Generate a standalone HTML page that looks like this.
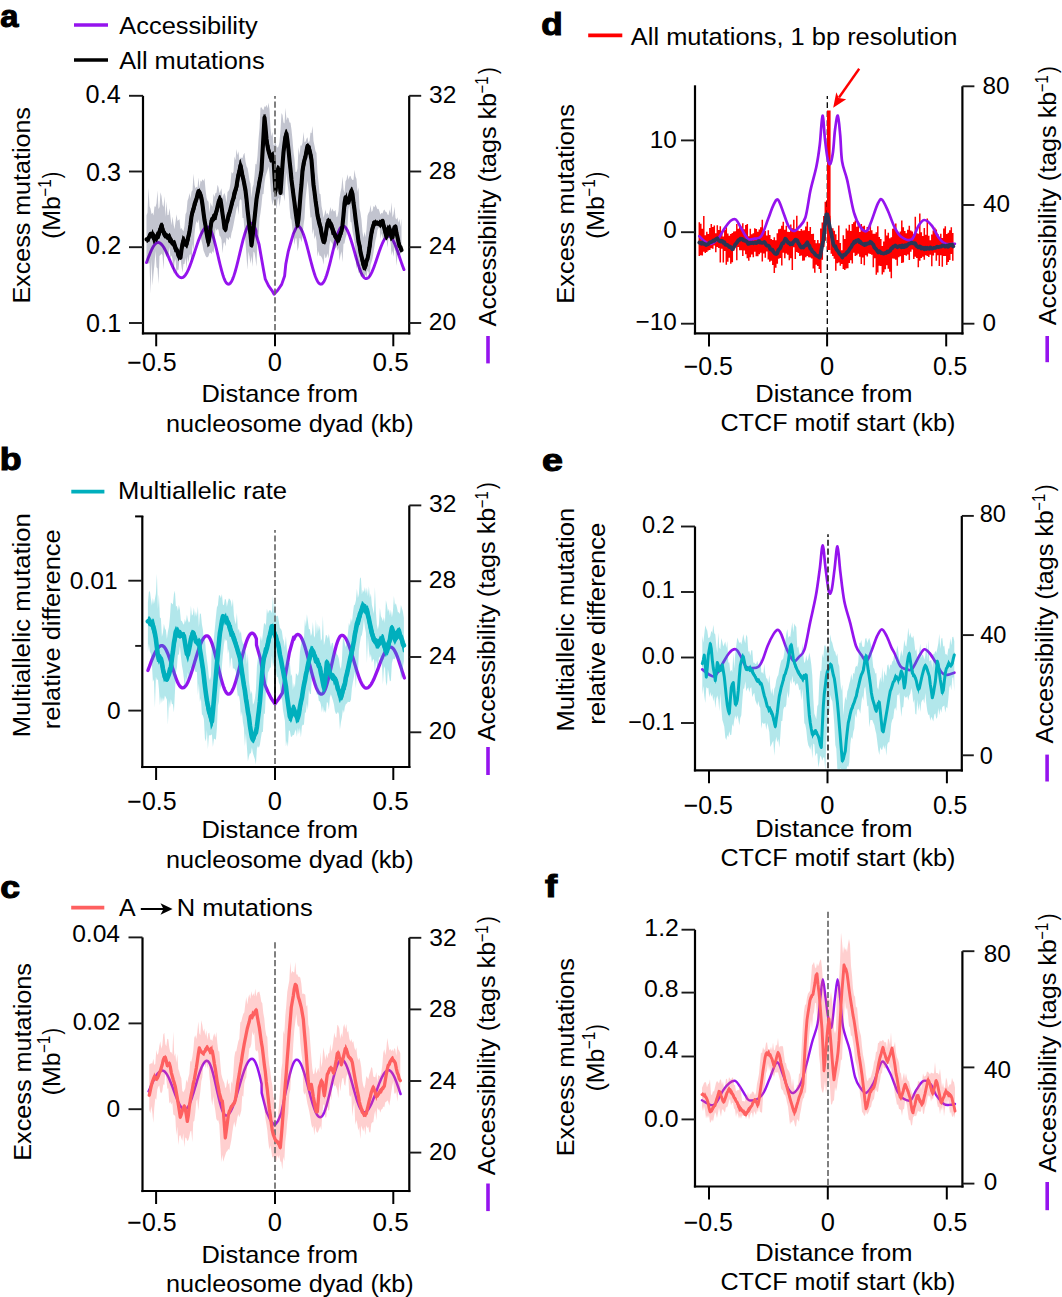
<!DOCTYPE html>
<html><head><meta charset="utf-8"><style>
html,body{margin:0;padding:0;background:#fff;overflow:hidden;width:1062px;height:1297px;}
svg{display:block;font-family:"Liberation Sans", sans-serif;}
</style></head><body>
<svg width="1062" height="1297" viewBox="0 0 1062 1297">
<rect width="1062" height="1297" fill="#fff"/>
<line x1="143" y1="95.8" x2="143" y2="334.4" stroke="#000" stroke-width="2.2"/>
<line x1="409.2" y1="95.8" x2="409.2" y2="334.4" stroke="#000" stroke-width="2.2"/>
<line x1="141.9" y1="333.3" x2="410.3" y2="333.3" stroke="#000" stroke-width="2.2"/>
<line x1="129" y1="95.8" x2="143" y2="95.8" stroke="#1a1a1a" stroke-width="1.9"/>
<line x1="129" y1="171.5" x2="143" y2="171.5" stroke="#1a1a1a" stroke-width="1.9"/>
<line x1="129" y1="247.2" x2="143" y2="247.2" stroke="#1a1a1a" stroke-width="1.9"/>
<line x1="129" y1="323" x2="143" y2="323" stroke="#1a1a1a" stroke-width="1.9"/>
<line x1="409.2" y1="95.8" x2="421.2" y2="95.8" stroke="#1a1a1a" stroke-width="1.9"/>
<line x1="409.2" y1="171.5" x2="421.2" y2="171.5" stroke="#1a1a1a" stroke-width="1.9"/>
<line x1="409.2" y1="247.2" x2="421.2" y2="247.2" stroke="#1a1a1a" stroke-width="1.9"/>
<line x1="409.2" y1="323" x2="421.2" y2="323" stroke="#1a1a1a" stroke-width="1.9"/>
<line x1="156.2" y1="333.3" x2="156.2" y2="346.3" stroke="#000" stroke-width="2"/>
<line x1="275" y1="333.3" x2="275" y2="346.3" stroke="#000" stroke-width="2"/>
<line x1="393.3" y1="333.3" x2="393.3" y2="346.3" stroke="#000" stroke-width="2"/>
<clipPath id="cp1"><rect x="144" y="40" width="264.2" height="292.2"/></clipPath><g clip-path="url(#cp1)">
<path d="M146.5 262.59 L147 261.25 L147.5 259.91 L148 258.58 L148.5 257.26 L149 255.97 L149.5 254.7 L150 253.46 L150.5 252.26 L151 251.11 L151.5 250.01 L152 248.97 L152.5 247.99 L153 247.08 L153.5 246.24 L154 245.48 L154.5 244.79 L155 244.19 L155.5 243.68 L156 243.26 L156.5 242.93 L157 242.69 L157.5 242.55 L158 242.5 L158.5 242.54 L159 242.66 L159.5 242.85 L160 243.12 L160.5 243.47 L161 243.88 L161.5 244.38 L162 244.94 L162.5 245.56 L163 246.26 L163.5 247.01 L164 247.82 L164.5 248.69 L165 249.6 L165.5 250.57 L166 251.57 L166.5 252.61 L167 253.69 L167.5 254.8 L168 255.92 L168.5 257.07 L169 258.23 L169.5 259.4 L170 260.57 L170.5 261.74 L171 262.9 L171.5 264.05 L172 265.18 L172.5 266.29 L173 267.37 L173.5 268.42 L174 269.44 L174.5 270.41 L175 271.33 L175.5 272.21 L176 273.03 L176.5 273.8 L177 274.5 L177.5 275.14 L178 275.72 L178.5 276.22 L179 276.66 L179.5 277.02 L180 277.3 L180.5 277.51 L181 277.64 L181.5 277.7 L182 277.67 L182.5 277.55 L183 277.33 L183.5 277.03 L184 276.63 L184.5 276.14 L185 275.57 L185.5 274.91 L186 274.17 L186.5 273.34 L187 272.44 L187.5 271.47 L188 270.42 L188.5 269.31 L189 268.14 L189.5 266.9 L190 265.62 L190.5 264.28 L191 262.9 L191.5 261.48 L192 260.03 L192.5 258.55 L193 257.05 L193.5 255.53 L194 253.99 L194.5 252.45 L195 250.91 L195.5 249.38 L196 247.86 L196.5 246.35 L197 244.86 L197.5 243.4 L198 241.98 L198.5 240.59 L199 239.25 L199.5 237.95 L200 236.71 L200.5 235.52 L201 234.39 L201.5 233.34 L202 232.35 L202.5 231.43 L203 230.59 L203.5 229.83 L204 229.15 L204.5 228.56 L205 228.06 L205.5 227.64 L206 227.32 L206.5 227.09 L207 226.95 L207.5 226.9 L208 226.98 L208.5 227.22 L209 227.63 L209.5 228.18 L210 228.9 L210.5 229.76 L211 230.77 L211.5 231.92 L212 233.21 L212.5 234.62 L213 236.15 L213.5 237.78 L214 239.52 L214.5 241.35 L215 243.26 L215.5 245.24 L216 247.27 L216.5 249.35 L217 251.47 L217.5 253.61 L218 255.77 L218.5 257.92 L219 260.05 L219.5 262.16 L220 264.24 L220.5 266.26 L221 268.23 L221.5 270.12 L222 271.93 L222.5 273.65 L223 275.27 L223.5 276.77 L224 278.16 L224.5 279.42 L225 280.54 L225.5 281.52 L226 282.36 L226.5 283.04 L227 283.57 L227.5 283.94 L228 284.15 L228.5 284.2 L229 284.09 L229.5 283.84 L230 283.45 L230.5 282.91 L231 282.23 L231.5 281.41 L232 280.46 L232.5 279.38 L233 278.17 L233.5 276.85 L234 275.42 L234.5 273.88 L235 272.24 L235.5 270.51 L236 268.7 L236.5 266.82 L237 264.88 L237.5 262.88 L238 260.84 L238.5 258.76 L239 256.66 L239.5 254.55 L240 252.43 L240.5 250.32 L241 248.22 L241.5 246.15 L242 244.11 L242.5 242.13 L243 240.19 L243.5 238.33 L244 236.54 L244.5 234.83 L245 233.21 L245.5 231.69 L246 230.28 L246.5 228.98 L247 227.79 L247.5 226.74 L248 225.81 L248.5 225.02 L249 224.37 L249.5 223.86 L250 223.49 L250.5 223.27 L251 223.2 L251.5 223.28 L252 223.51 L252.5 223.9 L253 224.45 L253.5 225.14 L254 225.99 L254.5 226.97 L255 228.1 L255.5 229.36 L256 230.75 L256.1 234.6 L259.1 244.5 L261 255.6 L263.7 270.7 L265.3 279.2 L268.6 285.8 L271.8 290.3 L274.1 294.2 L277.7 290.3 L281.7 284.4 L284.6 276 L285.8 264.1 L288.2 251.7 L290.8 242.5 L293.5 233.3 L296.7 226.8 L297 226.15 L297.5 226.01 L298 226.02 L298.5 226.17 L299 226.45 L299.5 226.86 L300 227.4 L300.5 228.07 L301 228.86 L301.5 229.77 L302 230.8 L302.5 231.93 L303 233.18 L303.5 234.52 L304 235.96 L304.5 237.49 L305 239.1 L305.5 240.78 L306 242.52 L306.5 244.33 L307 246.18 L307.5 248.08 L308 250 L308.5 251.95 L309 253.92 L309.5 255.89 L310 257.85 L310.5 259.81 L311 261.74 L311.5 263.64 L312 265.5 L312.5 267.32 L313 269.08 L313.5 270.77 L314 272.4 L314.5 273.94 L315 275.4 L315.5 276.76 L316 278.03 L316.5 279.19 L317 280.24 L317.5 281.17 L318 281.98 L318.5 282.68 L319 283.24 L319.5 283.68 L320 283.98 L320.5 284.16 L321 284.2 L321.5 284.09 L322 283.84 L322.5 283.45 L323 282.91 L323.5 282.23 L324 281.42 L324.5 280.47 L325 279.4 L325.5 278.2 L326 276.88 L326.5 275.46 L327 273.93 L327.5 272.3 L328 270.59 L328.5 268.81 L329 266.95 L329.5 265.03 L330 263.06 L330.5 261.06 L331 259.02 L331.5 256.96 L332 254.89 L332.5 252.83 L333 250.77 L333.5 248.74 L334 246.74 L334.5 244.78 L335 242.87 L335.5 241.03 L336 239.26 L336.5 237.56 L337 235.96 L337.5 234.45 L338 233.05 L338.5 231.75 L339 230.58 L339.5 229.53 L340 228.61 L340.5 227.82 L341 227.17 L341.5 226.66 L342 226.29 L342.5 226.07 L343 226 L343.5 226.06 L344 226.24 L344.5 226.54 L345 226.96 L345.5 227.49 L346 228.14 L346.5 228.9 L347 229.76 L347.5 230.73 L348 231.8 L348.5 232.96 L349 234.21 L349.5 235.55 L350 236.96 L350.5 238.44 L351 239.98 L351.5 241.58 L352 243.23 L352.5 244.92 L353 246.65 L353.5 248.4 L354 250.17 L354.5 251.94 L355 253.72 L355.5 255.5 L356 257.26 L356.5 258.99 L357 260.7 L357.5 262.36 L358 263.99 L358.5 265.55 L359 267.06 L359.5 268.5 L360 269.86 L360.5 271.15 L361 272.34 L361.5 273.45 L362 274.46 L362.5 275.37 L363 276.17 L363.5 276.86 L364 277.44 L364.5 277.91 L365 278.25 L365.5 278.48 L366 278.59 L366.5 278.58 L367 278.46 L367.5 278.24 L368 277.91 L368.5 277.48 L369 276.95 L369.5 276.32 L370 275.6 L370.5 274.79 L371 273.88 L371.5 272.9 L372 271.84 L372.5 270.7 L373 269.5 L373.5 268.23 L374 266.92 L374.5 265.55 L375 264.14 L375.5 262.7 L376 261.24 L376.5 259.75 L377 258.25 L377.5 256.75 L378 255.25 L378.5 253.76 L379 252.29 L379.5 250.84 L380 249.43 L380.5 248.05 L381 246.72 L381.5 245.45 L382 244.24 L382.5 243.09 L383 242.01 L383.5 241.01 L384 240.09 L384.5 239.26 L385 238.51 L385.5 237.86 L386 237.31 L386.5 236.86 L387 236.52 L387.5 236.27 L388 236.13 L388.5 236.1 L389 236.17 L389.5 236.35 L390 236.63 L390.5 237.01 L391 237.49 L391.5 238.06 L392 238.73 L392.5 239.49 L393 240.34 L393.5 241.27 L394 242.28 L394.5 243.36 L395 244.51 L395.5 245.73 L396 247 L396.5 248.32 L397 249.69 L397.5 251.09 L398 252.53 L398.5 253.99 L399 255.47 L399.5 256.95 L400 258.44 L400.5 259.93 L401 261.41 L401.5 262.86 L402 264.29 L402.5 265.69 L403 267.05 L403.5 268.36 L404 269.62" fill="none" stroke="#9513ee" stroke-width="2.9" stroke-linejoin="round" stroke-linecap="round"/>
<path d="M146.5 215.32 L147.5 212.85 L148.5 187.83 L149.5 206.22 L150.5 208.61 L151.5 214.09 L152.5 212.66 L153.5 215.43 L154.5 206.21 L155.5 207.12 L156.5 203.23 L157.5 190.39 L158.5 209.02 L159.5 206.9 L160.5 192.23 L161.5 196.22 L162.5 204.77 L163.5 206.99 L164.5 196.19 L165.5 216.76 L166.5 201.57 L167.5 215.21 L168.5 215.04 L169.5 208.18 L170.5 216.98 L171.5 225.27 L172.5 216.57 L173.5 223.97 L174.5 229.26 L175.5 222.09 L176.5 214.22 L177.5 221.07 L178.5 219.88 L179.5 219.31 L180.5 228.92 L181.5 227.95 L182.5 229.91 L183.5 231.37 L184.5 225.83 L185.5 214.17 L186.5 211.99 L187.5 200.73 L188.5 198.02 L189.5 193.09 L190.5 198.81 L191.5 191.84 L192.5 190.35 L193.5 173.68 L194.5 185.07 L195.5 188.28 L196.5 186.76 L197.5 187.82 L198.5 177.56 L199.5 188.38 L200.5 180.49 L201.5 181.69 L202.5 179.19 L203.5 181 L204.5 178.28 L205.5 189.47 L206.5 197.53 L207.5 200.78 L208.5 201.86 L209.5 212.63 L210.5 202.62 L211.5 205.18 L212.5 206.67 L213.5 193.74 L214.5 196.95 L215.5 193.09 L216.5 192.67 L217.5 184.85 L218.5 187.25 L219.5 193.23 L220.5 190.82 L221.5 188.17 L222.5 198.3 L223.5 194.72 L224.5 193.1 L225.5 196.35 L226.5 203.1 L227.5 192.1 L228.5 190.93 L229.5 189.06 L230.5 183.09 L231.5 171.92 L232.5 173.52 L233.5 171.87 L234.5 156.41 L235.5 160.35 L236.5 148.98 L237.5 155.21 L238.5 151.13 L239.5 160.67 L240.5 157.43 L241.5 157.72 L242.5 158.09 L243.5 154.5 L244.5 152.7 L245.5 161.56 L246.5 166.3 L247.5 168.1 L248.5 173.44 L249.5 180.62 L250.5 183.82 L251.5 197.6 L252.5 187.48 L253.5 184.59 L254.5 175.45 L255.5 163.71 L256.5 164.55 L257.5 155.68 L258.5 139.52 L259.5 128.22 L260.5 107.74 L261.5 107.3 L262.5 109.3 L263.5 109.92 L264.5 106.2 L265.5 106.93 L266.5 104.78 L267.5 108.32 L268.5 102.84 L269.5 109.54 L270.5 128.16 L271.5 136.53 L272.5 131.8 L273.5 145.16 L274.5 144.87 L275.5 142.64 L276.5 146.3 L277.5 147.64 L278.5 146.24 L279.5 141.88 L280.5 129.95 L281.5 112.99 L282.5 114.91 L283.5 122.49 L284.5 123.49 L285.5 107.84 L286.5 120.5 L287.5 117.22 L288.5 118.31 L289.5 122.49 L290.5 122.64 L291.5 129.85 L292.5 139.84 L293.5 151.69 L294.5 159.36 L295.5 172.03 L296.5 171.92 L297.5 168.51 L298.5 147.31 L299.5 155.16 L300.5 145.56 L301.5 145.8 L302.5 142.74 L303.5 131.91 L304.5 142.56 L305.5 141.44 L306.5 138.63 L307.5 137.25 L308.5 142.5 L309.5 141.27 L310.5 132.45 L311.5 133.14 L312.5 126.04 L313.5 140.94 L314.5 145.67 L315.5 150.95 L316.5 152.99 L317.5 173.06 L318.5 182.24 L319.5 193.56 L320.5 194.35 L321.5 206.02 L322.5 210.95 L323.5 217.68 L324.5 214.29 L325.5 209.41 L326.5 214.49 L327.5 212.85 L328.5 215.53 L329.5 211.31 L330.5 206.95 L331.5 211.65 L332.5 208.49 L333.5 211.29 L334.5 211.35 L335.5 209.78 L336.5 217.34 L337.5 216.22 L338.5 211.03 L339.5 198.33 L340.5 192.2 L341.5 187.54 L342.5 176.51 L343.5 189.44 L344.5 192.95 L345.5 181.3 L346.5 179.5 L347.5 174.22 L348.5 179.68 L349.5 176.62 L350.5 175.79 L351.5 178.65 L352.5 179.89 L353.5 179.86 L354.5 169.76 L355.5 176.6 L356.5 178.95 L357.5 192.05 L358.5 187.33 L359.5 207.94 L360.5 212.64 L361.5 219.89 L362.5 232.09 L363.5 237.69 L364.5 231.86 L365.5 237.16 L366.5 229.5 L367.5 215.81 L368.5 212.92 L369.5 211.47 L370.5 204.99 L371.5 212.03 L372.5 210.72 L373.5 206.05 L374.5 207.37 L375.5 204.62 L376.5 207.11 L377.5 209.18 L378.5 208.63 L379.5 211.55 L380.5 214.85 L381.5 212.65 L382.5 213.47 L383.5 210.57 L384.5 209.38 L385.5 211.7 L386.5 212.09 L387.5 214.48 L388.5 215.27 L389.5 209.46 L390.5 213.72 L391.5 202.27 L392.5 217.42 L393.5 214.05 L394.5 206.81 L395.5 218.11 L396.5 219.48 L397.5 217.36 L398.5 222.83 L399.5 218.69 L400.5 227 L401.5 218.31 L401.5 251.15 L400.5 253.82 L399.5 254.65 L398.5 255.87 L397.5 254.56 L396.5 265.85 L395.5 251.63 L394.5 246.7 L393.5 256.8 L392.5 250.7 L391.5 255.55 L390.5 240.44 L389.5 239.2 L388.5 237.9 L387.5 247.72 L386.5 237.8 L385.5 237.3 L384.5 240.47 L383.5 240.78 L382.5 237.3 L381.5 233.41 L380.5 238.88 L379.5 225.62 L378.5 228.18 L377.5 230.11 L376.5 236.36 L375.5 240.37 L374.5 246.42 L373.5 252.85 L372.5 258.38 L371.5 262.05 L370.5 265.32 L369.5 279.66 L368.5 271.88 L367.5 270.39 L366.5 277.95 L365.5 274.18 L364.5 277.29 L363.5 274.39 L362.5 274.46 L361.5 277.38 L360.5 275.71 L359.5 272.29 L358.5 272.69 L357.5 263.05 L356.5 269.14 L355.5 251.2 L354.5 242.07 L353.5 236.58 L352.5 231.15 L351.5 222.57 L350.5 221.64 L349.5 205.54 L348.5 209.34 L347.5 225.9 L346.5 234.87 L345.5 238.36 L344.5 243.52 L343.5 243.84 L342.5 262.15 L341.5 251.16 L340.5 254.95 L339.5 260.8 L338.5 247.86 L337.5 250.86 L336.5 246.13 L335.5 249.12 L334.5 245.15 L333.5 249.91 L332.5 243.64 L331.5 242.57 L330.5 240.17 L329.5 245.23 L328.5 258.55 L327.5 253.37 L326.5 257.21 L325.5 258.13 L324.5 253.59 L323.5 264.68 L322.5 259.26 L321.5 257.01 L320.5 255.73 L319.5 255.68 L318.5 250.89 L317.5 256.85 L316.5 241.11 L315.5 234.89 L314.5 239.31 L313.5 228.46 L312.5 234.39 L311.5 216.97 L310.5 217.63 L309.5 204.45 L308.5 188.81 L307.5 180.66 L306.5 189.89 L305.5 199.33 L304.5 218.24 L303.5 225.17 L302.5 236.5 L301.5 242.37 L300.5 238.72 L299.5 237.79 L298.5 247.27 L297.5 251.05 L296.5 238.5 L295.5 238.19 L294.5 245.12 L293.5 235.35 L292.5 229.89 L291.5 220.27 L290.5 218 L289.5 208.09 L288.5 191.53 L287.5 183.67 L286.5 172.38 L285.5 184.36 L284.5 201.38 L283.5 194.61 L282.5 195.95 L281.5 193.42 L280.5 199.94 L279.5 206.68 L278.5 197.45 L277.5 200.46 L276.5 209.62 L275.5 200.13 L274.5 199.6 L273.5 200.43 L272.5 205.23 L271.5 199.36 L270.5 186.28 L269.5 173.81 L268.5 166.39 L267.5 170.55 L266.5 173.53 L265.5 176.48 L264.5 183.15 L263.5 194.09 L262.5 194.35 L261.5 204.75 L260.5 213.1 L259.5 218.69 L258.5 239.35 L257.5 237.6 L256.5 266.68 L255.5 258.99 L254.5 252.84 L253.5 251.42 L252.5 266.97 L251.5 256.03 L250.5 263.79 L249.5 256.84 L248.5 251.35 L247.5 269.83 L246.5 256.39 L245.5 242.62 L244.5 229.94 L243.5 218.01 L242.5 218.04 L241.5 200.6 L240.5 198.96 L239.5 201.07 L238.5 215.06 L237.5 205.76 L236.5 208.77 L235.5 214.59 L234.5 219.38 L233.5 225.07 L232.5 229.78 L231.5 233.11 L230.5 239.02 L229.5 236.77 L228.5 240.36 L227.5 238.48 L226.5 237.52 L225.5 246.45 L224.5 242.09 L223.5 243.4 L222.5 253.37 L221.5 239.63 L220.5 236.86 L219.5 235.87 L218.5 229.75 L217.5 228.97 L216.5 230.77 L215.5 227.69 L214.5 246.52 L213.5 252.97 L212.5 250.88 L211.5 254.21 L210.5 252.38 L209.5 252.93 L208.5 256.17 L207.5 257.18 L206.5 257.14 L205.5 255.65 L204.5 252.89 L203.5 250.42 L202.5 245.02 L201.5 240.87 L200.5 235.21 L199.5 228.26 L198.5 219.23 L197.5 223.32 L196.5 220.91 L195.5 225.28 L194.5 234.18 L193.5 250.58 L192.5 244.01 L191.5 262.11 L190.5 254.08 L189.5 255.03 L188.5 262.71 L187.5 256.21 L186.5 269.03 L185.5 257.65 L184.5 264.03 L183.5 263.9 L182.5 272.59 L181.5 266.54 L180.5 259.04 L179.5 259.04 L178.5 270.05 L177.5 269.53 L176.5 274.66 L175.5 259.04 L174.5 262.31 L173.5 274.47 L172.5 259.1 L171.5 255.31 L170.5 258.15 L169.5 247.05 L168.5 254.99 L167.5 253.96 L166.5 257.54 L165.5 254.55 L164.5 248.82 L163.5 269.54 L162.5 255.22 L161.5 253.51 L160.5 255.02 L159.5 255.88 L158.5 284.12 L157.5 268.56 L156.5 267.17 L155.5 250.78 L154.5 263.67 L153.5 273.52 L152.5 285.6 L151.5 259 L150.5 293.91 L149.5 263.05 L148.5 263.61 L147.5 263.87 L146.5 259.86 Z" fill="#0a1440" fill-opacity="0.25" stroke="none"/>
<path d="M146.5 239.42 L147.5 239.36 L148.5 238.17 L149.5 236.12 L150.5 233.88 L151.5 233.7 L152.5 235.01 L153.5 237.92 L154.5 238.75 L155.5 238.89 L156.5 236.44 L157.5 236.67 L158.5 234.33 L159.5 231.97 L160.5 228.99 L161.5 225.24 L162.5 229.17 L163.5 232.12 L164.5 234.38 L165.5 235.83 L166.5 235.11 L167.5 237.73 L168.5 237.89 L169.5 238.68 L170.5 240.75 L171.5 240.95 L172.5 243.67 L173.5 244.25 L174.5 245.82 L175.5 248.63 L176.5 249.98 L177.5 251.84 L178.5 255.75 L179.5 257.13 L180.5 257.64 L181.5 249.77 L182.5 243.8 L183.5 240.51 L184.5 242.18 L185.5 244.8 L186.5 244.63 L187.5 240 L188.5 236.07 L189.5 231.52 L190.5 224.58 L191.5 216.33 L192.5 211.8 L193.5 209.24 L194.5 204.39 L195.5 201.25 L196.5 198.84 L197.5 194.32 L198.5 191.01 L199.5 192.25 L200.5 194.83 L201.5 198.4 L202.5 204.67 L203.5 212.79 L204.5 220.2 L205.5 225.71 L206.5 232.55 L207.5 238.25 L208.5 242.25 L209.5 236.7 L210.5 228.15 L211.5 220.8 L212.5 218.69 L213.5 217.78 L214.5 216.24 L215.5 214.06 L216.5 211.1 L217.5 206.83 L218.5 202.32 L219.5 199.59 L220.5 199.78 L221.5 206.26 L222.5 213.75 L223.5 220.25 L224.5 228.13 L225.5 229.4 L226.5 222.79 L227.5 220.57 L228.5 215.32 L229.5 212.77 L230.5 208.98 L231.5 204.99 L232.5 200.69 L233.5 198.2 L234.5 192.72 L235.5 189.86 L236.5 186.37 L237.5 179.72 L238.5 174.79 L239.5 170.56 L240.5 165.31 L241.5 170.62 L242.5 176.01 L243.5 179.77 L244.5 185.08 L245.5 190.49 L246.5 198.93 L247.5 209.54 L248.5 218.27 L249.5 227.07 L250.5 234.58 L251.5 245.2 L252.5 237.55 L253.5 227.73 L254.5 219.01 L255.5 209.17 L256.5 199.45 L257.5 193.39 L258.5 187.83 L259.5 181.63 L260.5 176.41 L261.5 170.25 L262.5 152.62 L263.5 135.41 L264.5 117.62 L265.5 127.57 L266.5 138.99 L267.5 146.17 L268.5 150.88 L269.5 154.35 L270.5 157.83 L271.5 157.82 L272.5 156.5 L273.5 158.56 L274.5 176.3 L275.5 190.99 L276.5 182.46 L277.5 170.58 L278.5 169.22 L279.5 181.47 L280.5 192.91 L281.5 179.42 L282.5 165.15 L283.5 152.18 L284.5 143.65 L285.5 136.63 L286.5 133.9 L287.5 141.13 L288.5 149.63 L289.5 160.26 L290.5 169.24 L291.5 179.98 L292.5 187.85 L293.5 195.85 L294.5 202.7 L295.5 210.97 L296.5 218.35 L297.5 225.51 L298.5 219.17 L299.5 207.91 L300.5 194.74 L301.5 184.32 L302.5 170.71 L303.5 164.31 L304.5 159.79 L305.5 156.75 L306.5 150.91 L307.5 145.82 L308.5 147.08 L309.5 150.13 L310.5 154.47 L311.5 160.16 L312.5 172.61 L313.5 185.01 L314.5 191.99 L315.5 200.36 L316.5 207.23 L317.5 215.19 L318.5 219.72 L319.5 224.4 L320.5 227.28 L321.5 233.41 L322.5 237.91 L323.5 241.86 L324.5 241.11 L325.5 235.31 L326.5 229.12 L327.5 222.97 L328.5 222.99 L329.5 224.24 L330.5 225.21 L331.5 226.92 L332.5 229.19 L333.5 231.31 L334.5 233.74 L335.5 235.36 L336.5 238 L337.5 238.22 L338.5 239.37 L339.5 236.9 L340.5 233.42 L341.5 231.22 L342.5 225.24 L343.5 215.04 L344.5 203.28 L345.5 197.33 L346.5 200.58 L347.5 201.63 L348.5 202.61 L349.5 198.49 L350.5 193.67 L351.5 190.79 L352.5 194.1 L353.5 202.65 L354.5 209.69 L355.5 218.41 L356.5 226.08 L357.5 233.43 L358.5 241.65 L359.5 245.44 L360.5 252.22 L361.5 256.24 L362.5 260.27 L363.5 264.64 L364.5 268.32 L365.5 265.76 L366.5 260.81 L367.5 258.78 L368.5 253.78 L369.5 247.39 L370.5 239.17 L371.5 232.79 L372.5 228.19 L373.5 225.54 L374.5 222.33 L375.5 223.95 L376.5 222.89 L377.5 223.01 L378.5 224.24 L379.5 223.72 L380.5 222.25 L381.5 222.61 L382.5 220.8 L383.5 225.19 L384.5 228.9 L385.5 232.98 L386.5 236.56 L387.5 231.89 L388.5 227.85 L389.5 228.59 L390.5 233.58 L391.5 235.97 L392.5 237.38 L393.5 231.27 L394.5 227.24 L395.5 226.73 L396.5 233 L397.5 237.2 L398.5 241.96 L399.5 246.14 L400.5 247.23 L401.5 250.07" fill="none" stroke="#000" stroke-width="4.1" stroke-linejoin="round" stroke-linecap="round"/>
<path d="M146.5 238.06 L147.5 236.93 L148.5 234.08 L149.5 233.81 L150.5 233.2 L151.5 232.14 L152.5 228.68 L153.5 231.65 L154.5 233.08 L155.5 235.09 L156.5 231.74 L157.5 231.49 L158.5 228.34 L159.5 226.74 L160.5 222.82 L161.5 222.79 L162.5 222.44 L163.5 224.79 L164.5 229.65 L165.5 230.99 L166.5 232.49 L167.5 234.46 L168.5 234 L169.5 232.79 L170.5 234.24 L171.5 237.07 L172.5 238.45 L173.5 240.74 L174.5 239.73 L175.5 240.87 L176.5 243.98 L177.5 247.3 L178.5 248.68 L179.5 251.15 L180.5 246.36 L181.5 240.32 L182.5 234.95 L183.5 236.22 L184.5 236.45 L185.5 239.95 L186.5 238.01 L187.5 233.84 L188.5 228.89 L189.5 220.45 L190.5 214.11 L191.5 208 L192.5 206.67 L193.5 202.69 L194.5 199.79 L195.5 197.29 L196.5 193.77 L197.5 189.63 L198.5 189.7 L199.5 187.99 L200.5 190.39 L201.5 192.29 L202.5 195.37 L203.5 202.02 L204.5 210.08 L205.5 217.58 L206.5 223.76 L207.5 229.48 L208.5 233.31 L209.5 226.66 L210.5 217.69 L211.5 217.42 L212.5 213.97 L213.5 214.11 L214.5 211.51 L215.5 210.1 L216.5 206.19 L217.5 200.28 L218.5 196.22 L219.5 194.73 L220.5 195.26 L221.5 198.24 L222.5 203.89 L223.5 211.57 L224.5 217.88 L225.5 221.34 L226.5 217.78 L227.5 212.86 L228.5 210.8 L229.5 208.17 L230.5 202.69 L231.5 197.91 L232.5 194.35 L233.5 189.7 L234.5 188.76 L235.5 184.35 L236.5 174.69 L237.5 172.04 L238.5 166.5 L239.5 160.37 L240.5 158.87 L241.5 162.85 L242.5 166.56 L243.5 171.88 L244.5 177.57 L245.5 183.32 L246.5 187.95 L247.5 196.84 L248.5 205.74 L249.5 216.16 L250.5 225.64 L251.5 233.11 L252.5 222.68 L253.5 214.66 L254.5 206.23 L255.5 196.42 L256.5 189.82 L257.5 182.85 L258.5 178.07 L259.5 173.89 L260.5 166.8 L261.5 148.93 L262.5 131.23 L263.5 114.35 L264.5 114.44 L265.5 114.05 L266.5 124.56 L267.5 135.94 L268.5 142.37 L269.5 145.89 L270.5 150.5 L271.5 152.89 L272.5 151.85 L273.5 150.92 L274.5 156.15 L275.5 171.65 L276.5 167.21 L277.5 164.7 L278.5 165.41 L279.5 166.15 L280.5 177.64 L281.5 160.78 L282.5 149.72 L283.5 138.3 L284.5 132.84 L285.5 129.53 L286.5 128.75 L287.5 131.62 L288.5 139.49 L289.5 147.54 L290.5 157.36 L291.5 167.08 L292.5 177.07 L293.5 185.77 L294.5 189.73 L295.5 200.01 L296.5 208.54 L297.5 215.13 L298.5 204.64 L299.5 193.38 L300.5 179.1 L301.5 167.98 L302.5 162.48 L303.5 156.56 L304.5 153.4 L305.5 147.4 L306.5 144.55 L307.5 143.35 L308.5 143.43 L309.5 145.86 L310.5 145.61 L311.5 151.82 L312.5 155.35 L313.5 167.22 L314.5 176.5 L315.5 189.22 L316.5 196.8 L317.5 202.97 L318.5 210.04 L319.5 216.14 L320.5 218.77 L321.5 223.76 L322.5 228.06 L323.5 233.94 L324.5 232.06 L325.5 226.41 L326.5 219.28 L327.5 218.42 L328.5 217.45 L329.5 219.12 L330.5 218.77 L331.5 221.3 L332.5 222.54 L333.5 224.71 L334.5 228.33 L335.5 233.05 L336.5 234.08 L337.5 234.83 L338.5 235.42 L339.5 232.03 L340.5 229.46 L341.5 221.78 L342.5 212.39 L343.5 201.7 L344.5 195.66 L345.5 195.77 L346.5 191.97 L347.5 196.97 L348.5 195.92 L349.5 192.3 L350.5 188.42 L351.5 186.61 L352.5 187.57 L353.5 192.16 L354.5 200.83 L355.5 208.13 L356.5 217 L357.5 222.83 L358.5 230.18 L359.5 237.27 L360.5 242.33 L361.5 246.87 L362.5 253.97 L363.5 260.27 L364.5 261.75 L365.5 258.82 L366.5 256.15 L367.5 249.13 L368.5 242.25 L369.5 238.8 L370.5 230.21 L371.5 225.16 L372.5 221.05 L373.5 221.8 L374.5 221.8 L375.5 218.93 L376.5 220.86 L377.5 220.32 L378.5 221.17 L379.5 219.39 L380.5 220 L381.5 220.33 L382.5 220.64 L383.5 218.49 L384.5 221.74 L385.5 225.19 L386.5 230.77 L387.5 224.39 L388.5 225.94 L389.5 224.15 L390.5 224.91 L391.5 229.78 L392.5 228.93 L393.5 225.5 L394.5 224.76 L395.5 224.34 L396.5 225.36 L397.5 229.92 L398.5 236.2 L399.5 239.7 L400.5 244.34 L401.5 245.97 L401.5 252.01 L400.5 252.84 L399.5 248.82 L398.5 246.75 L397.5 243.2 L396.5 239.82 L395.5 234.92 L394.5 234.33 L393.5 237.61 L392.5 237.8 L391.5 240.91 L390.5 241.27 L389.5 236.32 L388.5 234.97 L387.5 239.1 L386.5 240.47 L385.5 239.58 L384.5 236.24 L383.5 231.86 L382.5 227.25 L381.5 226.52 L380.5 228.42 L379.5 227.19 L378.5 225.15 L377.5 224.95 L376.5 224.71 L375.5 224.32 L374.5 227.07 L373.5 232.59 L372.5 235.81 L371.5 245.93 L370.5 250.61 L369.5 256.36 L368.5 260.22 L367.5 265.59 L366.5 267.7 L365.5 271.71 L364.5 268.8 L363.5 269.12 L362.5 266.75 L361.5 265.23 L360.5 260.24 L359.5 254.43 L358.5 248.92 L357.5 244.45 L356.5 236.27 L355.5 227.94 L354.5 221.87 L353.5 212.05 L352.5 206.38 L351.5 196.18 L350.5 200.63 L349.5 204.06 L348.5 203.95 L347.5 204.53 L346.5 205.74 L345.5 208.82 L344.5 218.57 L343.5 228.17 L342.5 234.69 L341.5 235.76 L340.5 240.36 L339.5 242.87 L338.5 242.66 L337.5 246.13 L336.5 243.07 L335.5 240.65 L334.5 239.1 L333.5 237.74 L332.5 234.89 L331.5 234.82 L330.5 229.16 L329.5 227.71 L328.5 226.3 L327.5 234.2 L326.5 239 L325.5 244.32 L324.5 244.5 L323.5 243.76 L322.5 242.96 L321.5 239.46 L320.5 235.34 L319.5 230.16 L318.5 226.77 L317.5 222.26 L316.5 218.36 L315.5 210.78 L314.5 204.18 L313.5 195.55 L312.5 187.86 L311.5 175.29 L310.5 162.95 L309.5 155.93 L308.5 154.16 L307.5 152.78 L306.5 157.49 L305.5 164.19 L304.5 169.23 L303.5 174.43 L302.5 187.78 L301.5 197.27 L300.5 209.38 L299.5 222.49 L298.5 227.19 L297.5 226.89 L296.5 229.46 L295.5 219.98 L294.5 212.96 L293.5 205.84 L292.5 196.31 L291.5 188.95 L290.5 184.18 L289.5 173.49 L288.5 164.19 L287.5 151.69 L286.5 145.04 L285.5 147.77 L284.5 154.72 L283.5 167.01 L282.5 182.5 L281.5 194.42 L280.5 194.41 L279.5 194.04 L278.5 181.96 L277.5 187.41 L276.5 196.89 L275.5 194.35 L274.5 193.16 L273.5 177.18 L272.5 162.07 L271.5 162.38 L270.5 162.65 L269.5 161.57 L268.5 155.7 L267.5 153.18 L266.5 149.45 L265.5 143.84 L264.5 139.09 L263.5 154.73 L262.5 172.61 L261.5 179.43 L260.5 185.95 L259.5 192.01 L258.5 195.4 L257.5 202.62 L256.5 212.92 L255.5 221.63 L254.5 230 L253.5 241.11 L252.5 248.05 L251.5 247.46 L250.5 246.56 L249.5 238.25 L248.5 230.71 L247.5 220.75 L246.5 211.82 L245.5 203.66 L244.5 194.63 L243.5 188.38 L242.5 182.9 L241.5 178.71 L240.5 173.59 L239.5 178.58 L238.5 185.9 L237.5 190.47 L236.5 193.97 L235.5 198.46 L234.5 200.4 L233.5 204.75 L232.5 206.64 L231.5 210.72 L230.5 216.36 L229.5 218.38 L228.5 222.44 L227.5 225.42 L226.5 231.42 L225.5 232.38 L224.5 231.85 L223.5 228.88 L222.5 223.62 L221.5 215.63 L220.5 209.49 L219.5 206.1 L218.5 211.12 L217.5 215.25 L216.5 220.11 L215.5 220.09 L214.5 221.27 L213.5 222.12 L212.5 224.69 L211.5 231.1 L210.5 238.62 L209.5 245.93 L208.5 246.54 L207.5 247.38 L206.5 241.4 L205.5 234.75 L204.5 228.38 L203.5 221.8 L202.5 214.01 L201.5 209.83 L200.5 202.01 L199.5 198.22 L198.5 197.64 L197.5 202.12 L196.5 205.39 L195.5 207.89 L194.5 212.27 L193.5 214.55 L192.5 220.1 L191.5 226.06 L190.5 234.39 L189.5 240.57 L188.5 243.15 L187.5 248.22 L186.5 248.42 L185.5 246.58 L184.5 245.91 L183.5 245.7 L182.5 253.64 L181.5 258 L180.5 260.09 L179.5 259.04 L178.5 261.38 L177.5 257.6 L176.5 254.9 L175.5 251.56 L174.5 252.6 L173.5 247.9 L172.5 245.44 L171.5 244.6 L170.5 243.53 L169.5 243.21 L168.5 242.58 L167.5 239.82 L166.5 238.79 L165.5 238.31 L164.5 238.53 L163.5 236.95 L162.5 234.98 L161.5 231.21 L160.5 235.44 L159.5 238.78 L158.5 239.11 L157.5 241.06 L156.5 242.31 L155.5 241.37 L154.5 243.34 L153.5 243.91 L152.5 240.23 L151.5 237.43 L150.5 238.28 L149.5 241.71 L148.5 241.84 L147.5 243.05 L146.5 242.41 Z" fill="#000" stroke="none"/>
<line x1="275" y1="96" x2="275" y2="333" stroke="#6a6a6a" stroke-width="1.7" stroke-dasharray="6.2 2.7" stroke-dashoffset="3.4"/>
</g>
<line x1="74" y1="25" x2="108" y2="25" stroke="#9513ee" stroke-width="3.7"/>
<line x1="74" y1="60" x2="108" y2="60" stroke="#000" stroke-width="3.7"/>
<line x1="488" y1="336" x2="488" y2="363.4" stroke="#9513ee" stroke-width="3.6"/>
<line x1="142.3" y1="516" x2="142.3" y2="768.1" stroke="#000" stroke-width="2.2"/>
<line x1="409.3" y1="505.4" x2="409.3" y2="768.1" stroke="#000" stroke-width="2.2"/>
<line x1="141.2" y1="767" x2="410.4" y2="767" stroke="#000" stroke-width="2.2"/>
<line x1="128.3" y1="580.7" x2="142.3" y2="580.7" stroke="#1a1a1a" stroke-width="1.9"/>
<line x1="128.3" y1="710.6" x2="142.3" y2="710.6" stroke="#1a1a1a" stroke-width="1.9"/>
<line x1="409.3" y1="505.4" x2="421.3" y2="505.4" stroke="#1a1a1a" stroke-width="1.9"/>
<line x1="409.3" y1="581.2" x2="421.3" y2="581.2" stroke="#1a1a1a" stroke-width="1.9"/>
<line x1="409.3" y1="657" x2="421.3" y2="657" stroke="#1a1a1a" stroke-width="1.9"/>
<line x1="409.3" y1="732.3" x2="421.3" y2="732.3" stroke="#1a1a1a" stroke-width="1.9"/>
<line x1="156.1" y1="767" x2="156.1" y2="780" stroke="#000" stroke-width="2"/>
<line x1="275" y1="767" x2="275" y2="780" stroke="#000" stroke-width="2"/>
<line x1="393.3" y1="767" x2="393.3" y2="780" stroke="#000" stroke-width="2"/>
<line x1="135.2" y1="645.9" x2="142.3" y2="645.9" stroke="#1a1a1a" stroke-width="1.9"/>
<line x1="135.1" y1="516.4" x2="143.3" y2="516.4" stroke="#000" stroke-width="2"/>
<clipPath id="cp2"><rect x="144" y="480" width="264.3" height="285.9"/></clipPath><g clip-path="url(#cp2)">
<path d="M147.9 670.5 L148.4 669.15 L148.9 667.8 L149.4 666.45 L149.9 665.1 L150.4 663.77 L150.9 662.45 L151.4 661.15 L151.9 659.87 L152.4 658.62 L152.9 657.41 L153.4 656.24 L153.9 655.1 L154.4 654.02 L154.9 652.99 L155.4 652.01 L155.9 651.09 L156.4 650.23 L156.9 649.44 L157.4 648.71 L157.9 648.06 L158.4 647.48 L158.9 646.97 L159.4 646.54 L159.9 646.19 L160.4 645.92 L160.9 645.73 L161.4 645.63 L161.9 645.6 L162.4 645.69 L162.9 645.89 L163.4 646.21 L163.9 646.65 L164.4 647.21 L164.9 647.88 L165.4 648.65 L165.9 649.53 L166.4 650.5 L166.9 651.57 L167.4 652.72 L167.9 653.96 L168.4 655.27 L168.9 656.64 L169.4 658.07 L169.9 659.55 L170.4 661.07 L170.9 662.62 L171.4 664.2 L171.9 665.79 L172.4 667.39 L172.9 668.98 L173.4 670.56 L173.9 672.12 L174.4 673.65 L174.9 675.14 L175.4 676.58 L175.9 677.96 L176.4 679.28 L176.9 680.53 L177.4 681.71 L177.9 682.79 L178.4 683.79 L178.9 684.68 L179.4 685.48 L179.9 686.17 L180.4 686.74 L180.9 687.21 L181.4 687.55 L181.9 687.78 L182.4 687.89 L182.9 687.88 L183.4 687.76 L183.9 687.53 L184.4 687.2 L184.9 686.76 L185.4 686.21 L185.9 685.56 L186.4 684.82 L186.9 683.98 L187.4 683.04 L187.9 682.02 L188.4 680.91 L188.9 679.73 L189.4 678.47 L189.9 677.13 L190.4 675.74 L190.9 674.29 L191.4 672.78 L191.9 671.23 L192.4 669.64 L192.9 668.02 L193.4 666.37 L193.9 664.71 L194.4 663.03 L194.9 661.34 L195.4 659.66 L195.9 657.99 L196.4 656.34 L196.9 654.7 L197.4 653.1 L197.9 651.53 L198.4 650.01 L198.9 648.53 L199.4 647.12 L199.9 645.76 L200.4 644.47 L200.9 643.25 L201.4 642.11 L201.9 641.06 L202.4 640.09 L202.9 639.21 L203.4 638.42 L203.9 637.73 L204.4 637.15 L204.9 636.67 L205.4 636.29 L205.9 636.02 L206.4 635.85 L206.9 635.8 L207.4 635.88 L207.9 636.11 L208.4 636.49 L208.9 637.02 L209.4 637.69 L209.9 638.51 L210.4 639.47 L210.9 640.56 L211.4 641.78 L211.9 643.12 L212.4 644.58 L212.9 646.14 L213.4 647.8 L213.9 649.55 L214.4 651.39 L214.9 653.29 L215.4 655.26 L215.9 657.27 L216.4 659.33 L216.9 661.42 L217.4 663.52 L217.9 665.63 L218.4 667.74 L218.9 669.84 L219.4 671.91 L219.9 673.94 L220.4 675.93 L220.9 677.86 L221.4 679.72 L221.9 681.51 L222.4 683.21 L222.9 684.81 L223.4 686.31 L223.9 687.7 L224.4 688.97 L224.9 690.11 L225.4 691.12 L225.9 692 L226.4 692.73 L226.9 693.32 L227.4 693.76 L227.9 694.05 L228.4 694.19 L228.9 694.18 L229.4 694.03 L229.9 693.74 L230.4 693.33 L230.9 692.78 L231.4 692.1 L231.9 691.3 L232.4 690.37 L232.9 689.33 L233.4 688.17 L233.9 686.91 L234.4 685.54 L234.9 684.07 L235.4 682.52 L235.9 680.88 L236.4 679.16 L236.9 677.37 L237.4 675.53 L237.9 673.63 L238.4 671.69 L238.9 669.71 L239.4 667.7 L239.9 665.68 L240.4 663.65 L240.9 661.62 L241.4 659.6 L241.9 657.59 L242.4 655.61 L242.9 653.67 L243.4 651.77 L243.9 649.93 L244.4 648.14 L244.9 646.42 L245.4 644.78 L245.9 643.23 L246.4 641.76 L246.9 640.39 L247.4 639.13 L247.9 637.97 L248.4 636.93 L248.9 636 L249.4 635.2 L249.9 634.52 L250.4 633.97 L250.9 633.56 L251.4 633.27 L251.9 633.12 L252.4 633.11 L252.9 633.27 L253.4 633.59 L253.9 634.08 L254.4 634.73 L254.9 635.54 L255.4 636.52 L255.9 637.64 L256.4 638.91 L256.5 645 L260.6 659.4 L264.7 684.4 L268 692 L271 698 L274.9 703.9 L278.5 699 L282.5 692.8 L285.3 676.1 L289.4 652.5 L293.6 637.2 L293.9 639.26 L294.4 638.11 L294.9 637.11 L295.4 636.27 L295.9 635.57 L296.4 635.04 L296.9 634.66 L297.4 634.45 L297.9 634.4 L298.4 634.5 L298.9 634.72 L299.4 635.08 L299.9 635.56 L300.4 636.17 L300.9 636.91 L301.4 637.77 L301.9 638.74 L302.4 639.83 L302.9 641.03 L303.4 642.33 L303.9 643.73 L304.4 645.22 L304.9 646.79 L305.4 648.44 L305.9 650.16 L306.4 651.94 L306.9 653.78 L307.4 655.67 L307.9 657.59 L308.4 659.54 L308.9 661.52 L309.4 663.5 L309.9 665.49 L310.4 667.48 L310.9 669.45 L311.4 671.4 L311.9 673.31 L312.4 675.19 L312.9 677.02 L313.4 678.79 L313.9 680.5 L314.4 682.13 L314.9 683.69 L315.4 685.16 L315.9 686.54 L316.4 687.82 L316.9 688.99 L317.4 690.06 L317.9 691.01 L318.4 691.85 L318.9 692.56 L319.4 693.15 L319.9 693.61 L320.4 693.94 L320.9 694.13 L321.4 694.2 L321.9 694.11 L322.4 693.85 L322.9 693.43 L323.4 692.83 L323.9 692.06 L324.4 691.14 L324.9 690.06 L325.4 688.84 L325.9 687.47 L326.4 685.97 L326.9 684.34 L327.4 682.6 L327.9 680.76 L328.4 678.82 L328.9 676.8 L329.4 674.7 L329.9 672.55 L330.4 670.36 L330.9 668.13 L331.4 665.88 L331.9 663.62 L332.4 661.37 L332.9 659.14 L333.4 656.95 L333.9 654.8 L334.4 652.7 L334.9 650.68 L335.4 648.74 L335.9 646.9 L336.4 645.16 L336.9 643.53 L337.4 642.03 L337.9 640.66 L338.4 639.44 L338.9 638.36 L339.4 637.44 L339.9 636.67 L340.4 636.07 L340.9 635.65 L341.4 635.39 L341.9 635.3 L342.4 635.35 L342.9 635.52 L343.4 635.79 L343.9 636.17 L344.4 636.66 L344.9 637.25 L345.4 637.94 L345.9 638.72 L346.4 639.61 L346.9 640.58 L347.4 641.65 L347.9 642.79 L348.4 644.02 L348.9 645.32 L349.4 646.68 L349.9 648.11 L350.4 649.59 L350.9 651.13 L351.4 652.71 L351.9 654.32 L352.4 655.97 L352.9 657.64 L353.4 659.32 L353.9 661.02 L354.4 662.72 L354.9 664.41 L355.4 666.1 L355.9 667.76 L356.4 669.4 L356.9 671.01 L357.4 672.58 L357.9 674.11 L358.4 675.58 L358.9 677 L359.4 678.35 L359.9 679.63 L360.4 680.84 L360.9 681.97 L361.4 683.02 L361.9 683.98 L362.4 684.84 L362.9 685.61 L363.4 686.28 L363.9 686.85 L364.4 687.31 L364.9 687.67 L365.4 687.92 L365.9 688.06 L366.4 688.1 L366.9 688.04 L367.4 687.89 L367.9 687.66 L368.4 687.35 L368.9 686.95 L369.4 686.48 L369.9 685.92 L370.4 685.29 L370.9 684.58 L371.4 683.8 L371.9 682.96 L372.4 682.05 L372.9 681.08 L373.4 680.05 L373.9 678.98 L374.4 677.85 L374.9 676.68 L375.4 675.48 L375.9 674.24 L376.4 672.97 L376.9 671.68 L377.4 670.37 L377.9 669.06 L378.4 667.73 L378.9 666.41 L379.4 665.09 L379.9 663.78 L380.4 662.49 L380.9 661.21 L381.4 659.97 L381.9 658.76 L382.4 657.58 L382.9 656.45 L383.4 655.36 L383.9 654.32 L384.4 653.34 L384.9 652.42 L385.4 651.56 L385.9 650.77 L386.4 650.05 L386.9 649.4 L387.4 648.83 L387.9 648.34 L388.4 647.92 L388.9 647.59 L389.4 647.35 L389.9 647.18 L390.4 647.11 L390.9 647.12 L391.4 647.25 L391.9 647.49 L392.4 647.84 L392.9 648.31 L393.4 648.89 L393.9 649.57 L394.4 650.35 L394.9 651.23 L395.4 652.21 L395.9 653.27 L396.4 654.42 L396.9 655.64 L397.4 656.93 L397.9 658.28 L398.4 659.69 L398.9 661.15 L399.4 662.64 L399.9 664.17 L400.4 665.72 L400.9 667.29 L401.4 668.86 L401.9 670.44 L402.4 672 L402.9 673.54 L403.4 675.06 L403.9 676.54 L404.4 677.98" fill="none" stroke="#9513ee" stroke-width="3.3" stroke-linejoin="round" stroke-linecap="round"/>
<path d="M147.9 602.59 L148.9 591.87 L149.9 591.26 L150.9 598.84 L151.9 605.51 L152.9 598.05 L153.9 604.04 L154.9 599.12 L155.9 593.45 L156.9 573.63 L157.9 608.87 L158.9 594.15 L159.9 617.4 L160.9 618.28 L161.9 636.81 L162.9 632.72 L163.9 623.66 L164.9 628.44 L165.9 629.97 L166.9 638.94 L167.9 631.38 L168.9 627.11 L169.9 617.53 L170.9 602.41 L171.9 603.49 L172.9 604.54 L173.9 594.24 L174.9 590.81 L175.9 606.64 L176.9 605.67 L177.9 611.07 L178.9 604.64 L179.9 609.73 L180.9 620.41 L181.9 621.07 L182.9 623.19 L183.9 624.71 L184.9 618.95 L185.9 622.62 L186.9 614.57 L187.9 619.99 L188.9 622.79 L189.9 621.13 L190.9 605.77 L191.9 615.75 L192.9 614.31 L193.9 607.52 L194.9 616.82 L195.9 611.19 L196.9 616.8 L197.9 606.36 L198.9 626.89 L199.9 613.26 L200.9 613.9 L201.9 624.13 L202.9 629.87 L203.9 640.94 L204.9 638.55 L205.9 651.3 L206.9 659.54 L207.9 666.89 L208.9 677.32 L209.9 680.17 L210.9 676.02 L211.9 642.34 L212.9 650.19 L213.9 637.94 L214.9 627.66 L215.9 616.75 L216.9 607.31 L217.9 605.28 L218.9 595.5 L219.9 595.29 L220.9 598.3 L221.9 594.09 L222.9 604.57 L223.9 605.23 L224.9 598.93 L225.9 599.58 L226.9 606.71 L227.9 601.72 L228.9 598.34 L229.9 599.31 L230.9 601.13 L231.9 606.98 L232.9 599.02 L233.9 615.28 L234.9 620.94 L235.9 624.28 L236.9 612.72 L237.9 630.66 L238.9 628.52 L239.9 633.68 L240.9 630.89 L241.9 639.8 L242.9 643.25 L243.9 644.21 L244.9 650.51 L245.9 652.18 L246.9 664.28 L247.9 653.02 L248.9 680.65 L249.9 689.02 L250.9 694.28 L251.9 690.68 L252.9 704.77 L253.9 702.76 L254.9 698.61 L255.9 690.37 L256.9 666.48 L257.9 658.41 L258.9 656.26 L259.9 641.12 L260.9 635.84 L261.9 641.32 L262.9 633.32 L263.9 624.08 L264.9 623.03 L265.9 625.46 L266.9 608.57 L267.9 613.77 L268.9 610.9 L269.9 609.88 L270.9 610.78 L271.9 613.15 L272.9 595.63 L273.9 613.34 L274.9 600.55 L275.9 615.94 L276.9 616.17 L277.9 615.6 L278.9 621.98 L279.9 628.27 L280.9 628.81 L281.9 631.23 L282.9 638.42 L283.9 641.33 L284.9 647.23 L285.9 635.93 L286.9 649.61 L287.9 655.91 L288.9 663.23 L289.9 662.59 L290.9 676.18 L291.9 674.1 L292.9 689.74 L293.9 682.91 L294.9 687.51 L295.9 673.26 L296.9 674.18 L297.9 675.94 L298.9 671.17 L299.9 651.96 L300.9 645.24 L301.9 639.31 L302.9 636.79 L303.9 640.01 L304.9 619.37 L305.9 626.54 L306.9 614.31 L307.9 621.18 L308.9 629.08 L309.9 629.14 L310.9 635.9 L311.9 633.14 L312.9 622.03 L313.9 635.61 L314.9 637.81 L315.9 619.6 L316.9 634.31 L317.9 623.86 L318.9 631.22 L319.9 625.53 L320.9 641.12 L321.9 638.85 L322.9 615.67 L323.9 645.37 L324.9 641.11 L325.9 634.78 L326.9 635.43 L327.9 638.8 L328.9 633.77 L329.9 641.24 L330.9 647.1 L331.9 643 L332.9 642.65 L333.9 651.7 L334.9 659.13 L335.9 650.73 L336.9 654.19 L337.9 655.4 L338.9 659.11 L339.9 666.13 L340.9 669 L341.9 660.29 L342.9 638.61 L343.9 639.3 L344.9 644.33 L345.9 647.18 L346.9 640.63 L347.9 633.72 L348.9 622.71 L349.9 626.01 L350.9 617.94 L351.9 622.06 L352.9 613.25 L353.9 605.49 L354.9 604.41 L355.9 600.45 L356.9 588.74 L357.9 598 L358.9 593.96 L359.9 578.69 L360.9 577.36 L361.9 594.33 L362.9 589.8 L363.9 592.37 L364.9 587.08 L365.9 593.57 L366.9 587.59 L367.9 596.37 L368.9 586.32 L369.9 597.83 L370.9 593.6 L371.9 605.01 L372.9 609.19 L373.9 613.71 L374.9 586.88 L375.9 611.53 L376.9 625.01 L377.9 629.55 L378.9 624.25 L379.9 607.76 L380.9 616.19 L381.9 618.29 L382.9 621.3 L383.9 617 L384.9 622.99 L385.9 600.19 L386.9 604.83 L387.9 611.87 L388.9 608.71 L389.9 615.54 L390.9 609.81 L391.9 617.29 L392.9 611.56 L393.9 596.12 L394.9 605.03 L395.9 603.28 L396.9 607.2 L397.9 612.32 L398.9 612.24 L399.9 614.11 L400.9 604.97 L401.9 608.21 L402.9 611.54 L403.9 617.95 L403.9 661.33 L402.9 667.03 L401.9 676.18 L400.9 679.69 L399.9 661.94 L398.9 660.67 L397.9 659.75 L396.9 658.96 L395.9 655 L394.9 659.24 L393.9 658.38 L392.9 659.28 L391.9 663.37 L390.9 680.5 L389.9 681.62 L388.9 674.96 L387.9 668.97 L386.9 685.92 L385.9 682.06 L384.9 666.34 L383.9 668.99 L382.9 684.39 L381.9 662.78 L380.9 664.96 L379.9 656.58 L378.9 657.89 L377.9 669.58 L376.9 663.71 L375.9 660.15 L374.9 672.37 L373.9 659.21 L372.9 659.52 L371.9 662.65 L370.9 654.1 L369.9 657.91 L368.9 649.98 L367.9 637.31 L366.9 663.33 L365.9 632.85 L364.9 627.47 L363.9 619.86 L362.9 629.16 L361.9 634.96 L360.9 636.86 L359.9 642.97 L358.9 650.17 L357.9 676.07 L356.9 665.16 L355.9 688.54 L354.9 671.44 L353.9 677.35 L352.9 682.36 L351.9 688.28 L350.9 699.72 L349.9 702 L348.9 701.97 L347.9 701.76 L346.9 703.42 L345.9 703.99 L344.9 706.66 L343.9 712.94 L342.9 709.48 L341.9 717.45 L340.9 722.43 L339.9 729.8 L338.9 714.15 L337.9 711.72 L336.9 713.69 L335.9 713.84 L334.9 711.1 L333.9 704.25 L332.9 700.61 L331.9 697.14 L330.9 694.28 L329.9 697.32 L328.9 709.49 L327.9 703.24 L326.9 701.79 L325.9 713.23 L324.9 709.82 L323.9 712.72 L322.9 705.86 L321.9 712.39 L320.9 704.69 L319.9 701.16 L318.9 701.29 L317.9 694.36 L316.9 695.17 L315.9 685.4 L314.9 686.56 L313.9 675.44 L312.9 678.95 L311.9 676.38 L310.9 694.01 L309.9 693.94 L308.9 689.76 L307.9 709.88 L306.9 703.37 L305.9 712.11 L304.9 713.35 L303.9 725.06 L302.9 724.48 L301.9 726.28 L300.9 737.58 L299.9 727.53 L298.9 734.22 L297.9 727.56 L296.9 736.72 L295.9 729.52 L294.9 731.63 L293.9 735.17 L292.9 734.83 L291.9 736.67 L290.9 736.76 L289.9 730.91 L288.9 730.18 L287.9 746.92 L286.9 741.04 L285.9 746.61 L284.9 720.73 L283.9 715.35 L282.9 709.41 L281.9 697.87 L280.9 700.28 L279.9 685.1 L278.9 682.69 L277.9 676.72 L276.9 677.6 L275.9 670.34 L274.9 662.68 L273.9 662.85 L272.9 667.13 L271.9 655.51 L270.9 667.33 L269.9 668 L268.9 670.98 L267.9 672.63 L266.9 686.54 L265.9 691 L264.9 713.89 L263.9 713.47 L262.9 731.98 L261.9 731.89 L260.9 737.96 L259.9 744.8 L258.9 747.87 L257.9 745.91 L256.9 748.53 L255.9 764.53 L254.9 759.22 L253.9 756.31 L252.9 753.11 L251.9 747.38 L250.9 753.49 L249.9 753.19 L248.9 756.39 L247.9 761.4 L246.9 747.36 L245.9 733.46 L244.9 746.23 L243.9 727.72 L242.9 722.17 L241.9 711.51 L240.9 716.84 L239.9 701.61 L238.9 695.33 L237.9 696.66 L236.9 688.99 L235.9 671.93 L234.9 669.13 L233.9 668.18 L232.9 668.82 L231.9 657.35 L230.9 659.24 L229.9 668.5 L228.9 649.09 L227.9 653.64 L226.9 639.73 L225.9 641.16 L224.9 638.47 L223.9 644.94 L222.9 654.18 L221.9 666.31 L220.9 689.45 L219.9 685.85 L218.9 701.38 L217.9 705.8 L216.9 728.05 L215.9 739.98 L214.9 738.7 L213.9 739.11 L212.9 747 L211.9 734.16 L210.9 735.18 L209.9 735.21 L208.9 735.48 L207.9 749.15 L206.9 730.08 L205.9 741.49 L204.9 738.14 L203.9 719.15 L202.9 715.41 L201.9 714.26 L200.9 698.24 L199.9 702.02 L198.9 683.49 L197.9 695.15 L196.9 671.9 L195.9 672.08 L194.9 671.11 L193.9 663.59 L192.9 665.02 L191.9 675.7 L190.9 667.54 L189.9 673.15 L188.9 681.99 L187.9 671.92 L186.9 681.39 L185.9 676.87 L184.9 690.96 L183.9 678.81 L182.9 670.86 L181.9 665.48 L180.9 656.57 L179.9 646.12 L178.9 654.84 L177.9 654.43 L176.9 667.6 L175.9 672.87 L174.9 693.07 L173.9 712.58 L172.9 704.31 L171.9 703.9 L170.9 699.1 L169.9 708.14 L168.9 700.23 L167.9 724.77 L166.9 699.78 L165.9 697.44 L164.9 695.49 L163.9 701.24 L162.9 697.51 L161.9 702.98 L160.9 696.61 L159.9 705.25 L158.9 688.8 L157.9 679.17 L156.9 680.31 L155.9 676.83 L154.9 707.75 L153.9 679.15 L152.9 681.64 L151.9 663.97 L150.9 653.81 L149.9 651.74 L148.9 643.49 L147.9 652.34 Z" fill="#00afbd" fill-opacity="0.3" stroke="none"/>
<path d="M147.9 621.36 L148.9 620.69 L149.9 622.3 L150.9 623.23 L151.9 623.25 L152.9 625.43 L153.9 628.79 L154.9 633.49 L155.9 639.18 L156.9 647.33 L157.9 655.42 L158.9 659.21 L159.9 658.81 L160.9 658.65 L161.9 662.81 L162.9 668.98 L163.9 673.16 L164.9 677.28 L165.9 676.53 L166.9 679.39 L167.9 676.97 L168.9 674.41 L169.9 670.8 L170.9 667.39 L171.9 658.54 L172.9 651.65 L173.9 643.21 L174.9 637.76 L175.9 631.63 L176.9 630.67 L177.9 631.9 L178.9 632.42 L179.9 634.6 L180.9 633.73 L181.9 635.12 L182.9 634.83 L183.9 635.95 L184.9 642.24 L185.9 648.63 L186.9 653.86 L187.9 654.78 L188.9 650.06 L189.9 645.39 L190.9 639.11 L191.9 636.3 L192.9 632.48 L193.9 635.18 L194.9 637.41 L195.9 641.52 L196.9 642.19 L197.9 641.78 L198.9 641.06 L199.9 649.7 L200.9 655.42 L201.9 662.19 L202.9 668.56 L203.9 676.8 L204.9 685.71 L205.9 693.53 L206.9 700.4 L207.9 705.61 L208.9 710.03 L209.9 714.11 L210.9 717.75 L211.9 721.56 L212.9 711.28 L213.9 699.75 L214.9 687.77 L215.9 675.57 L216.9 664.4 L217.9 653.85 L218.9 643 L219.9 633.24 L220.9 627.47 L221.9 621.05 L222.9 616.36 L223.9 616.78 L224.9 618.03 L225.9 618.01 L226.9 620.63 L227.9 622.15 L228.9 624.42 L229.9 628.67 L230.9 630.72 L231.9 633.51 L232.9 634.93 L233.9 638.96 L234.9 641.82 L235.9 644.63 L236.9 647.7 L237.9 651.26 L238.9 654.59 L239.9 658.2 L240.9 664.48 L241.9 671.86 L242.9 678.37 L243.9 685.14 L244.9 690.62 L245.9 698.56 L246.9 704.32 L247.9 711.77 L248.9 716.86 L249.9 725.34 L250.9 731.76 L251.9 737.47 L252.9 739.29 L253.9 736.1 L254.9 734.06 L255.9 732.6 L256.9 726.8 L257.9 718.57 L258.9 710.66 L259.9 701.47 L260.9 689.26 L261.9 676.35 L262.9 664.87 L263.9 658.02 L264.9 654.51 L265.9 651.74 L266.9 648.22 L267.9 643.56 L268.9 638.27 L269.9 634.76 L270.9 630.49 L271.9 626.23 L272.9 628.98 L273.9 631.7 L274.9 634.66 L275.9 636.47 L276.9 640.83 L277.9 643.28 L278.9 647.99 L279.9 654.68 L280.9 659.18 L281.9 664.84 L282.9 669.93 L283.9 675.23 L284.9 680.53 L285.9 686.35 L286.9 694.91 L287.9 702.27 L288.9 709.42 L289.9 716.81 L290.9 716.2 L291.9 713.89 L292.9 710.2 L293.9 709.21 L294.9 712.15 L295.9 713.42 L296.9 717.19 L297.9 717.74 L298.9 713.86 L299.9 707.15 L300.9 701.88 L301.9 697.82 L302.9 691.01 L303.9 685.11 L304.9 680.82 L305.9 674.64 L306.9 670.52 L307.9 665.05 L308.9 660.8 L309.9 657.25 L310.9 651.88 L311.9 649.82 L312.9 650.93 L313.9 654.92 L314.9 656.29 L315.9 659.65 L316.9 660.6 L317.9 662.95 L318.9 666.49 L319.9 667.51 L320.9 673.18 L321.9 677.34 L322.9 682.83 L323.9 687.62 L324.9 682.9 L325.9 673.22 L326.9 662.23 L327.9 665.26 L328.9 669.68 L329.9 672.92 L330.9 675.77 L331.9 675.79 L332.9 677.55 L333.9 677.85 L334.9 679.55 L335.9 680.76 L336.9 684.93 L337.9 688.44 L338.9 691.49 L339.9 695.35 L340.9 697.14 L341.9 694.21 L342.9 690 L343.9 686.34 L344.9 683.92 L345.9 677.44 L346.9 674.36 L347.9 669.41 L348.9 664.51 L349.9 659.68 L350.9 655.66 L351.9 651.33 L352.9 646.38 L353.9 641.17 L354.9 634.32 L355.9 629.49 L356.9 623.7 L357.9 621.62 L358.9 618.51 L359.9 614.04 L360.9 611.94 L361.9 608.94 L362.9 605.29 L363.9 606.98 L364.9 608.69 L365.9 609.48 L366.9 609.76 L367.9 615.08 L368.9 618.87 L369.9 624.11 L370.9 628.6 L371.9 633.43 L372.9 636.23 L373.9 640.01 L374.9 641.09 L375.9 641.83 L376.9 644.33 L377.9 645.15 L378.9 644.04 L379.9 641.53 L380.9 639.61 L381.9 638.76 L382.9 641.29 L383.9 644.84 L384.9 647.57 L385.9 650.77 L386.9 651.35 L387.9 648.1 L388.9 642.7 L389.9 639.88 L390.9 633.19 L391.9 627.92 L392.9 631.37 L393.9 635.82 L394.9 638.77 L395.9 637.96 L396.9 635.98 L397.9 632.45 L398.9 630.72 L399.9 634.95 L400.9 636.42 L401.9 639.66 L402.9 643.01 L403.9 645.46" fill="none" stroke="#00afbd" stroke-width="4.6" stroke-linejoin="round" stroke-linecap="round"/>
<path d="M147.9 617.39 L148.9 616.12 L149.9 616.63 L150.9 618.53 L151.9 619.88 L152.9 618.2 L153.9 619.26 L154.9 624.21 L155.9 629.25 L156.9 635.8 L157.9 645.04 L158.9 653.8 L159.9 654.27 L160.9 654.31 L161.9 656.72 L162.9 660.03 L163.9 663.25 L164.9 670.97 L165.9 672.62 L166.9 673.81 L167.9 668.09 L168.9 667.04 L169.9 662.72 L170.9 655.19 L171.9 647.09 L172.9 639.77 L173.9 631.66 L174.9 628.25 L175.9 625.77 L176.9 627.67 L177.9 626.43 L178.9 628.69 L179.9 630.22 L180.9 629.63 L181.9 632.84 L182.9 632.23 L183.9 631.83 L184.9 632.62 L185.9 637.51 L186.9 645.56 L187.9 646.22 L188.9 640.23 L189.9 634.95 L190.9 631.95 L191.9 629.56 L192.9 630.13 L193.9 631.1 L194.9 631.05 L195.9 633.4 L196.9 638.75 L197.9 639.59 L198.9 637.43 L199.9 638.52 L200.9 643.4 L201.9 651.31 L202.9 659.11 L203.9 666.56 L204.9 673.85 L205.9 680.45 L206.9 690.42 L207.9 698.38 L208.9 702.67 L209.9 707.66 L210.9 711.13 L211.9 706.06 L212.9 693.98 L213.9 684.74 L214.9 673.08 L215.9 662.61 L216.9 649.23 L217.9 636.35 L218.9 630.78 L219.9 623.35 L220.9 618.6 L221.9 614.24 L222.9 613.76 L223.9 615.09 L224.9 614.48 L225.9 612.43 L226.9 616.66 L227.9 615.32 L228.9 620.15 L229.9 621.13 L230.9 625.23 L231.9 625.05 L232.9 631.31 L233.9 631.2 L234.9 636.35 L235.9 636.62 L236.9 640.55 L237.9 643.89 L238.9 648.18 L239.9 650.45 L240.9 654.44 L241.9 658 L242.9 666.32 L243.9 672.98 L244.9 680.37 L245.9 686.66 L246.9 693.66 L247.9 697.81 L248.9 705.91 L249.9 712.93 L250.9 720.53 L251.9 728.54 L252.9 734.26 L253.9 730.06 L254.9 728.63 L255.9 725.41 L256.9 713.87 L257.9 707.14 L258.9 697.81 L259.9 686.12 L260.9 674.09 L261.9 660.68 L262.9 653.17 L263.9 647.99 L264.9 646.9 L265.9 643.89 L266.9 640.03 L267.9 636.48 L268.9 631.6 L269.9 625.13 L270.9 624.43 L271.9 623.95 L272.9 623.4 L273.9 625.11 L274.9 628.24 L275.9 631.1 L276.9 633.64 L277.9 637.25 L278.9 640.73 L279.9 645.18 L280.9 651.6 L281.9 657.55 L282.9 660.36 L283.9 667.16 L284.9 672.79 L285.9 675.66 L286.9 685.02 L287.9 690.02 L288.9 701 L289.9 708.83 L290.9 709.5 L291.9 705.87 L292.9 704.6 L293.9 704.55 L294.9 705.19 L295.9 708.5 L296.9 711.5 L297.9 709.29 L298.9 705.1 L299.9 699.58 L300.9 693.14 L301.9 686.83 L302.9 680.6 L303.9 676.11 L304.9 672.32 L305.9 666.22 L306.9 661.44 L307.9 656.06 L308.9 653.88 L309.9 648.42 L310.9 645.51 L311.9 646.24 L312.9 645.94 L313.9 649.74 L314.9 650.79 L315.9 652.7 L316.9 656.37 L317.9 658.6 L318.9 657.58 L319.9 662.56 L320.9 663.08 L321.9 669.06 L322.9 675.7 L323.9 680.25 L324.9 670.11 L325.9 659.76 L326.9 659.01 L327.9 660.59 L328.9 664.45 L329.9 664.84 L330.9 669.52 L331.9 672.61 L332.9 673.03 L333.9 673.21 L334.9 674.64 L335.9 676.21 L336.9 677.22 L337.9 679.9 L338.9 684.81 L339.9 688.33 L340.9 690.77 L341.9 685.54 L342.9 683 L343.9 679.88 L344.9 672.05 L345.9 669.55 L346.9 666.45 L347.9 661.25 L348.9 655.81 L349.9 651.41 L350.9 647.82 L351.9 643.19 L352.9 635.16 L353.9 630.41 L354.9 626.88 L355.9 619.14 L356.9 617.06 L357.9 615.28 L358.9 610.96 L359.9 608.2 L360.9 605.78 L361.9 601 L362.9 601.46 L363.9 603.1 L364.9 604.31 L365.9 604.1 L366.9 606.01 L367.9 605.24 L368.9 609.86 L369.9 614.57 L370.9 619.82 L371.9 624.94 L372.9 628.66 L373.9 631.91 L374.9 635.52 L375.9 638.04 L376.9 638.14 L377.9 639.3 L378.9 638.42 L379.9 635.55 L380.9 636.45 L381.9 634.11 L382.9 634.1 L383.9 635.51 L384.9 640.05 L385.9 643.35 L386.9 642.03 L387.9 640.53 L388.9 634.73 L389.9 630.24 L390.9 625.62 L391.9 624.82 L392.9 625.19 L393.9 628.8 L394.9 630.61 L395.9 631.12 L396.9 629.35 L397.9 627.68 L398.9 627.81 L399.9 626.99 L400.9 630.87 L401.9 634.67 L402.9 638.63 L403.9 640.99 L403.9 652.45 L402.9 651.99 L401.9 647.31 L400.9 645.39 L399.9 640.46 L398.9 638.5 L397.9 639.37 L396.9 640.63 L395.9 642.76 L394.9 644.95 L393.9 642.77 L392.9 640.87 L391.9 637.33 L390.9 644.32 L389.9 646.84 L388.9 650.18 L387.9 655.75 L386.9 654.42 L385.9 657.16 L384.9 654.85 L383.9 652.49 L382.9 648.55 L381.9 644.47 L380.9 644.08 L379.9 646.34 L378.9 648.53 L377.9 648.82 L376.9 648.55 L375.9 648.6 L374.9 644.18 L373.9 644.07 L372.9 642.3 L371.9 640.27 L370.9 637.6 L369.9 633.83 L368.9 629.41 L367.9 623.94 L366.9 618.7 L365.9 614.67 L364.9 613.84 L363.9 613.13 L362.9 611.47 L361.9 616.39 L360.9 618.65 L359.9 624.55 L358.9 625.85 L357.9 627.95 L356.9 633.4 L355.9 638.29 L354.9 644.17 L353.9 652.48 L352.9 656.57 L351.9 661.34 L350.9 663.02 L349.9 669.51 L348.9 672.79 L347.9 677.19 L346.9 682.91 L345.9 689.52 L344.9 690.82 L343.9 694.85 L342.9 699.01 L341.9 700.68 L340.9 700.11 L339.9 703.16 L338.9 700.71 L337.9 694.77 L336.9 690.73 L335.9 690.39 L334.9 683.69 L333.9 685.4 L332.9 681.35 L331.9 680.76 L330.9 679.64 L329.9 677.77 L328.9 674.51 L327.9 671.19 L326.9 675.82 L325.9 685.96 L324.9 691.8 L323.9 691.62 L322.9 694.06 L321.9 686.21 L320.9 680.62 L319.9 674.6 L318.9 670.32 L317.9 667.87 L316.9 666.32 L315.9 664.37 L314.9 663.47 L313.9 662.5 L312.9 656.8 L311.9 655.14 L310.9 660.82 L309.9 664.4 L308.9 667.77 L307.9 671.93 L306.9 678.09 L305.9 681.45 L304.9 688.53 L303.9 695 L302.9 701.39 L301.9 705.91 L300.9 711.74 L299.9 717.38 L298.9 722.39 L297.9 722.04 L296.9 723.64 L295.9 722.43 L294.9 717.76 L293.9 716.1 L292.9 716.87 L291.9 720.94 L290.9 723.01 L289.9 721.07 L288.9 720.84 L287.9 712.43 L286.9 705.49 L285.9 698.64 L284.9 690.68 L283.9 682.51 L282.9 677.14 L281.9 672.77 L280.9 668.96 L279.9 661.92 L278.9 657.34 L277.9 653.48 L276.9 647.71 L275.9 644.66 L274.9 640.67 L273.9 638.64 L272.9 635.33 L271.9 634.96 L270.9 639.41 L269.9 644.32 L268.9 647.01 L267.9 650.78 L266.9 654.38 L265.9 657.42 L264.9 661.02 L263.9 668.49 L262.9 679.55 L261.9 693.73 L260.9 703.98 L259.9 710.84 L258.9 720.22 L257.9 730.3 L256.9 734.1 L255.9 737.79 L254.9 740.6 L253.9 743.2 L252.9 743.33 L251.9 741.82 L250.9 740.63 L249.9 735.46 L248.9 729.32 L247.9 720.57 L246.9 714.8 L245.9 706.83 L244.9 702.34 L243.9 695.53 L242.9 688.15 L241.9 681.07 L240.9 673.99 L239.9 666.96 L238.9 661.26 L237.9 657.2 L236.9 654.35 L235.9 650.3 L234.9 647.78 L233.9 643.99 L232.9 641.34 L231.9 639.22 L230.9 636.52 L229.9 637.36 L228.9 633.26 L227.9 628.36 L226.9 625.89 L225.9 623.92 L224.9 625.21 L223.9 621.86 L222.9 626.62 L221.9 631.88 L220.9 637.19 L219.9 646.43 L218.9 656.74 L217.9 668.72 L216.9 680.85 L215.9 692.94 L214.9 702.37 L213.9 714.89 L212.9 725.48 L211.9 727.77 L210.9 730.03 L209.9 722.08 L208.9 718.34 L207.9 714.58 L206.9 712.41 L205.9 706.1 L204.9 697.91 L203.9 689.31 L202.9 683.22 L201.9 673.15 L200.9 667.91 L199.9 660.21 L198.9 651.72 L197.9 646.15 L196.9 646.17 L195.9 644.87 L194.9 643.68 L193.9 639.2 L192.9 638.23 L191.9 642.2 L190.9 647.83 L189.9 652.22 L188.9 658.52 L187.9 662.83 L186.9 659.86 L185.9 656.12 L184.9 651.53 L183.9 644.25 L182.9 638.2 L181.9 637.85 L180.9 638.24 L179.9 639.04 L178.9 638.03 L177.9 637.82 L176.9 637.47 L175.9 643.25 L174.9 648.5 L173.9 655.83 L172.9 663.34 L171.9 670.67 L170.9 672.01 L169.9 674.83 L168.9 679.15 L167.9 681.66 L166.9 681.81 L165.9 681.71 L164.9 680.84 L163.9 682.14 L162.9 677.83 L161.9 673.46 L160.9 668.03 L159.9 662.21 L158.9 664.87 L157.9 662 L156.9 661.71 L155.9 650.73 L154.9 643.12 L153.9 636.98 L152.9 633.85 L151.9 630.78 L150.9 627.22 L149.9 626.3 L148.9 626.28 L147.9 624.38 Z" fill="#00afbd" stroke="none"/>
<line x1="275" y1="530" x2="275" y2="767" stroke="#6a6a6a" stroke-width="1.7" stroke-dasharray="6.2 2.7" stroke-dashoffset="3.5"/>
<line x1="275" y1="624" x2="275" y2="704" stroke="#000" stroke-width="1.8"/>
</g>
<line x1="71.3" y1="491.7" x2="104.4" y2="491.7" stroke="#00afbd" stroke-width="3.7"/>
<line x1="488" y1="747" x2="488" y2="775" stroke="#9513ee" stroke-width="3.6"/>
<line x1="142.5" y1="937.4" x2="142.5" y2="1192.1" stroke="#000" stroke-width="2.2"/>
<line x1="409.3" y1="937.8" x2="409.3" y2="1192.1" stroke="#000" stroke-width="2.2"/>
<line x1="141.4" y1="1191" x2="410.4" y2="1191" stroke="#000" stroke-width="2.2"/>
<line x1="128.5" y1="937.4" x2="142.5" y2="937.4" stroke="#1a1a1a" stroke-width="1.9"/>
<line x1="128.5" y1="1023.4" x2="142.5" y2="1023.4" stroke="#1a1a1a" stroke-width="1.9"/>
<line x1="128.5" y1="1109.2" x2="142.5" y2="1109.2" stroke="#1a1a1a" stroke-width="1.9"/>
<line x1="409.3" y1="937.8" x2="421.3" y2="937.8" stroke="#1a1a1a" stroke-width="1.9"/>
<line x1="409.3" y1="1009.4" x2="421.3" y2="1009.4" stroke="#1a1a1a" stroke-width="1.9"/>
<line x1="409.3" y1="1081" x2="421.3" y2="1081" stroke="#1a1a1a" stroke-width="1.9"/>
<line x1="409.3" y1="1152.6" x2="421.3" y2="1152.6" stroke="#1a1a1a" stroke-width="1.9"/>
<line x1="156.1" y1="1191" x2="156.1" y2="1204" stroke="#000" stroke-width="2"/>
<line x1="275" y1="1191" x2="275" y2="1204" stroke="#000" stroke-width="2"/>
<line x1="393.3" y1="1191" x2="393.3" y2="1204" stroke="#000" stroke-width="2"/>
<clipPath id="cp3"><rect x="143.5" y="900" width="264.8" height="289.9"/></clipPath><g clip-path="url(#cp3)">
<path d="M148.6 1091.46 L149.1 1090.3 L149.6 1089.14 L150.1 1087.98 L150.6 1086.83 L151.1 1085.69 L151.6 1084.57 L152.1 1083.47 L152.6 1082.39 L153.1 1081.34 L153.6 1080.32 L154.1 1079.33 L154.6 1078.38 L155.1 1077.48 L155.6 1076.62 L156.1 1075.81 L156.6 1075.04 L157.1 1074.34 L157.6 1073.68 L158.1 1073.09 L158.6 1072.55 L159.1 1072.08 L159.6 1071.67 L160.1 1071.32 L160.6 1071.04 L161.1 1070.83 L161.6 1070.69 L162.1 1070.61 L162.6 1070.61 L163.1 1070.69 L163.6 1070.88 L164.1 1071.15 L164.6 1071.52 L165.1 1071.99 L165.6 1072.54 L166.1 1073.18 L166.6 1073.9 L167.1 1074.7 L167.6 1075.58 L168.1 1076.53 L168.6 1077.54 L169.1 1078.62 L169.6 1079.75 L170.1 1080.94 L170.6 1082.17 L171.1 1083.44 L171.6 1084.74 L172.1 1086.06 L172.6 1087.41 L173.1 1088.77 L173.6 1090.14 L174.1 1091.5 L174.6 1092.86 L175.1 1094.2 L175.6 1095.53 L176.1 1096.82 L176.6 1098.08 L177.1 1099.3 L177.6 1100.48 L178.1 1101.6 L178.6 1102.67 L179.1 1103.67 L179.6 1104.6 L180.1 1105.47 L180.6 1106.25 L181.1 1106.96 L181.6 1107.58 L182.1 1108.11 L182.6 1108.56 L183.1 1108.91 L183.6 1109.17 L184.1 1109.33 L184.6 1109.4 L185.1 1109.36 L185.6 1109.2 L186.1 1108.92 L186.6 1108.53 L187.1 1108.01 L187.6 1107.38 L188.1 1106.64 L188.6 1105.79 L189.1 1104.84 L189.6 1103.79 L190.1 1102.64 L190.6 1101.41 L191.1 1100.1 L191.6 1098.71 L192.1 1097.25 L192.6 1095.73 L193.1 1094.16 L193.6 1092.54 L194.1 1090.89 L194.6 1089.21 L195.1 1087.5 L195.6 1085.79 L196.1 1084.07 L196.6 1082.35 L197.1 1080.65 L197.6 1078.98 L198.1 1077.33 L198.6 1075.72 L199.1 1074.16 L199.6 1072.65 L200.1 1071.21 L200.6 1069.83 L201.1 1068.54 L201.6 1067.32 L202.1 1066.19 L202.6 1065.16 L203.1 1064.23 L203.6 1063.4 L204.1 1062.68 L204.6 1062.08 L205.1 1061.58 L205.6 1061.21 L206.1 1060.96 L206.6 1060.82 L207.1 1060.81 L207.6 1060.98 L208.1 1061.33 L208.6 1061.85 L209.1 1062.56 L209.6 1063.43 L210.1 1064.47 L210.6 1065.67 L211.1 1067.02 L211.6 1068.51 L212.1 1070.13 L212.6 1071.88 L213.1 1073.73 L213.6 1075.68 L214.1 1077.71 L214.6 1079.82 L215.1 1081.98 L215.6 1084.18 L216.1 1086.41 L216.6 1088.65 L217.1 1090.89 L217.6 1093.11 L218.1 1095.29 L218.6 1097.43 L219.1 1099.51 L219.6 1101.51 L220.1 1103.42 L220.6 1105.23 L221.1 1106.93 L221.6 1108.5 L222.1 1109.94 L222.6 1111.23 L223.1 1112.36 L223.6 1113.34 L224.1 1114.15 L224.6 1114.78 L225.1 1115.23 L225.6 1115.51 L226.1 1115.6 L226.6 1115.55 L227.1 1115.39 L227.6 1115.13 L228.1 1114.77 L228.6 1114.3 L229.1 1113.74 L229.6 1113.08 L230.1 1112.32 L230.6 1111.47 L231.1 1110.54 L231.6 1109.51 L232.1 1108.4 L232.6 1107.22 L233.1 1105.96 L233.6 1104.64 L234.1 1103.25 L234.6 1101.8 L235.1 1100.29 L235.6 1098.74 L236.1 1097.15 L236.6 1095.52 L237.1 1093.85 L237.6 1092.17 L238.1 1090.47 L238.6 1088.75 L239.1 1087.03 L239.6 1085.31 L240.1 1083.59 L240.6 1081.89 L241.1 1080.21 L241.6 1078.56 L242.1 1076.93 L242.6 1075.35 L243.1 1073.8 L243.6 1072.31 L244.1 1070.87 L244.6 1069.49 L245.1 1068.18 L245.6 1066.94 L246.1 1065.77 L246.6 1064.68 L247.1 1063.67 L247.6 1062.75 L248.1 1061.92 L248.6 1061.18 L249.1 1060.54 L249.6 1059.99 L250.1 1059.55 L250.6 1059.21 L251.1 1058.97 L251.6 1058.83 L252.1 1058.8 L252.6 1058.91 L253.1 1059.18 L253.6 1059.6 L254.1 1060.18 L254.6 1060.91 L255.1 1061.79 L255.6 1062.81 L256.1 1063.97 L256.6 1065.26 L257.1 1066.68 L257.6 1068.22 L258.1 1069.87 L258.6 1071.63 L259.1 1073.48 L259.6 1075.42 L260.1 1077.45 L260.6 1079.54 L261.1 1081.69 L261.6 1083.89 L261.7 1092.9 L266.6 1112 L270.5 1120.5 L274.8 1125.3 L278 1121 L281.3 1113 L284 1100 L286.2 1089.6 L286.6 1088.51 L287.1 1086.19 L287.6 1083.9 L288.1 1081.65 L288.6 1079.46 L289.1 1077.34 L289.6 1075.29 L290.1 1073.34 L290.6 1071.48 L291.1 1069.73 L291.6 1068.09 L292.1 1066.59 L292.6 1065.21 L293.1 1063.98 L293.6 1062.89 L294.1 1061.96 L294.6 1061.18 L295.1 1060.56 L295.6 1060.11 L296.1 1059.82 L296.6 1059.7 L297.1 1059.74 L297.6 1059.91 L298.1 1060.2 L298.6 1060.62 L299.1 1061.17 L299.6 1061.83 L300.1 1062.62 L300.6 1063.52 L301.1 1064.53 L301.6 1065.65 L302.1 1066.87 L302.6 1068.19 L303.1 1069.6 L303.6 1071.09 L304.1 1072.66 L304.6 1074.3 L305.1 1076 L305.6 1077.76 L306.1 1079.57 L306.6 1081.41 L307.1 1083.29 L307.6 1085.19 L308.1 1087.11 L308.6 1089.03 L309.1 1090.95 L309.6 1092.85 L310.1 1094.74 L310.6 1096.6 L311.1 1098.42 L311.6 1100.2 L312.1 1101.93 L312.6 1103.59 L313.1 1105.19 L313.6 1106.72 L314.1 1108.16 L314.6 1109.51 L315.1 1110.77 L315.6 1111.93 L316.1 1112.99 L316.6 1113.93 L317.1 1114.77 L317.6 1115.48 L318.1 1116.07 L318.6 1116.54 L319.1 1116.89 L319.6 1117.11 L320.1 1117.2 L320.6 1117.15 L321.1 1116.95 L321.6 1116.59 L322.1 1116.08 L322.6 1115.41 L323.1 1114.61 L323.6 1113.65 L324.1 1112.57 L324.6 1111.35 L325.1 1110 L325.6 1108.54 L326.1 1106.97 L326.6 1105.29 L327.1 1103.53 L327.6 1101.68 L328.1 1099.76 L328.6 1097.78 L329.1 1095.75 L329.6 1093.68 L330.1 1091.58 L330.6 1089.46 L331.1 1087.34 L331.6 1085.22 L332.1 1083.12 L332.6 1081.05 L333.1 1079.02 L333.6 1077.04 L334.1 1075.12 L334.6 1073.27 L335.1 1071.51 L335.6 1069.83 L336.1 1068.26 L336.6 1066.8 L337.1 1065.45 L337.6 1064.23 L338.1 1063.15 L338.6 1062.19 L339.1 1061.39 L339.6 1060.72 L340.1 1060.21 L340.6 1059.85 L341.1 1059.65 L341.6 1059.6 L342.1 1059.69 L342.6 1059.9 L343.1 1060.24 L343.6 1060.71 L344.1 1061.29 L344.6 1061.99 L345.1 1062.8 L345.6 1063.73 L346.1 1064.76 L346.6 1065.9 L347.1 1067.13 L347.6 1068.45 L348.1 1069.85 L348.6 1071.33 L349.1 1072.88 L349.6 1074.49 L350.1 1076.16 L350.6 1077.88 L351.1 1079.63 L351.6 1081.41 L352.1 1083.22 L352.6 1085.04 L353.1 1086.86 L353.6 1088.68 L354.1 1090.49 L354.6 1092.27 L355.1 1094.02 L355.6 1095.74 L356.1 1097.41 L356.6 1099.02 L357.1 1100.57 L357.6 1102.05 L358.1 1103.45 L358.6 1104.77 L359.1 1106 L359.6 1107.14 L360.1 1108.17 L360.6 1109.1 L361.1 1109.91 L361.6 1110.61 L362.1 1111.19 L362.6 1111.66 L363.1 1112 L363.6 1112.21 L364.1 1112.3 L364.6 1112.27 L365.1 1112.16 L365.6 1111.96 L366.1 1111.67 L366.6 1111.29 L367.1 1110.84 L367.6 1110.3 L368.1 1109.68 L368.6 1108.99 L369.1 1108.22 L369.6 1107.38 L370.1 1106.47 L370.6 1105.5 L371.1 1104.47 L371.6 1103.38 L372.1 1102.24 L372.6 1101.06 L373.1 1099.84 L373.6 1098.58 L374.1 1097.29 L374.6 1095.97 L375.1 1094.64 L375.6 1093.29 L376.1 1091.93 L376.6 1090.57 L377.1 1089.21 L377.6 1087.86 L378.1 1086.53 L378.6 1085.21 L379.1 1083.92 L379.6 1082.66 L380.1 1081.44 L380.6 1080.26 L381.1 1079.12 L381.6 1078.03 L382.1 1077 L382.6 1076.03 L383.1 1075.12 L383.6 1074.28 L384.1 1073.51 L384.6 1072.82 L385.1 1072.2 L385.6 1071.66 L386.1 1071.21 L386.6 1070.83 L387.1 1070.54 L387.6 1070.34 L388.1 1070.23 L388.6 1070.2 L389.1 1070.28 L389.6 1070.46 L390.1 1070.74 L390.6 1071.13 L391.1 1071.62 L391.6 1072.21 L392.1 1072.89 L392.6 1073.67 L393.1 1074.53 L393.6 1075.47 L394.1 1076.5 L394.6 1077.6 L395.1 1078.76 L395.6 1079.98 L396.1 1081.26 L396.6 1082.59 L397.1 1083.95 L397.6 1085.35 L398.1 1086.77 L398.6 1088.21 L399.1 1089.66 L399.6 1091.12 L400.1 1092.57 L400.6 1094" fill="none" stroke="#9513ee" stroke-width="2.5" stroke-linejoin="round" stroke-linecap="round"/>
<path d="M149.3 1064.49 L150.3 1063.77 L151.3 1063.32 L152.3 1063.54 L153.3 1058.8 L154.3 1064.94 L155.3 1063.75 L156.3 1050.02 L157.3 1055.1 L158.3 1053.28 L159.3 1046.24 L160.3 1041.31 L161.3 1048.73 L162.3 1045.32 L163.3 1034.55 L164.3 1032.77 L165.3 1043.93 L166.3 1046.16 L167.3 1038.74 L168.3 1039.28 L169.3 1047.64 L170.3 1052.14 L171.3 1052.06 L172.3 1054.51 L173.3 1031.81 L174.3 1056.46 L175.3 1053.24 L176.3 1062.69 L177.3 1053.99 L178.3 1068.78 L179.3 1071.79 L180.3 1075.74 L181.3 1078.2 L182.3 1090.79 L183.3 1092.32 L184.3 1090.5 L185.3 1088.25 L186.3 1079.4 L187.3 1082.8 L188.3 1077.48 L189.3 1074.07 L190.3 1061.01 L191.3 1061.82 L192.3 1057.11 L193.3 1050.33 L194.3 1037.87 L195.3 1035.34 L196.3 1039.04 L197.3 1032.26 L198.3 1021.6 L199.3 1033.26 L200.3 1035.35 L201.3 1020.32 L202.3 1024.89 L203.3 1031.67 L204.3 1028.53 L205.3 1035.7 L206.3 1030.26 L207.3 1039.76 L208.3 1033.43 L209.3 1032.61 L210.3 1039.81 L211.3 1039.61 L212.3 1040.89 L213.3 1036.2 L214.3 1033.3 L215.3 1037.87 L216.3 1032.12 L217.3 1042.55 L218.3 1051.06 L219.3 1051.43 L220.3 1063.29 L221.3 1073.89 L222.3 1078.12 L223.3 1080.7 L224.3 1082.98 L225.3 1088.17 L226.3 1086.5 L227.3 1078.49 L228.3 1084.44 L229.3 1082.74 L230.3 1093.93 L231.3 1081.29 L232.3 1083.8 L233.3 1073.1 L234.3 1057.41 L235.3 1051.49 L236.3 1051.17 L237.3 1046.01 L238.3 1041.33 L239.3 1038.65 L240.3 1022.5 L241.3 1021.49 L242.3 1017.34 L243.3 1013.75 L244.3 1012.57 L245.3 1004.01 L246.3 997.05 L247.3 1004.61 L248.3 997.87 L249.3 994.26 L250.3 999.03 L251.3 991.3 L252.3 996.27 L253.3 993.24 L254.3 996.14 L255.3 988.49 L256.3 996.86 L257.3 992.7 L258.3 991.95 L259.3 991.4 L260.3 995.72 L261.3 1001.83 L262.3 1003.14 L263.3 1012.99 L264.3 1018.49 L265.3 1029.49 L266.3 1035.27 L267.3 1036.97 L268.3 1055.74 L269.3 1065.26 L270.3 1071.01 L271.3 1079.63 L272.3 1084.78 L273.3 1096.73 L274.3 1099.01 L275.3 1114.12 L276.3 1124.27 L277.3 1124.02 L278.3 1112.55 L279.3 1101.34 L280.3 1086.54 L281.3 1069.72 L282.3 1063 L283.3 1030.49 L284.3 1034.15 L285.3 1015.7 L286.3 1005.12 L287.3 991.8 L288.3 986 L289.3 980.39 L290.3 961.91 L291.3 973.8 L292.3 970.96 L293.3 972.18 L294.3 972.33 L295.3 962.01 L296.3 974.59 L297.3 974.28 L298.3 976.83 L299.3 976.65 L300.3 977.72 L301.3 983.43 L302.3 993.9 L303.3 993.42 L304.3 993.94 L305.3 994.85 L306.3 1006.49 L307.3 1004.91 L308.3 1024.24 L309.3 1029.34 L310.3 1043.29 L311.3 1056.62 L312.3 1068.31 L313.3 1074.35 L314.3 1073.39 L315.3 1066.86 L316.3 1073.72 L317.3 1070.65 L318.3 1067.86 L319.3 1072.58 L320.3 1052.17 L321.3 1067.33 L322.3 1061.65 L323.3 1047.35 L324.3 1052.85 L325.3 1060.19 L326.3 1053.87 L327.3 1058.53 L328.3 1053.57 L329.3 1053.05 L330.3 1044.08 L331.3 1051.76 L332.3 1047.95 L333.3 1041 L334.3 1032.51 L335.3 1037.15 L336.3 1037.8 L337.3 1024.76 L338.3 1025.63 L339.3 1028.85 L340.3 1038.89 L341.3 1032.88 L342.3 1037.26 L343.3 1026.94 L344.3 1024.02 L345.3 1029.31 L346.3 1024.12 L347.3 1032.54 L348.3 1030.95 L349.3 1038.55 L350.3 1041.7 L351.3 1039.07 L352.3 1042.83 L353.3 1041.1 L354.3 1047.1 L355.3 1050.61 L356.3 1047.53 L357.3 1056.87 L358.3 1060.14 L359.3 1057.79 L360.3 1061.58 L361.3 1067.7 L362.3 1080.79 L363.3 1085.73 L364.3 1088.44 L365.3 1084.37 L366.3 1075.96 L367.3 1077.62 L368.3 1079.16 L369.3 1074.33 L370.3 1071.24 L371.3 1067 L372.3 1068.19 L373.3 1076.48 L374.3 1076.95 L375.3 1077.15 L376.3 1071.95 L377.3 1082.01 L378.3 1074.83 L379.3 1076.36 L380.3 1075.45 L381.3 1072.58 L382.3 1064.92 L383.3 1052.75 L384.3 1049.22 L385.3 1055.28 L386.3 1049.31 L387.3 1038.09 L388.3 1044.39 L389.3 1050.51 L390.3 1048.68 L391.3 1051.16 L392.3 1049.15 L393.3 1051.43 L394.3 1047.92 L395.3 1049.53 L396.3 1055.85 L397.3 1045.06 L398.3 1049.61 L399.3 1050.69 L400.3 1053.32 L400.3 1093.53 L399.3 1091.28 L398.3 1090.33 L397.3 1101.87 L396.3 1091.22 L395.3 1093.76 L394.3 1093.17 L393.3 1081.25 L392.3 1085.83 L391.3 1092.01 L390.3 1099.6 L389.3 1105.65 L388.3 1101.79 L387.3 1100.24 L386.3 1101.86 L385.3 1102.13 L384.3 1107.31 L383.3 1106.41 L382.3 1108.93 L381.3 1109.62 L380.3 1112.77 L379.3 1109.31 L378.3 1109.64 L377.3 1107.55 L376.3 1120.23 L375.3 1110.49 L374.3 1114.65 L373.3 1122.24 L372.3 1122.22 L371.3 1123.7 L370.3 1132.38 L369.3 1132.22 L368.3 1126.68 L367.3 1127.97 L366.3 1125.28 L365.3 1135.13 L364.3 1126.77 L363.3 1131.55 L362.3 1128.58 L361.3 1125.57 L360.3 1139.08 L359.3 1127.05 L358.3 1130.6 L357.3 1123.96 L356.3 1120.12 L355.3 1124.94 L354.3 1102.31 L353.3 1107.1 L352.3 1116.43 L351.3 1094.61 L350.3 1096.96 L349.3 1095.02 L348.3 1076.03 L347.3 1073.72 L346.3 1077.27 L345.3 1085.99 L344.3 1084.51 L343.3 1077.7 L342.3 1078.5 L341.3 1083.97 L340.3 1091.47 L339.3 1081.32 L338.3 1098.6 L337.3 1090.29 L336.3 1087.34 L335.3 1085.06 L334.3 1086.58 L333.3 1083.52 L332.3 1082.4 L331.3 1100.33 L330.3 1094.33 L329.3 1110.11 L328.3 1110.66 L327.3 1105.41 L326.3 1117.31 L325.3 1117.45 L324.3 1104.83 L323.3 1104.56 L322.3 1114.26 L321.3 1130.02 L320.3 1125.89 L319.3 1128.74 L318.3 1131.31 L317.3 1133.02 L316.3 1131.18 L315.3 1126.14 L314.3 1135.61 L313.3 1125.86 L312.3 1128.12 L311.3 1123.99 L310.3 1117.52 L309.3 1111.77 L308.3 1107.14 L307.3 1103.3 L306.3 1097.35 L305.3 1092.6 L304.3 1094.72 L303.3 1090.7 L302.3 1059.82 L301.3 1052.67 L300.3 1042.92 L299.3 1026.17 L298.3 1026.68 L297.3 1024.25 L296.3 1013.9 L295.3 1022.12 L294.3 1029.95 L293.3 1044.23 L292.3 1062.29 L291.3 1068.58 L290.3 1089.63 L289.3 1094.07 L288.3 1113.37 L287.3 1121.29 L286.3 1133.48 L285.3 1141.73 L284.3 1161.21 L283.3 1156.71 L282.3 1169.66 L281.3 1161.82 L280.3 1161.52 L279.3 1154.89 L278.3 1158.56 L277.3 1155 L276.3 1161.8 L275.3 1156.59 L274.3 1159.87 L273.3 1156.29 L272.3 1157.63 L271.3 1150.54 L270.3 1145.44 L269.3 1149.67 L268.3 1141.57 L267.3 1130.54 L266.3 1123.84 L265.3 1118.07 L264.3 1105.68 L263.3 1098.51 L262.3 1089.94 L261.3 1087.11 L260.3 1070.63 L259.3 1068.75 L258.3 1053.22 L257.3 1049.96 L256.3 1051.5 L255.3 1049.36 L254.3 1032.45 L253.3 1035.39 L252.3 1031.31 L251.3 1044.11 L250.3 1047.58 L249.3 1048.59 L248.3 1058.6 L247.3 1063.58 L246.3 1077.49 L245.3 1079.61 L244.3 1083.45 L243.3 1096.76 L242.3 1095.45 L241.3 1110.59 L240.3 1114.24 L239.3 1117.14 L238.3 1113.97 L237.3 1117.63 L236.3 1123.2 L235.3 1127.72 L234.3 1121.49 L233.3 1126 L232.3 1132.56 L231.3 1140.28 L230.3 1145.25 L229.3 1149.92 L228.3 1148.99 L227.3 1150.92 L226.3 1151.94 L225.3 1155.07 L224.3 1157.97 L223.3 1161.84 L222.3 1154.71 L221.3 1162.3 L220.3 1143.05 L219.3 1124.71 L218.3 1120.18 L217.3 1120.78 L216.3 1118.72 L215.3 1110.61 L214.3 1104.73 L213.3 1096.31 L212.3 1105.55 L211.3 1098.87 L210.3 1084.94 L209.3 1074.4 L208.3 1062.87 L207.3 1069.07 L206.3 1061.96 L205.3 1068.37 L204.3 1061.34 L203.3 1063.39 L202.3 1077.28 L201.3 1081.22 L200.3 1091.71 L199.3 1099.2 L198.3 1110.69 L197.3 1098.93 L196.3 1101.35 L195.3 1112.8 L194.3 1120.8 L193.3 1121.7 L192.3 1142.04 L191.3 1130.72 L190.3 1131.5 L189.3 1136.62 L188.3 1140 L187.3 1141.01 L186.3 1138.1 L185.3 1137.43 L184.3 1147.36 L183.3 1133.3 L182.3 1140.8 L181.3 1138.34 L180.3 1135.09 L179.3 1135.95 L178.3 1145.03 L177.3 1126.39 L176.3 1135.17 L175.3 1116.61 L174.3 1115.04 L173.3 1114.46 L172.3 1102.59 L171.3 1104.4 L170.3 1101.55 L169.3 1103.45 L168.3 1088.37 L167.3 1088.86 L166.3 1078.65 L165.3 1072.15 L164.3 1085.09 L163.3 1084.23 L162.3 1091.28 L161.3 1093.2 L160.3 1092.25 L159.3 1085.44 L158.3 1086.79 L157.3 1089.45 L156.3 1099.73 L155.3 1098.37 L154.3 1107.66 L153.3 1122.64 L152.3 1112.31 L151.3 1106.22 L150.3 1113.24 L149.3 1109.84 Z" fill="#fe6060" fill-opacity="0.3" stroke="none"/>
<line x1="275" y1="942.3" x2="275" y2="1191" stroke="#6a6a6a" stroke-width="1.7" stroke-dasharray="6.2 2.7" stroke-dashoffset="0"/>
<path d="M149.3 1095.2 L150.3 1090.38 L151.3 1085.74 L152.3 1082.13 L153.3 1079.33 L154.3 1076.76 L155.3 1077.28 L156.3 1078.96 L157.3 1078.4 L158.3 1076.15 L159.3 1073.02 L160.3 1071.19 L161.3 1067.78 L162.3 1064.5 L163.3 1059.94 L164.3 1057.72 L165.3 1057.51 L166.3 1060.91 L167.3 1065.69 L168.3 1064.16 L169.3 1063.37 L170.3 1066.85 L171.3 1072.62 L172.3 1076.3 L173.3 1080.03 L174.3 1083.1 L175.3 1086.71 L176.3 1092.25 L177.3 1098.15 L178.3 1104.14 L179.3 1110.51 L180.3 1117.24 L181.3 1114.45 L182.3 1110.86 L183.3 1108.13 L184.3 1106.02 L185.3 1109.11 L186.3 1114.73 L187.3 1121.38 L188.3 1115.72 L189.3 1106.95 L190.3 1099.9 L191.3 1094.3 L192.3 1089.69 L193.3 1083.37 L194.3 1079.58 L195.3 1073.74 L196.3 1068.12 L197.3 1061.49 L198.3 1054.33 L199.3 1047.98 L200.3 1050.29 L201.3 1051.96 L202.3 1052.77 L203.3 1053.33 L204.3 1052.02 L205.3 1050.69 L206.3 1048.34 L207.3 1048.47 L208.3 1048.95 L209.3 1050.06 L210.3 1050.31 L211.3 1050.44 L212.3 1050.97 L213.3 1056.44 L214.3 1063.33 L215.3 1068.83 L216.3 1075.6 L217.3 1082.42 L218.3 1087.2 L219.3 1092.89 L220.3 1096.54 L221.3 1100.24 L222.3 1100.82 L223.3 1110.1 L224.3 1123.81 L225.3 1137.79 L226.3 1130.54 L227.3 1123.11 L228.3 1115.38 L229.3 1111.35 L230.3 1109.42 L231.3 1106.51 L232.3 1105.97 L233.3 1104.06 L234.3 1103.18 L235.3 1100.04 L236.3 1094.13 L237.3 1086 L238.3 1079.54 L239.3 1073.91 L240.3 1067.28 L241.3 1061.94 L242.3 1055.25 L243.3 1049.3 L244.3 1043.52 L245.3 1038.49 L246.3 1033.5 L247.3 1028.47 L248.3 1024.9 L249.3 1021.47 L250.3 1016.74 L251.3 1015.69 L252.3 1015.78 L253.3 1015.13 L254.3 1013.91 L255.3 1011.13 L256.3 1009.95 L257.3 1016.38 L258.3 1022.06 L259.3 1027.35 L260.3 1034.57 L261.3 1041.89 L262.3 1047.47 L263.3 1055.93 L264.3 1064.49 L265.3 1071.82 L266.3 1081.93 L267.3 1089.72 L268.3 1099.12 L269.3 1108.44 L270.3 1114.97 L271.3 1123.19 L272.3 1130.44 L273.3 1134.67 L274.3 1137.18 L275.3 1139.74 L276.3 1140.86 L277.3 1141.63 L278.3 1142.85 L279.3 1145.06 L280.3 1147.62 L281.3 1136.54 L282.3 1124.03 L283.3 1110.06 L284.3 1097.11 L285.3 1084.4 L286.3 1072.59 L287.3 1057.83 L288.3 1045.44 L289.3 1031.28 L290.3 1019.68 L291.3 1007.24 L292.3 1001.48 L293.3 995.84 L294.3 988.56 L295.3 984.44 L296.3 985.35 L297.3 991.02 L298.3 997.07 L299.3 999.98 L300.3 1003.71 L301.3 1007.59 L302.3 1013.36 L303.3 1019.12 L304.3 1031.29 L305.3 1042.51 L306.3 1055.03 L307.3 1068.78 L308.3 1081.04 L309.3 1089.28 L310.3 1086.79 L311.3 1084.37 L312.3 1090.02 L313.3 1096.49 L314.3 1101.94 L315.3 1107.34 L316.3 1111.85 L317.3 1111.81 L318.3 1100.41 L319.3 1087.25 L320.3 1084.25 L321.3 1080.87 L322.3 1082.05 L323.3 1089.39 L324.3 1095.71 L325.3 1089.51 L326.3 1082.09 L327.3 1074.35 L328.3 1072.64 L329.3 1070.15 L330.3 1068.47 L331.3 1068.09 L332.3 1069.33 L333.3 1072.58 L334.3 1071.12 L335.3 1065.37 L336.3 1060.06 L337.3 1053.51 L338.3 1052.63 L339.3 1056.98 L340.3 1059.93 L341.3 1064.77 L342.3 1061.11 L343.3 1057.25 L344.3 1053.08 L345.3 1048.69 L346.3 1049.12 L347.3 1052.3 L348.3 1056.47 L349.3 1057.53 L350.3 1058.58 L351.3 1059.5 L352.3 1062.54 L353.3 1068.71 L354.3 1074.66 L355.3 1080.26 L356.3 1085.65 L357.3 1090.68 L358.3 1095.28 L359.3 1101.62 L360.3 1105.21 L361.3 1108.47 L362.3 1112.38 L363.3 1113.02 L364.3 1114.59 L365.3 1114.6 L366.3 1113.61 L367.3 1109 L368.3 1104.8 L369.3 1100.37 L370.3 1096.91 L371.3 1092.39 L372.3 1089.69 L373.3 1086.97 L374.3 1089.74 L375.3 1092.86 L376.3 1096.58 L377.3 1095.45 L378.3 1094.26 L379.3 1092.79 L380.3 1090.79 L381.3 1089.57 L382.3 1089.03 L383.3 1087.26 L384.3 1086.26 L385.3 1080.28 L386.3 1074.27 L387.3 1069.08 L388.3 1065.07 L389.3 1064.1 L390.3 1061.29 L391.3 1060.15 L392.3 1059.1 L393.3 1060.08 L394.3 1061.31 L395.3 1063.13 L396.3 1068.32 L397.3 1072.76 L398.3 1074.9 L399.3 1078.79 L400.3 1080.54" fill="none" stroke="#fe6060" stroke-width="3.3" stroke-linejoin="round" stroke-linecap="round"/>
<path d="M149.3 1091.76 L150.3 1086.88 L151.3 1081.45 L152.3 1079.54 L153.3 1076.12 L154.3 1072.17 L155.3 1075.37 L156.3 1078.14 L157.3 1077.55 L158.3 1074.41 L159.3 1072.44 L160.3 1067.54 L161.3 1065.46 L162.3 1059.87 L163.3 1056.51 L164.3 1056.1 L165.3 1054.74 L166.3 1056.77 L167.3 1062.94 L168.3 1062.94 L169.3 1060.59 L170.3 1066.53 L171.3 1070.1 L172.3 1074 L173.3 1079.13 L174.3 1079.71 L175.3 1083.58 L176.3 1089.82 L177.3 1096.2 L178.3 1103.65 L179.3 1108.19 L180.3 1115.52 L181.3 1113.6 L182.3 1109.6 L183.3 1106.36 L184.3 1104.35 L185.3 1105.82 L186.3 1109.97 L187.3 1117.83 L188.3 1112.81 L189.3 1103.72 L190.3 1096.19 L191.3 1090.26 L192.3 1084.45 L193.3 1083.05 L194.3 1077.01 L195.3 1072.43 L196.3 1065.46 L197.3 1060.54 L198.3 1052.92 L199.3 1046.84 L200.3 1047.72 L201.3 1050.15 L202.3 1050.72 L203.3 1051.9 L204.3 1048.8 L205.3 1047.37 L206.3 1045.23 L207.3 1044.66 L208.3 1045.78 L209.3 1048.42 L210.3 1046.65 L211.3 1046.84 L212.3 1044.93 L213.3 1054.34 L214.3 1061.26 L215.3 1065.99 L216.3 1069.4 L217.3 1076.8 L218.3 1084.65 L219.3 1090.4 L220.3 1095.16 L221.3 1096.97 L222.3 1099.9 L223.3 1106.22 L224.3 1121.11 L225.3 1135.19 L226.3 1128.12 L227.3 1122.01 L228.3 1114.11 L229.3 1108.45 L230.3 1106.16 L231.3 1104.49 L232.3 1103.02 L233.3 1102.1 L234.3 1100.69 L235.3 1099.47 L236.3 1092.38 L237.3 1083.48 L238.3 1077.25 L239.3 1071.03 L240.3 1064.06 L241.3 1058.4 L242.3 1050.93 L243.3 1046.41 L244.3 1041.98 L245.3 1033.56 L246.3 1030.43 L247.3 1027.76 L248.3 1023.64 L249.3 1018.36 L250.3 1014.45 L251.3 1014.08 L252.3 1010.32 L253.3 1011.9 L254.3 1010.18 L255.3 1008.73 L256.3 1007.45 L257.3 1012.2 L258.3 1018.82 L259.3 1025.17 L260.3 1033.39 L261.3 1038.73 L262.3 1046.07 L263.3 1054.67 L264.3 1063.15 L265.3 1070.06 L266.3 1079.17 L267.3 1084.58 L268.3 1095.82 L269.3 1105.16 L270.3 1113.16 L271.3 1120.47 L272.3 1128.37 L273.3 1132.13 L274.3 1134.56 L275.3 1138.33 L276.3 1139.39 L277.3 1141.03 L278.3 1140.82 L279.3 1143.26 L280.3 1146.03 L281.3 1136.12 L282.3 1121.56 L283.3 1109.19 L284.3 1095.85 L285.3 1083.82 L286.3 1071.05 L287.3 1055.8 L288.3 1042.85 L289.3 1030.93 L290.3 1017.29 L291.3 1004.7 L292.3 998.73 L293.3 993.96 L294.3 987.16 L295.3 982.83 L296.3 983.7 L297.3 989.34 L298.3 994.49 L299.3 998.85 L300.3 1000.76 L301.3 1003.58 L302.3 1010 L303.3 1014.86 L304.3 1028.1 L305.3 1039.93 L306.3 1051.74 L307.3 1066.19 L308.3 1079.64 L309.3 1087.16 L310.3 1082.92 L311.3 1083.8 L312.3 1088.5 L313.3 1095.15 L314.3 1100.93 L315.3 1105.17 L316.3 1110.67 L317.3 1110.75 L318.3 1097.57 L319.3 1085.8 L320.3 1080.64 L321.3 1077.71 L322.3 1078.98 L323.3 1087.34 L324.3 1094.63 L325.3 1086.65 L326.3 1079.85 L327.3 1073.18 L328.3 1067.98 L329.3 1067.05 L330.3 1065.65 L331.3 1065.62 L332.3 1068.29 L333.3 1070.36 L334.3 1070.52 L335.3 1063.05 L336.3 1056.58 L337.3 1051.59 L338.3 1049.53 L339.3 1054.71 L340.3 1057.25 L341.3 1061.79 L342.3 1058.71 L343.3 1053.65 L344.3 1050.87 L345.3 1044.12 L346.3 1045.17 L347.3 1048.28 L348.3 1053.46 L349.3 1054.72 L350.3 1056.1 L351.3 1056.7 L352.3 1058.98 L353.3 1065.07 L354.3 1072.42 L355.3 1076.76 L356.3 1082.33 L357.3 1087.84 L358.3 1094.02 L359.3 1098.05 L360.3 1103.46 L361.3 1107.03 L362.3 1108.27 L363.3 1108.7 L364.3 1112.05 L365.3 1113.02 L366.3 1111.09 L367.3 1106.75 L368.3 1102.09 L369.3 1096.56 L370.3 1092.84 L371.3 1090.09 L372.3 1087.19 L373.3 1083.94 L374.3 1087.89 L375.3 1090.31 L376.3 1092.49 L377.3 1092.66 L378.3 1091.92 L379.3 1089.81 L380.3 1090.32 L381.3 1086.65 L382.3 1087.14 L383.3 1085.29 L384.3 1081.82 L385.3 1079.44 L386.3 1072.98 L387.3 1066.49 L388.3 1062.15 L389.3 1061.05 L390.3 1058.48 L391.3 1057.11 L392.3 1055.72 L393.3 1056.25 L394.3 1059.26 L395.3 1061.88 L396.3 1064.53 L397.3 1071.11 L398.3 1072.62 L399.3 1074.56 L400.3 1078.88 L400.3 1083 L399.3 1079.55 L398.3 1077.5 L397.3 1075.65 L396.3 1071.89 L395.3 1067.23 L394.3 1063.35 L393.3 1061.45 L392.3 1062.45 L391.3 1061.4 L390.3 1065.71 L389.3 1066.11 L388.3 1069.12 L387.3 1072.27 L386.3 1078.73 L385.3 1084.38 L384.3 1089.43 L383.3 1089.97 L382.3 1092.62 L381.3 1093.65 L380.3 1093.45 L379.3 1095.83 L378.3 1097.62 L377.3 1097.35 L376.3 1101.21 L375.3 1096.89 L374.3 1093.58 L373.3 1088.96 L372.3 1091.59 L371.3 1095.69 L370.3 1099.83 L369.3 1101.69 L368.3 1107.8 L367.3 1111.03 L366.3 1117.2 L365.3 1116.98 L364.3 1116.71 L363.3 1117.23 L362.3 1114.51 L361.3 1111.75 L360.3 1107.85 L359.3 1103.81 L358.3 1098.15 L357.3 1092.78 L356.3 1087.91 L355.3 1083.54 L354.3 1076.64 L353.3 1071.96 L352.3 1065.71 L351.3 1061.74 L350.3 1061.47 L349.3 1060.04 L348.3 1058.2 L347.3 1054.74 L346.3 1051.59 L345.3 1050.47 L344.3 1055.76 L343.3 1059.77 L342.3 1062.74 L341.3 1066.42 L340.3 1062.22 L339.3 1057.89 L338.3 1054.65 L337.3 1056.55 L336.3 1063.25 L335.3 1069.95 L334.3 1075.1 L333.3 1075.41 L332.3 1072.97 L331.3 1070.67 L330.3 1068.97 L329.3 1073.72 L328.3 1073.21 L327.3 1078.36 L326.3 1084.62 L325.3 1092.9 L324.3 1099.51 L323.3 1091.31 L322.3 1084.22 L321.3 1084.41 L320.3 1086.8 L319.3 1090.98 L318.3 1102.29 L317.3 1112.95 L316.3 1113.06 L315.3 1110.95 L314.3 1103.13 L313.3 1099.73 L312.3 1092.68 L311.3 1088.32 L310.3 1088.88 L309.3 1091.51 L308.3 1086.76 L307.3 1070.28 L306.3 1056.54 L305.3 1045.49 L304.3 1032.98 L303.3 1021.01 L302.3 1016.9 L301.3 1011.65 L300.3 1006.57 L299.3 1002.39 L298.3 999.31 L297.3 993.01 L296.3 986.57 L295.3 987.6 L294.3 994.33 L293.3 998.64 L292.3 1003.26 L291.3 1009.25 L290.3 1020.64 L289.3 1033.84 L288.3 1048.54 L287.3 1059.91 L286.3 1074.43 L285.3 1087.01 L284.3 1102.02 L283.3 1113.52 L282.3 1127.03 L281.3 1140.14 L280.3 1150.35 L279.3 1147.06 L278.3 1145.46 L277.3 1144.61 L276.3 1143.48 L275.3 1142.01 L274.3 1141.39 L273.3 1136.99 L272.3 1133.06 L271.3 1124.55 L270.3 1118.79 L269.3 1110.44 L268.3 1102.36 L267.3 1093.92 L266.3 1083.47 L265.3 1075.14 L264.3 1067.87 L263.3 1059.68 L262.3 1050.03 L261.3 1043.67 L260.3 1037.01 L259.3 1030.45 L258.3 1025.6 L257.3 1018.03 L256.3 1012.61 L255.3 1013.4 L254.3 1016.1 L253.3 1018.75 L252.3 1019.64 L251.3 1018.67 L250.3 1021.26 L249.3 1024.14 L248.3 1027.76 L247.3 1031.93 L246.3 1035.87 L245.3 1040.95 L244.3 1045.74 L243.3 1051.4 L242.3 1057.7 L241.3 1064.8 L240.3 1069.73 L239.3 1075.87 L238.3 1081.17 L237.3 1089.44 L236.3 1095.48 L235.3 1101.47 L234.3 1105.09 L233.3 1106.01 L232.3 1108.52 L231.3 1109.11 L230.3 1111.68 L229.3 1114.09 L228.3 1118.29 L227.3 1127.97 L226.3 1133.96 L225.3 1140.39 L224.3 1129.8 L223.3 1114.16 L222.3 1105.63 L221.3 1102.99 L220.3 1098.83 L219.3 1095.52 L218.3 1091.13 L217.3 1083.12 L216.3 1077 L215.3 1071.57 L214.3 1065.13 L213.3 1058.88 L212.3 1052.51 L211.3 1054.38 L210.3 1054.36 L209.3 1054.2 L208.3 1051.35 L207.3 1049.63 L206.3 1050.1 L205.3 1052.13 L204.3 1056.29 L203.3 1055.87 L202.3 1054.93 L201.3 1052.59 L200.3 1051.64 L199.3 1051.32 L198.3 1057.3 L197.3 1063.48 L196.3 1072.02 L195.3 1076.18 L194.3 1084.43 L193.3 1085.8 L192.3 1090.84 L191.3 1096.57 L190.3 1101.21 L189.3 1108.87 L188.3 1118.32 L187.3 1123.22 L186.3 1116.92 L185.3 1112.77 L184.3 1108.87 L183.3 1109.12 L182.3 1112.34 L181.3 1115.6 L180.3 1119.42 L179.3 1113.38 L178.3 1107.66 L177.3 1101.8 L176.3 1094.71 L175.3 1088.63 L174.3 1085.48 L173.3 1082.24 L172.3 1079.79 L171.3 1074.8 L170.3 1071.03 L169.3 1064.67 L168.3 1065.9 L167.3 1067.95 L166.3 1064.77 L165.3 1060.91 L164.3 1061.61 L163.3 1063.72 L162.3 1068.24 L161.3 1069.99 L160.3 1073.23 L159.3 1075.01 L158.3 1077.66 L157.3 1081.23 L156.3 1080.86 L155.3 1080.5 L154.3 1077.8 L153.3 1081.85 L152.3 1084.61 L151.3 1088.76 L150.3 1093.46 L149.3 1097.75 Z" fill="#fe6060" stroke="none"/>
</g>
<line x1="71.2" y1="907.6" x2="104.3" y2="907.6" stroke="#fe6060" stroke-width="3.7"/>
<line x1="140.8" y1="909" x2="165" y2="909" stroke="#000" stroke-width="2"/>
<path d="M172.6 909 L160.5 903.3 L163.5 909 L160.5 914.7 Z" fill="#000"/>
<line x1="488" y1="1183.5" x2="488" y2="1211.1" stroke="#9513ee" stroke-width="3.6"/>
<line x1="695" y1="85.3" x2="695" y2="334.5" stroke="#000" stroke-width="2.2"/>
<line x1="962.4" y1="86.3" x2="962.4" y2="334.5" stroke="#000" stroke-width="2.2"/>
<line x1="693.9" y1="333.4" x2="963.5" y2="333.4" stroke="#000" stroke-width="2.2"/>
<line x1="681" y1="140.4" x2="695" y2="140.4" stroke="#1a1a1a" stroke-width="1.9"/>
<line x1="681" y1="232.2" x2="695" y2="232.2" stroke="#1a1a1a" stroke-width="1.9"/>
<line x1="681" y1="323.7" x2="695" y2="323.7" stroke="#1a1a1a" stroke-width="1.9"/>
<line x1="962.4" y1="86.3" x2="974.4" y2="86.3" stroke="#1a1a1a" stroke-width="1.9"/>
<line x1="962.4" y1="205" x2="974.4" y2="205" stroke="#1a1a1a" stroke-width="1.9"/>
<line x1="962.4" y1="323.7" x2="974.4" y2="323.7" stroke="#1a1a1a" stroke-width="1.9"/>
<line x1="709" y1="333.4" x2="709" y2="346.4" stroke="#000" stroke-width="2"/>
<line x1="827.1" y1="333.4" x2="827.1" y2="346.4" stroke="#000" stroke-width="2"/>
<line x1="946.2" y1="333.4" x2="946.2" y2="346.4" stroke="#000" stroke-width="2"/>
<clipPath id="cp4"><rect x="696" y="60" width="265.4" height="272.3"/></clipPath><g clip-path="url(#cp4)">
<path d="M698.55 222.35 L700.05 222.35 L700.05 223.75 L701.55 223.75 L701.55 228.72 L703.05 228.72 L703.05 215.94 L704.55 215.94 L704.55 235.32 L706.05 235.32 L706.05 231.84 L707.55 231.84 L707.55 234.12 L709.05 234.12 L709.05 228.06 L710.55 228.06 L710.55 223.91 L712.05 223.91 L712.05 227.05 L713.55 227.05 L713.55 225.52 L715.05 225.52 L715.05 233.29 L716.55 233.29 L716.55 225.18 L718.05 225.18 L718.05 229.88 L719.55 229.88 L719.55 226.33 L721.05 226.33 L721.05 231.18 L722.55 231.18 L722.55 236.48 L724.05 236.48 L724.05 229.99 L725.55 229.99 L725.55 226.81 L727.05 226.81 L727.05 233.49 L728.55 233.49 L728.55 235.63 L730.05 235.63 L730.05 233.88 L731.55 233.88 L731.55 233.12 L733.05 233.12 L733.05 231.51 L734.55 231.51 L734.55 231.37 L736.05 231.37 L736.05 224.08 L737.55 224.08 L737.55 228.83 L739.05 228.83 L739.05 225.98 L740.55 225.98 L740.55 226.66 L742.05 226.66 L742.05 223.32 L743.55 223.32 L743.55 229.34 L745.05 229.34 L745.05 225.1 L746.55 225.1 L746.55 224.1 L748.05 224.1 L748.05 236.14 L749.55 236.14 L749.55 228.68 L751.05 228.68 L751.05 234.35 L752.55 234.35 L752.55 233.16 L754.05 233.16 L754.05 228.22 L755.55 228.22 L755.55 229.1 L757.05 229.1 L757.05 231.63 L758.55 231.63 L758.55 229.46 L760.05 229.46 L760.05 227.14 L761.55 227.14 L761.55 219.75 L763.05 219.75 L763.05 231.22 L764.55 231.22 L764.55 231.08 L766.05 231.08 L766.05 235.39 L767.55 235.39 L767.55 230.13 L769.05 230.13 L769.05 235 L770.55 235 L770.55 238.95 L772.05 238.95 L772.05 240.1 L773.55 240.1 L773.55 237.33 L775.05 237.33 L775.05 240.24 L776.55 240.24 L776.55 233.26 L778.05 233.26 L778.05 229.3 L779.55 229.3 L779.55 228.69 L781.05 228.69 L781.05 225.81 L782.55 225.81 L782.55 221.68 L784.05 221.68 L784.05 229.83 L785.55 229.83 L785.55 225.85 L787.05 225.85 L787.05 231.72 L788.55 231.72 L788.55 232.08 L790.05 232.08 L790.05 224.5 L791.55 224.5 L791.55 228.35 L793.05 228.35 L793.05 219.76 L794.55 219.76 L794.55 228.92 L796.05 228.92 L796.05 215.69 L797.55 215.69 L797.55 230.61 L799.05 230.61 L799.05 230.9 L800.55 230.9 L800.55 229.02 L802.05 229.02 L802.05 230.46 L803.55 230.46 L803.55 230.26 L805.05 230.26 L805.05 226.48 L806.55 226.48 L806.55 221.69 L808.05 221.69 L808.05 230.9 L809.55 230.9 L809.55 227.02 L811.05 227.02 L811.05 233.92 L812.55 233.92 L812.55 233.72 L814.05 233.72 L814.05 239.9 L815.55 239.9 L815.55 243.24 L817.05 243.24 L817.05 240.1 L818.55 240.1 L818.55 243.15 L820.05 243.15 L820.05 228.6 L821.55 228.6 L821.55 222.42 L823.05 222.42 L823.05 215.97 L824.55 215.97 L824.55 201.76 L826.05 201.76 L826.05 200.16 L827.55 200.16 L827.55 201.39 L829.05 201.39 L829.05 215.7 L830.55 215.7 L830.55 228.83 L832.05 228.83 L832.05 228.35 L833.55 228.35 L833.55 230.86 L835.05 230.86 L835.05 234.36 L836.55 234.36 L836.55 239.93 L838.05 239.93 L838.05 225.48 L839.55 225.48 L839.55 243.02 L841.05 243.02 L841.05 250.18 L842.55 250.18 L842.55 235.26 L844.05 235.26 L844.05 238.94 L845.55 238.94 L845.55 228.62 L847.05 228.62 L847.05 230.41 L848.55 230.41 L848.55 224.69 L850.05 224.69 L850.05 230.95 L851.55 230.95 L851.55 224.04 L853.05 224.04 L853.05 222.36 L854.55 222.36 L854.55 220.38 L856.05 220.38 L856.05 226.7 L857.55 226.7 L857.55 221.84 L859.05 221.84 L859.05 232.07 L860.55 232.07 L860.55 224.11 L862.05 224.11 L862.05 226.48 L863.55 226.48 L863.55 225.75 L865.05 225.75 L865.05 230.97 L866.55 230.97 L866.55 226.91 L868.05 226.91 L868.05 230.9 L869.55 230.9 L869.55 224.71 L871.05 224.71 L871.05 230.35 L872.55 230.35 L872.55 233.64 L874.05 233.64 L874.05 233.69 L875.55 233.69 L875.55 232.22 L877.05 232.22 L877.05 226.37 L878.55 226.37 L878.55 237.02 L880.05 237.02 L880.05 238.88 L881.55 238.88 L881.55 245.99 L883.05 245.99 L883.05 241.59 L884.55 241.59 L884.55 229.22 L886.05 229.22 L886.05 235.46 L887.55 235.46 L887.55 232.63 L889.05 232.63 L889.05 238.23 L890.55 238.23 L890.55 237.37 L892.05 237.37 L892.05 228.79 L893.55 228.79 L893.55 227.96 L895.05 227.96 L895.05 223.49 L896.55 223.49 L896.55 231.83 L898.05 231.83 L898.05 233.13 L899.55 233.13 L899.55 231.52 L901.05 231.52 L901.05 220.53 L902.55 220.53 L902.55 227.29 L904.05 227.29 L904.05 230.96 L905.55 230.96 L905.55 233.27 L907.05 233.27 L907.05 229.87 L908.55 229.87 L908.55 225.78 L910.05 225.78 L910.05 230.48 L911.55 230.48 L911.55 231.42 L913.05 231.42 L913.05 234.24 L914.55 234.24 L914.55 216.87 L916.05 216.87 L916.05 233 L917.55 233 L917.55 233.83 L919.05 233.83 L919.05 213.6 L920.55 213.6 L920.55 232.28 L922.05 232.28 L922.05 235.97 L923.55 235.97 L923.55 227.98 L925.05 227.98 L925.05 234.81 L926.55 234.81 L926.55 218.48 L928.05 218.48 L928.05 235.63 L929.55 235.63 L929.55 240.17 L931.05 240.17 L931.05 234.62 L932.55 234.62 L932.55 230.53 L934.05 230.53 L934.05 227.7 L935.55 227.7 L935.55 229.43 L937.05 229.43 L937.05 233.97 L938.55 233.97 L938.55 237.77 L940.05 237.77 L940.05 233.77 L941.55 233.77 L941.55 238.02 L943.05 238.02 L943.05 228.38 L944.55 228.38 L944.55 226.35 L946.05 226.35 L946.05 233.88 L947.55 233.88 L947.55 232.86 L949.05 232.86 L949.05 230.21 L950.55 230.21 L950.55 227.17 L952.05 227.17 L952.05 233.09 L953.55 233.09 L953.55 260.8 L952.05 260.8 L952.05 254.08 L950.55 254.08 L950.55 259.98 L949.05 259.98 L949.05 262.1 L947.55 262.1 L947.55 264.93 L946.05 264.93 L946.05 256.06 L944.55 256.06 L944.55 256.09 L943.05 256.09 L943.05 266.71 L941.55 266.71 L941.55 255.14 L940.05 255.14 L940.05 265.91 L938.55 265.91 L938.55 255.27 L937.05 255.27 L937.05 260.63 L935.55 260.63 L935.55 252.84 L934.05 252.84 L934.05 255.46 L932.55 255.46 L932.55 266.2 L931.05 266.2 L931.05 254.86 L929.55 254.86 L929.55 256.95 L928.05 256.95 L928.05 256.04 L926.55 256.04 L926.55 255.16 L925.05 255.16 L925.05 259.69 L923.55 259.69 L923.55 256.67 L922.05 256.67 L922.05 258.1 L920.55 258.1 L920.55 260.69 L919.05 260.69 L919.05 267.33 L917.55 267.33 L917.55 257.95 L916.05 257.95 L916.05 256.65 L914.55 256.65 L914.55 259.09 L913.05 259.09 L913.05 249.55 L911.55 249.55 L911.55 251.77 L910.05 251.77 L910.05 260.05 L908.55 260.05 L908.55 254.48 L907.05 254.48 L907.05 255.73 L905.55 255.73 L905.55 255.05 L904.05 255.05 L904.05 262.46 L902.55 262.46 L902.55 262.97 L901.05 262.97 L901.05 256.28 L899.55 256.28 L899.55 257.24 L898.05 257.24 L898.05 265.71 L896.55 265.71 L896.55 259.72 L895.05 259.72 L895.05 258.7 L893.55 258.7 L893.55 258.38 L892.05 258.38 L892.05 278.2 L890.55 278.2 L890.55 271.68 L889.05 271.68 L889.05 268.65 L887.55 268.65 L887.55 265.2 L886.05 265.2 L886.05 269.19 L884.55 269.19 L884.55 272.37 L883.05 272.37 L883.05 274.45 L881.55 274.45 L881.55 265.89 L880.05 265.89 L880.05 265.72 L878.55 265.72 L878.55 272.48 L877.05 272.48 L877.05 274.74 L875.55 274.74 L875.55 258.15 L874.05 258.15 L874.05 267.21 L872.55 267.21 L872.55 254.84 L871.05 254.84 L871.05 253.99 L869.55 253.99 L869.55 253.43 L868.05 253.43 L868.05 256.54 L866.55 256.54 L866.55 255.3 L865.05 255.3 L865.05 265.28 L863.55 265.28 L863.55 257.47 L862.05 257.47 L862.05 263.92 L860.55 263.92 L860.55 256.87 L859.05 256.87 L859.05 253.87 L857.55 253.87 L857.55 255.13 L856.05 255.13 L856.05 256 L854.55 256 L854.55 252.85 L853.05 252.85 L853.05 263.38 L851.55 263.38 L851.55 260.29 L850.05 260.29 L850.05 263.01 L848.55 263.01 L848.55 268.25 L847.05 268.25 L847.05 268.43 L845.55 268.43 L845.55 270.02 L844.05 270.02 L844.05 268.98 L842.55 268.98 L842.55 263.97 L841.05 263.97 L841.05 265.66 L839.55 265.66 L839.55 262.59 L838.05 262.59 L838.05 263.29 L836.55 263.29 L836.55 270.67 L835.05 270.67 L835.05 258.65 L833.55 258.65 L833.55 255.93 L832.05 255.93 L832.05 253.82 L830.55 253.82 L830.55 237.65 L829.05 237.65 L829.05 229.92 L827.55 229.92 L827.55 222.11 L826.05 222.11 L826.05 240.69 L824.55 240.69 L824.55 246.96 L823.05 246.96 L823.05 259.69 L821.55 259.69 L821.55 273.1 L820.05 273.1 L820.05 269.09 L818.55 269.09 L818.55 265.93 L817.05 265.93 L817.05 264.63 L815.55 264.63 L815.55 272.66 L814.05 272.66 L814.05 268.42 L812.55 268.42 L812.55 258.54 L811.05 258.54 L811.05 257.43 L809.55 257.43 L809.55 257.21 L808.05 257.21 L808.05 256.07 L806.55 256.07 L806.55 257.32 L805.05 257.32 L805.05 260.61 L803.55 260.61 L803.55 260.66 L802.05 260.66 L802.05 255.55 L800.55 255.55 L800.55 255.91 L799.05 255.91 L799.05 252.9 L797.55 252.9 L797.55 252.12 L796.05 252.12 L796.05 259.07 L794.55 259.07 L794.55 247.25 L793.05 247.25 L793.05 269.92 L791.55 269.92 L791.55 258.24 L790.05 258.24 L790.05 260.18 L788.55 260.18 L788.55 254.64 L787.05 254.64 L787.05 253.43 L785.55 253.43 L785.55 258.19 L784.05 258.19 L784.05 252.67 L782.55 252.67 L782.55 265.59 L781.05 265.59 L781.05 258.09 L779.55 258.09 L779.55 258.71 L778.05 258.71 L778.05 263.7 L776.55 263.7 L776.55 267.66 L775.05 267.66 L775.05 272.94 L773.55 272.94 L773.55 264.9 L772.05 264.9 L772.05 260.63 L770.55 260.63 L770.55 261.75 L769.05 261.75 L769.05 259.53 L767.55 259.53 L767.55 251.59 L766.05 251.59 L766.05 257.66 L764.55 257.66 L764.55 253.46 L763.05 253.46 L763.05 261.48 L761.55 261.48 L761.55 252.74 L760.05 252.74 L760.05 254.15 L758.55 254.15 L758.55 256.21 L757.05 256.21 L757.05 256.15 L755.55 256.15 L755.55 251.71 L754.05 251.71 L754.05 257.14 L752.55 257.14 L752.55 254.44 L751.05 254.44 L751.05 257.18 L749.55 257.18 L749.55 260.72 L748.05 260.72 L748.05 258.23 L746.55 258.23 L746.55 254.19 L745.05 254.19 L745.05 250.41 L743.55 250.41 L743.55 255.95 L742.05 255.95 L742.05 250.24 L740.55 250.24 L740.55 250.32 L739.05 250.32 L739.05 246.97 L737.55 246.97 L737.55 260.24 L736.05 260.24 L736.05 246.05 L734.55 246.05 L734.55 250.86 L733.05 250.86 L733.05 262.13 L731.55 262.13 L731.55 263.63 L730.05 263.63 L730.05 257.64 L728.55 257.64 L728.55 261.74 L727.05 261.74 L727.05 264.67 L725.55 264.67 L725.55 251.08 L724.05 251.08 L724.05 262.43 L722.55 262.43 L722.55 248.75 L721.05 248.75 L721.05 262.51 L719.55 262.51 L719.55 247.89 L718.05 247.89 L718.05 247.02 L716.55 247.02 L716.55 252.22 L715.05 252.22 L715.05 245.4 L713.55 245.4 L713.55 248.69 L712.05 248.69 L712.05 248.3 L710.55 248.3 L710.55 250.04 L709.05 250.04 L709.05 250.61 L707.55 250.61 L707.55 252.04 L706.05 252.04 L706.05 252.96 L704.55 252.96 L704.55 251.71 L703.05 251.71 L703.05 255.59 L701.55 255.59 L701.55 255.27 L700.05 255.27 L700.05 255.92 L698.55 255.92 Z" fill="#ff0000" stroke="none"/>
<line x1="827.3" y1="96" x2="827.3" y2="333" stroke="#000" stroke-width="1.3" stroke-dasharray="5.8 3.2" stroke-dashoffset="2.8"/>
<line x1="828.8" y1="110.5" x2="828.8" y2="250" stroke="#ff0000" stroke-width="3.6"/>
<path d="M699.3 236.1 C700.3 237.08 703.32 240.72 705.3 242 C707.28 243.28 708.95 244.5 711.2 243.8 C713.45 243.1 716.68 240.22 718.8 237.8 C720.92 235.38 721.92 232.13 723.9 229.3 C725.88 226.47 728.72 222.43 730.7 220.8 C732.68 219.17 734.1 218.37 735.8 219.5 C737.5 220.63 738.92 224.4 740.9 227.6 C742.88 230.8 745.43 236.85 747.7 238.7 C749.97 240.55 752.23 239.13 754.5 238.7 C756.77 238.27 759.03 239.37 761.3 236.1 C763.57 232.83 766.12 224.18 768.1 219.1 C770.08 214.02 771.57 208.85 773.2 205.6 C774.83 202.35 776.22 198.47 777.9 199.6 C779.58 200.73 781.55 208.02 783.3 212.4 C785.05 216.78 786.7 222.8 788.4 225.9 C790.1 229 791.8 230.72 793.5 231 C795.2 231.28 796.62 229.85 798.6 227.6 C800.58 225.35 803.42 223.72 805.4 217.5 C807.38 211.28 808.67 198.8 810.5 190.3 C812.33 181.8 814.85 174.13 816.4 166.5 C817.95 158.87 818.78 152.98 819.8 144.5 C820.82 136.02 821.63 116.45 822.5 115.6 C823.37 114.75 824.17 132.33 825 139.4 C825.83 146.47 826.63 153.9 827.5 158 C828.37 162.1 829.28 165 830.2 164 C831.12 163 832.2 157.67 833 152 C833.8 146.33 834.2 136.07 835 130 C835.8 123.93 836.93 114.77 837.8 115.6 C838.67 116.43 839.48 127.35 840.2 135 C840.92 142.65 840.93 153.98 842.1 161.5 C843.27 169.02 845.23 171.62 847.2 180.1 C849.17 188.58 851.65 204.48 853.9 212.4 C856.15 220.32 858.57 224.5 860.7 227.6 C862.83 230.7 865 231.85 866.7 231 C868.4 230.15 869.07 227.02 870.9 222.5 C872.73 217.98 875.87 207.72 877.7 203.9 C879.53 200.08 880.2 198.47 881.9 199.6 C883.6 200.73 885.77 206.03 887.9 210.7 C890.03 215.37 892.43 223.22 894.7 227.6 C896.97 231.98 898.68 235.02 901.5 237 C904.32 238.98 908.78 241.35 911.6 239.5 C914.42 237.65 916.27 229.15 918.4 225.9 C920.53 222.65 922.13 220 924.4 220 C926.67 220 929.6 222.93 932 225.9 C934.4 228.87 936.53 234.82 938.8 237.8 C941.07 240.78 942.92 242.8 945.6 243.8 C948.28 244.8 953.35 243.8 954.9 243.8" fill="none" stroke="#9513ee" stroke-width="2.7" stroke-linejoin="round" stroke-linecap="round"/>
<path d="M699.3 242.54 L700.3 243.07 L701.3 243.77 L702.3 242.6 L703.3 243.8 L704.3 243.63 L705.3 244.42 L706.3 245.09 L707.3 244.36 L708.3 244.11 L709.3 242.85 L710.3 242.2 L711.3 242.13 L712.3 241.6 L713.3 240.4 L714.3 240.91 L715.3 239.8 L716.3 238.93 L717.3 238.27 L718.3 240.06 L719.3 240.82 L720.3 241.52 L721.3 240.77 L722.3 241.04 L723.3 242.79 L724.3 242.23 L725.3 244.58 L726.3 244.92 L727.3 244.93 L728.3 245.84 L729.3 247.01 L730.3 246.66 L731.3 247.77 L732.3 249.3 L733.3 248 L734.3 246.51 L735.3 244.25 L736.3 243.19 L737.3 241.97 L738.3 240.23 L739.3 240.15 L740.3 238.72 L741.3 238.93 L742.3 238.9 L743.3 240.33 L744.3 240.14 L745.3 240.94 L746.3 241.17 L747.3 242.25 L748.3 243.9 L749.3 243.7 L750.3 242.61 L751.3 243.11 L752.3 242.58 L753.3 243.22 L754.3 242.78 L755.3 242.5 L756.3 243.19 L757.3 242.65 L758.3 241.23 L759.3 241.25 L760.3 242.72 L761.3 242.64 L762.3 242.89 L763.3 242.72 L764.3 241.92 L765.3 243.4 L766.3 245.17 L767.3 245.7 L768.3 245.59 L769.3 246.75 L770.3 249.31 L771.3 249.59 L772.3 249.72 L773.3 251.66 L774.3 252.96 L775.3 253.7 L776.3 254.12 L777.3 253.25 L778.3 250.1 L779.3 249.15 L780.3 248.14 L781.3 245.49 L782.3 243.39 L783.3 243.13 L784.3 241.1 L785.3 238.74 L786.3 239.6 L787.3 241.34 L788.3 242.88 L789.3 242.96 L790.3 244.23 L791.3 243.44 L792.3 244.14 L793.3 242.14 L794.3 241.23 L795.3 239.65 L796.3 239.85 L797.3 240.43 L798.3 243.07 L799.3 244.47 L800.3 246.4 L801.3 247.54 L802.3 246.85 L803.3 247.44 L804.3 245.79 L805.3 245.57 L806.3 243.68 L807.3 242.36 L808.3 245.11 L809.3 245.55 L810.3 248.67 L811.3 249.28 L812.3 251.5 L813.3 252.19 L814.3 253.1 L815.3 254.63 L816.3 255.59 L817.3 255.96 L818.3 256.45 L819.3 257.61 L820.3 256.13 L821.3 250.16 L822.3 245.02 L823.3 240.32 L824.3 232.2 L825.3 222.54 L826.3 214.48 L827.3 214.38 L828.3 218.44 L829.3 224.92 L830.3 229.36 L831.3 233.42 L832.3 238.72 L833.3 243.99 L834.3 246.2 L835.3 246.24 L836.3 249.04 L837.3 250.37 L838.3 251.59 L839.3 253.45 L840.3 254.65 L841.3 255.47 L842.3 257.49 L843.3 255.36 L844.3 254.72 L845.3 254.8 L846.3 253.24 L847.3 252.12 L848.3 251.4 L849.3 249.56 L850.3 247.95 L851.3 246.88 L852.3 244.42 L853.3 243.68 L854.3 241.66 L855.3 242.17 L856.3 240.6 L857.3 240.34 L858.3 240.02 L859.3 242.09 L860.3 241.62 L861.3 243.33 L862.3 243.69 L863.3 244.27 L864.3 245.01 L865.3 243.68 L866.3 244.43 L867.3 243.46 L868.3 243.51 L869.3 243.29 L870.3 241.74 L871.3 242.37 L872.3 243.66 L873.3 244.47 L874.3 247.45 L875.3 248.45 L876.3 249.44 L877.3 250.94 L878.3 252.39 L879.3 251.15 L880.3 252.11 L881.3 253.15 L882.3 253.23 L883.3 253.54 L884.3 253.44 L885.3 252.84 L886.3 252.98 L887.3 251.57 L888.3 252.01 L889.3 251.18 L890.3 250.56 L891.3 248.42 L892.3 248.14 L893.3 246.57 L894.3 246.32 L895.3 245.45 L896.3 246.3 L897.3 247.21 L898.3 246.82 L899.3 246.03 L900.3 245.85 L901.3 247.16 L902.3 245.41 L903.3 246.99 L904.3 247.01 L905.3 245.16 L906.3 246.36 L907.3 245.2 L908.3 244.12 L909.3 243.64 L910.3 243.45 L911.3 242.72 L912.3 242.85 L913.3 243.48 L914.3 243.21 L915.3 243.44 L916.3 245.84 L917.3 246.44 L918.3 247.32 L919.3 246.43 L920.3 246.63 L921.3 248.48 L922.3 247.61 L923.3 248.03 L924.3 249.23 L925.3 247.87 L926.3 248.95 L927.3 247.84 L928.3 248.63 L929.3 248.77 L930.3 247.4 L931.3 248.4 L932.3 248.6 L933.3 248.11 L934.3 247.83 L935.3 247.93 L936.3 247.26 L937.3 246.71 L938.3 247.05 L939.3 246.89 L940.3 246.48 L941.3 246.51 L942.3 245.47 L943.3 245.74 L944.3 245.66 L945.3 246.68 L946.3 246.47 L947.3 245.44 L948.3 246.79 L949.3 244.87 L950.3 244.82 L951.3 245.3 L952.3 244.75 L953.3 246.44" fill="none" stroke="#2b3555" stroke-width="3.8" stroke-linejoin="round" stroke-linecap="round"/>
</g>
<line x1="859.2" y1="68.8" x2="839" y2="97.5" stroke="#ff0000" stroke-width="2.4"/>
<path d="M833.2 107.7 L836.3 92.2 L838.8 97.9 L846.2 99.3 Z" fill="#ff0000"/>
<line x1="588.2" y1="35.4" x2="622.3" y2="35.4" stroke="#ff0000" stroke-width="3.7"/>
<line x1="1047.2" y1="336" x2="1047.2" y2="362.2" stroke="#9513ee" stroke-width="3.6"/>
<line x1="695" y1="526.5" x2="695" y2="771.4" stroke="#000" stroke-width="2.2"/>
<line x1="961.8" y1="515.9" x2="961.8" y2="771.4" stroke="#000" stroke-width="2.2"/>
<line x1="693.9" y1="770.3" x2="962.9" y2="770.3" stroke="#000" stroke-width="2.2"/>
<line x1="681" y1="526.5" x2="695" y2="526.5" stroke="#1a1a1a" stroke-width="1.9"/>
<line x1="681" y1="592" x2="695" y2="592" stroke="#1a1a1a" stroke-width="1.9"/>
<line x1="681" y1="657.5" x2="695" y2="657.5" stroke="#1a1a1a" stroke-width="1.9"/>
<line x1="681" y1="723" x2="695" y2="723" stroke="#1a1a1a" stroke-width="1.9"/>
<line x1="961.8" y1="515.9" x2="973.8" y2="515.9" stroke="#1a1a1a" stroke-width="1.9"/>
<line x1="961.8" y1="635.1" x2="973.8" y2="635.1" stroke="#1a1a1a" stroke-width="1.9"/>
<line x1="961.8" y1="755.3" x2="973.8" y2="755.3" stroke="#1a1a1a" stroke-width="1.9"/>
<line x1="709" y1="770.3" x2="709" y2="783.3" stroke="#000" stroke-width="2"/>
<line x1="827.5" y1="770.3" x2="827.5" y2="783.3" stroke="#000" stroke-width="2"/>
<line x1="946.9" y1="770.3" x2="946.9" y2="783.3" stroke="#000" stroke-width="2"/>
<clipPath id="cp5"><rect x="696" y="500" width="264.8" height="269.2"/></clipPath><g clip-path="url(#cp5)">
<path d="M702.3 669.4 C703.57 670.33 707.72 673.95 709.9 675 C712.08 676.05 713.32 677.55 715.4 675.7 C717.48 673.85 720.08 667.72 722.4 663.9 C724.72 660.08 727.1 655.23 729.3 652.8 C731.5 650.37 733.75 648.83 735.6 649.3 C737.45 649.77 738.67 652.7 740.4 655.6 C742.13 658.5 743.92 664.62 746 666.7 C748.08 668.78 750.82 668.1 752.9 668.1 C754.98 668.1 756.87 668.1 758.5 666.7 C760.13 665.3 761.17 663.2 762.7 659.7 C764.23 656.2 765.9 649.97 767.7 645.7 C769.5 641.43 771.83 636.73 773.5 634.1 C775.17 631.47 776.42 629.9 777.7 629.9 C778.98 629.9 779.65 630.82 781.2 634.1 C782.75 637.38 784.92 645.1 787 649.6 C789.08 654.1 791.77 659.82 793.7 661.1 C795.63 662.38 796.82 659.22 798.6 657.3 C800.38 655.38 802.48 655.38 804.4 649.6 C806.32 643.82 808.18 631.6 810.1 622.6 C812.02 613.6 814.28 604.6 815.9 595.6 C817.52 586.6 818.67 576.97 819.8 568.6 C820.93 560.23 821.73 545.4 822.7 545.4 C823.67 545.4 824.57 560.88 825.6 568.6 C826.63 576.32 827.88 588.17 828.9 591.7 C829.92 595.23 830.75 593.65 831.7 589.8 C832.65 585.95 833.63 575.83 834.6 568.6 C835.57 561.37 836.53 545.77 837.5 546.4 C838.47 547.03 839.27 563.25 840.4 572.4 C841.53 581.55 842.68 592.93 844.3 601.3 C845.92 609.67 848.17 615.2 850.1 622.6 C852.03 630 853.98 640.25 855.9 645.7 C857.82 651.15 859.83 652.73 861.6 655.3 C863.37 657.87 864.88 661.73 866.5 661.1 C868.12 660.47 869.53 655.67 871.3 651.5 C873.07 647.33 875.33 639.8 877.1 636.1 C878.87 632.4 880.3 629.3 881.9 629.3 C883.5 629.3 885.1 633.05 886.7 636.1 C888.3 639.15 890.22 644.78 891.5 647.6 C892.78 650.42 892.93 649.92 894.4 653 C895.87 656.08 898.35 663.42 900.3 666.1 C902.25 668.78 904.15 668.6 906.1 669.1 C908.05 669.6 909.8 671.3 912 669.1 C914.2 666.9 917.23 659.2 919.3 655.9 C921.37 652.6 922.7 649.78 924.4 649.3 C926.1 648.82 927.67 650.92 929.5 653 C931.33 655.08 933.43 658.63 935.4 661.8 C937.37 664.97 939.6 669.82 941.3 672 C943 674.18 944.15 674.53 945.6 674.9 C947.05 675.27 948.53 674.57 950 674.2 C951.47 673.83 953.67 672.95 954.4 672.7" fill="none" stroke="#9513ee" stroke-width="2.7" stroke-linejoin="round" stroke-linecap="round"/>
<path d="M702.3 635.58 L703.3 642.7 L704.3 633.88 L705.3 625.2 L706.3 628.6 L707.3 630.77 L708.3 637.89 L709.3 637.77 L710.3 635.95 L711.3 630.83 L712.3 633.06 L713.3 624.74 L714.3 633.33 L715.3 634.38 L716.3 645.82 L717.3 653.06 L718.3 632.51 L719.3 647.51 L720.3 649.19 L721.3 638.1 L722.3 641.64 L723.3 646.56 L724.3 643.93 L725.3 641.5 L726.3 647.92 L727.3 641.02 L728.3 662.44 L729.3 662.55 L730.3 671.72 L731.3 669.67 L732.3 672.04 L733.3 653.19 L734.3 668.4 L735.3 653.15 L736.3 645.22 L737.3 637.6 L738.3 640.07 L739.3 642.98 L740.3 641.73 L741.3 644.54 L742.3 639.75 L743.3 633.96 L744.3 639.47 L745.3 643.27 L746.3 634.57 L747.3 636.94 L748.3 651.66 L749.3 650.97 L750.3 655.78 L751.3 650.36 L752.3 650.15 L753.3 662.73 L754.3 662.57 L755.3 663.97 L756.3 663.66 L757.3 660.74 L758.3 664.48 L759.3 667.95 L760.3 657.04 L761.3 672.47 L762.3 672.34 L763.3 674.05 L764.3 663.74 L765.3 673.66 L766.3 678.27 L767.3 678.66 L768.3 682.98 L769.3 674.69 L770.3 687.29 L771.3 693.97 L772.3 688.03 L773.3 696.28 L774.3 688.79 L775.3 686.5 L776.3 680.11 L777.3 676.72 L778.3 675.09 L779.3 669.06 L780.3 664.23 L781.3 660.4 L782.3 659.75 L783.3 658.33 L784.3 652.85 L785.3 641.04 L786.3 633.78 L787.3 629.03 L788.3 637.9 L789.3 635.92 L790.3 637.08 L791.3 629.11 L792.3 622.17 L793.3 632.62 L794.3 623.61 L795.3 625.74 L796.3 627.09 L797.3 647.95 L798.3 646.14 L799.3 652.65 L800.3 655.46 L801.3 656.48 L802.3 643.18 L803.3 655.04 L804.3 663.16 L805.3 661.11 L806.3 654.89 L807.3 660.99 L808.3 658.36 L809.3 652.6 L810.3 657.53 L811.3 664.62 L812.3 675.54 L813.3 698.4 L814.3 713.55 L815.3 716.14 L816.3 719.13 L817.3 706.13 L818.3 704.21 L819.3 681.12 L820.3 670.82 L821.3 670.92 L822.3 653.84 L823.3 657.75 L824.3 645.73 L825.3 645.13 L826.3 647.98 L827.3 652.88 L828.3 653.38 L829.3 647.78 L830.3 634.37 L831.3 640.75 L832.3 642.8 L833.3 647.23 L834.3 650.81 L835.3 651.96 L836.3 656.59 L837.3 653.16 L838.3 663.16 L839.3 666.24 L840.3 680.94 L841.3 690.7 L842.3 684.41 L843.3 715.09 L844.3 704.13 L845.3 696.38 L846.3 700.6 L847.3 691.6 L848.3 688.54 L849.3 683.84 L850.3 680.12 L851.3 673.86 L852.3 680.57 L853.3 672.85 L854.3 674.01 L855.3 667.39 L856.3 665.73 L857.3 666.84 L858.3 661.68 L859.3 642.68 L860.3 643.31 L861.3 639.94 L862.3 646.58 L863.3 647.08 L864.3 646.42 L865.3 638.85 L866.3 637.91 L867.3 643.02 L868.3 640 L869.3 637.87 L870.3 642.31 L871.3 645.85 L872.3 657.69 L873.3 667.49 L874.3 669.1 L875.3 673.73 L876.3 672.71 L877.3 687.22 L878.3 689.69 L879.3 682.75 L880.3 677.03 L881.3 682.34 L882.3 667.03 L883.3 683.29 L884.3 670.5 L885.3 674.59 L886.3 676.09 L887.3 665.52 L888.3 664.26 L889.3 669.66 L890.3 664.53 L891.3 665.29 L892.3 661.44 L893.3 660.59 L894.3 653.11 L895.3 663.61 L896.3 651.87 L897.3 645.22 L898.3 651.28 L899.3 660.76 L900.3 655.53 L901.3 649.64 L902.3 656.18 L903.3 649.56 L904.3 639.63 L905.3 645.37 L906.3 646.85 L907.3 638.26 L908.3 627.55 L909.3 637.35 L910.3 632.44 L911.3 636.91 L912.3 638.02 L913.3 635.55 L914.3 641.7 L915.3 651.28 L916.3 649.03 L917.3 656.77 L918.3 659.5 L919.3 651.08 L920.3 643.78 L921.3 657.72 L922.3 654.41 L923.3 655.38 L924.3 659.67 L925.3 655.4 L926.3 643.03 L927.3 659.74 L928.3 639.2 L929.3 661.38 L930.3 660.55 L931.3 660.01 L932.3 668.05 L933.3 653.68 L934.3 654.03 L935.3 650.83 L936.3 652.9 L937.3 648.51 L938.3 643.55 L939.3 633.79 L940.3 648.86 L941.3 638.43 L942.3 637.88 L943.3 646.78 L944.3 645.51 L945.3 654.13 L946.3 654.11 L947.3 655.73 L948.3 648.55 L949.3 648.5 L950.3 638.28 L951.3 645.13 L952.3 637.02 L953.3 636.84 L954.3 641.27 L954.3 691.46 L953.3 677.33 L952.3 677.68 L951.3 690.18 L950.3 684.76 L949.3 687.82 L948.3 699.25 L947.3 708.55 L946.3 706.82 L945.3 712.63 L944.3 705.56 L943.3 706.3 L942.3 707.02 L941.3 712.83 L940.3 708.42 L939.3 715.26 L938.3 707.91 L937.3 717.08 L936.3 719.08 L935.3 713.16 L934.3 714.63 L933.3 721.58 L932.3 719.05 L931.3 716.64 L930.3 720.63 L929.3 714.55 L928.3 715.11 L927.3 711.1 L926.3 703.55 L925.3 692.98 L924.3 703.38 L923.3 699.11 L922.3 700.22 L921.3 702.24 L920.3 712.07 L919.3 703.37 L918.3 711.09 L917.3 699.7 L916.3 714.81 L915.3 713.66 L914.3 699.17 L913.3 703.05 L912.3 692.57 L911.3 688.02 L910.3 693.68 L909.3 695.48 L908.3 700.5 L907.3 696.09 L906.3 697.51 L905.3 697.41 L904.3 695.38 L903.3 707.3 L902.3 707.28 L901.3 717.07 L900.3 704.66 L899.3 692.61 L898.3 695.5 L897.3 694.74 L896.3 711.05 L895.3 707.35 L894.3 709.64 L893.3 718.35 L892.3 719.71 L891.3 723.57 L890.3 734.45 L889.3 742.29 L888.3 742.32 L887.3 744.45 L886.3 755.74 L885.3 744.92 L884.3 749.14 L883.3 745.09 L882.3 749.51 L881.3 749.8 L880.3 747.1 L879.3 755.03 L878.3 750.05 L877.3 741.98 L876.3 734.12 L875.3 729.96 L874.3 724.99 L873.3 722.77 L872.3 720.05 L871.3 719.96 L870.3 720.06 L869.3 727.42 L868.3 705.56 L867.3 706.6 L866.3 695.79 L865.3 686.38 L864.3 688.83 L863.3 700.55 L862.3 695.88 L861.3 703.62 L860.3 713.87 L859.3 710.13 L858.3 708.8 L857.3 710 L856.3 717.94 L855.3 713.84 L854.3 728.53 L853.3 732.1 L852.3 739.37 L851.3 736.66 L850.3 744.59 L849.3 762.17 L848.3 767.12 L847.3 766.12 L846.3 770.51 L845.3 770.36 L844.3 769.65 L843.3 772.42 L842.3 774.37 L841.3 771.01 L840.3 767.64 L839.3 771.28 L838.3 773.03 L837.3 768.21 L836.3 748.63 L835.3 744.68 L834.3 724.79 L833.3 711.51 L832.3 701.23 L831.3 699.31 L830.3 694.76 L829.3 711.89 L828.3 712.27 L827.3 721.45 L826.3 741.53 L825.3 771.19 L824.3 757.7 L823.3 757.36 L822.3 760.79 L821.3 757.07 L820.3 755.55 L819.3 762.56 L818.3 767.5 L817.3 753.72 L816.3 753.3 L815.3 756.56 L814.3 744.56 L813.3 743.42 L812.3 758.61 L811.3 744.4 L810.3 749.72 L809.3 746.93 L808.3 745.23 L807.3 740.11 L806.3 729.93 L805.3 724.63 L804.3 723.05 L803.3 701.97 L802.3 688.91 L801.3 700.13 L800.3 689.06 L799.3 690.47 L798.3 685.22 L797.3 683.21 L796.3 683.64 L795.3 686.02 L794.3 680.69 L793.3 682.94 L792.3 675.73 L791.3 684.19 L790.3 679.44 L789.3 693.74 L788.3 698.15 L787.3 691.33 L786.3 704.84 L785.3 707.5 L784.3 706.79 L783.3 709.64 L782.3 720.97 L781.3 721.05 L780.3 736.5 L779.3 747.69 L778.3 739 L777.3 742.4 L776.3 736.83 L775.3 742.24 L774.3 755.68 L773.3 740.76 L772.3 742.39 L771.3 744.97 L770.3 746.9 L769.3 732.35 L768.3 727.01 L767.3 723.07 L766.3 730.01 L765.3 722.75 L764.3 723.78 L763.3 723.69 L762.3 722.29 L761.3 728.82 L760.3 708.12 L759.3 706.04 L758.3 700.89 L757.3 705.76 L756.3 702.79 L755.3 700.19 L754.3 692.87 L753.3 694.27 L752.3 697.18 L751.3 687.3 L750.3 688.09 L749.3 692.62 L748.3 687.2 L747.3 688.66 L746.3 691.45 L745.3 681.25 L744.3 688.26 L743.3 689.05 L742.3 700.55 L741.3 715.15 L740.3 718.1 L739.3 725.52 L738.3 718.84 L737.3 715.36 L736.3 719.72 L735.3 715.34 L734.3 719.87 L733.3 726.77 L732.3 723.94 L731.3 734.68 L730.3 735.36 L729.3 731.16 L728.3 737.14 L727.3 734.92 L726.3 740.1 L725.3 737.46 L724.3 726.78 L723.3 723.09 L722.3 719.8 L721.3 707.66 L720.3 693.4 L719.3 711.27 L718.3 699.49 L717.3 695.54 L716.3 698.67 L715.3 708.22 L714.3 696.27 L713.3 701.61 L712.3 693.98 L711.3 696.7 L710.3 692.06 L709.3 697.39 L708.3 687.69 L707.3 688.57 L706.3 686.9 L705.3 703.11 L704.3 696.09 L703.3 685.88 L702.3 694.66 Z" fill="#00afbd" fill-opacity="0.3" stroke="none"/>
<path d="M702.3 663.58 L703.3 660.09 L704.3 655.14 L705.3 665.38 L706.3 677.04 L707.3 667.53 L708.3 654.91 L709.3 649.36 L710.3 643.64 L711.3 648.81 L712.3 660.09 L713.3 668.16 L714.3 673.22 L715.3 680.64 L716.3 672.14 L717.3 662.6 L718.3 665.13 L719.3 670.66 L720.3 670.52 L721.3 667.68 L722.3 664.84 L723.3 670.87 L724.3 676.96 L725.3 686.57 L726.3 696.66 L727.3 705.25 L728.3 710.58 L729.3 713.45 L730.3 699.96 L731.3 687.52 L732.3 684.04 L733.3 682.56 L734.3 694.04 L735.3 704.21 L736.3 703.86 L737.3 700.05 L738.3 690.42 L739.3 676.78 L740.3 665.38 L741.3 661.25 L742.3 658.33 L743.3 656.64 L744.3 661.25 L745.3 666.66 L746.3 669.6 L747.3 669.66 L748.3 668.07 L749.3 668.89 L750.3 667.96 L751.3 670.44 L752.3 671.76 L753.3 673.75 L754.3 675.41 L755.3 676.83 L756.3 679.04 L757.3 681.18 L758.3 680.66 L759.3 682.08 L760.3 682.77 L761.3 683.65 L762.3 687.12 L763.3 691.62 L764.3 695.7 L765.3 698.68 L766.3 702.72 L767.3 706.62 L768.3 707.79 L769.3 709.04 L770.3 709.97 L771.3 711.54 L772.3 713.77 L773.3 717.85 L774.3 722.07 L775.3 726.54 L776.3 719.02 L777.3 712.41 L778.3 703.73 L779.3 696.17 L780.3 691.64 L781.3 687 L782.3 683.55 L783.3 679.83 L784.3 675.25 L785.3 673.73 L786.3 670.15 L787.3 667 L788.3 661.85 L789.3 654.19 L790.3 646.34 L791.3 644.8 L792.3 650.93 L793.3 658.32 L794.3 662.23 L795.3 665.18 L796.3 667.87 L797.3 670.08 L798.3 672.58 L799.3 674.34 L800.3 675.44 L801.3 677.3 L802.3 677.72 L803.3 678.85 L804.3 677.99 L805.3 675.71 L806.3 675.16 L807.3 688.13 L808.3 702.77 L809.3 714.97 L810.3 722.94 L811.3 728.99 L812.3 734.12 L813.3 733.16 L814.3 731.94 L815.3 730.68 L816.3 731.88 L817.3 734.47 L818.3 736.24 L819.3 739.85 L820.3 744.75 L821.3 747.55 L822.3 726.61 L823.3 706.11 L824.3 693.44 L825.3 685.7 L826.3 677.1 L827.3 671.85 L828.3 669.3 L829.3 666.52 L830.3 664.26 L831.3 664.94 L832.3 670.15 L833.3 675.06 L834.3 678.34 L835.3 685.22 L836.3 693.32 L837.3 701.6 L838.3 712.51 L839.3 724.99 L840.3 736.88 L841.3 749.06 L842.3 760.99 L843.3 759.08 L844.3 754.76 L845.3 751.03 L846.3 740.21 L847.3 730.98 L848.3 722.62 L849.3 718.68 L850.3 713.54 L851.3 709.63 L852.3 707.3 L853.3 704.52 L854.3 702.16 L855.3 698.58 L856.3 696.16 L857.3 690.63 L858.3 687.19 L859.3 682.7 L860.3 678.33 L861.3 674.85 L862.3 673.04 L863.3 670.49 L864.3 664.31 L865.3 657.2 L866.3 655.91 L867.3 663.64 L868.3 670.85 L869.3 676.98 L870.3 683.85 L871.3 692.2 L872.3 698.03 L873.3 701.52 L874.3 704.77 L875.3 708.89 L876.3 711.27 L877.3 706.45 L878.3 703.07 L879.3 702.28 L880.3 711.45 L881.3 721.19 L882.3 730.59 L883.3 731.85 L884.3 725.84 L885.3 720.12 L886.3 714.34 L887.3 708.61 L888.3 702.24 L889.3 696.31 L890.3 690.8 L891.3 688.6 L892.3 685.29 L893.3 681.93 L894.3 681.08 L895.3 677.55 L896.3 677.7 L897.3 677.75 L898.3 679.82 L899.3 679.24 L900.3 675.03 L901.3 670.99 L902.3 673.32 L903.3 679.76 L904.3 688.01 L905.3 682.54 L906.3 671.41 L907.3 662.88 L908.3 656.63 L909.3 653.54 L910.3 660.34 L911.3 667.19 L912.3 672.87 L913.3 674.51 L914.3 675.51 L915.3 677.85 L916.3 680.76 L917.3 685.6 L918.3 689.49 L919.3 688.48 L920.3 684.02 L921.3 679.25 L922.3 674.78 L923.3 671.06 L924.3 667.53 L925.3 665.34 L926.3 666.81 L927.3 670.01 L928.3 673 L929.3 676.17 L930.3 684.22 L931.3 690.44 L932.3 697.85 L933.3 693.9 L934.3 687.83 L935.3 681.81 L936.3 671.67 L937.3 661.19 L938.3 664.68 L939.3 672.3 L940.3 679.64 L941.3 685.66 L942.3 692.74 L943.3 690.27 L944.3 681.44 L945.3 673.06 L946.3 668.73 L947.3 667.13 L948.3 664.13 L949.3 664.66 L950.3 665.55 L951.3 665.38 L952.3 663.31 L953.3 658.65 L954.3 654.96" fill="none" stroke="#00afbd" stroke-width="3" stroke-linejoin="round" stroke-linecap="round"/>
<path d="M702.3 662.58 L703.3 658.41 L704.3 653.54 L705.3 663.66 L706.3 674.69 L707.3 663.4 L708.3 654.18 L709.3 645.64 L710.3 641.03 L711.3 646.42 L712.3 654.7 L713.3 664.78 L714.3 671.86 L715.3 678.69 L716.3 669.09 L717.3 661.39 L718.3 663.39 L719.3 667.44 L720.3 668.4 L721.3 664.31 L722.3 663.27 L723.3 668.62 L724.3 674.12 L725.3 683.89 L726.3 695.07 L727.3 702.08 L728.3 708.4 L729.3 711.35 L730.3 697.79 L731.3 684.62 L732.3 682.71 L733.3 681.73 L734.3 692.8 L735.3 701.57 L736.3 700.14 L737.3 697.69 L738.3 687.42 L739.3 675.28 L740.3 663.65 L741.3 656.74 L742.3 653.15 L743.3 653.78 L744.3 659.56 L745.3 664.49 L746.3 666.52 L747.3 666.22 L748.3 667.21 L749.3 666.29 L750.3 664.6 L751.3 668.05 L752.3 669.83 L753.3 667.86 L754.3 672.39 L755.3 673.99 L756.3 676.23 L757.3 678.04 L758.3 678.26 L759.3 678.23 L760.3 680.43 L761.3 682 L762.3 685.29 L763.3 690.01 L764.3 693.62 L765.3 696.48 L766.3 698.9 L767.3 702.65 L768.3 706.02 L769.3 706.46 L770.3 705.93 L771.3 708.32 L772.3 710.97 L773.3 715.75 L774.3 719.18 L775.3 723.48 L776.3 715.05 L777.3 709.45 L778.3 700.36 L779.3 693.13 L780.3 689.26 L781.3 685.38 L782.3 680.62 L783.3 675.48 L784.3 674.64 L785.3 671.93 L786.3 666.12 L787.3 664.46 L788.3 661.12 L789.3 650.8 L790.3 644.28 L791.3 642.25 L792.3 648.68 L793.3 655.48 L794.3 659.77 L795.3 663.9 L796.3 664.01 L797.3 667.18 L798.3 670.15 L799.3 670.27 L800.3 672.69 L801.3 673.98 L802.3 675.5 L803.3 673.83 L804.3 674.19 L805.3 673.12 L806.3 673.56 L807.3 685.8 L808.3 699.47 L809.3 714.02 L810.3 719.38 L811.3 727.35 L812.3 732.1 L813.3 731.29 L814.3 730.29 L815.3 729.36 L816.3 729.06 L817.3 731.93 L818.3 735.96 L819.3 736.77 L820.3 740.77 L821.3 744.26 L822.3 725.08 L823.3 702.48 L824.3 689.41 L825.3 682.64 L826.3 673.5 L827.3 669.7 L828.3 668.41 L829.3 664.48 L830.3 662.07 L831.3 663.36 L832.3 667.01 L833.3 671.93 L834.3 676.02 L835.3 682.38 L836.3 691.62 L837.3 700.29 L838.3 710.03 L839.3 721.28 L840.3 733.25 L841.3 745.28 L842.3 756.57 L843.3 756.78 L844.3 753.46 L845.3 748.1 L846.3 736.32 L847.3 727.85 L848.3 717.74 L849.3 713.41 L850.3 712.09 L851.3 707 L852.3 703.04 L853.3 702.88 L854.3 700.27 L855.3 697.42 L856.3 694.6 L857.3 689.62 L858.3 685.3 L859.3 679.21 L860.3 677.45 L861.3 673.04 L862.3 668.57 L863.3 665.55 L864.3 660.51 L865.3 653.26 L866.3 654 L867.3 661.46 L868.3 667.56 L869.3 674.61 L870.3 683.3 L871.3 689.64 L872.3 696.07 L873.3 696.73 L874.3 703.21 L875.3 707.13 L876.3 708.27 L877.3 704.96 L878.3 699.68 L879.3 700.11 L880.3 709.49 L881.3 718.34 L882.3 728.37 L883.3 728.53 L884.3 723.17 L885.3 718.59 L886.3 711.33 L887.3 704.55 L888.3 700.83 L889.3 693.62 L890.3 688.54 L891.3 685.23 L892.3 681.8 L893.3 680.17 L894.3 675.8 L895.3 673.35 L896.3 675.27 L897.3 674.98 L898.3 678.7 L899.3 677.78 L900.3 673.19 L901.3 669.37 L902.3 671.32 L903.3 678.59 L904.3 684.25 L905.3 680.81 L906.3 669.51 L907.3 659.38 L908.3 653.92 L909.3 650.38 L910.3 657.69 L911.3 665.37 L912.3 667.93 L913.3 669.43 L914.3 673.51 L915.3 675.2 L916.3 677.44 L917.3 683.18 L918.3 687.6 L919.3 684.98 L920.3 678.62 L921.3 676.83 L922.3 673.48 L923.3 670.3 L924.3 666.63 L925.3 662.83 L926.3 665.54 L927.3 667.48 L928.3 668.99 L929.3 675.86 L930.3 682.59 L931.3 688.97 L932.3 693.15 L933.3 689.95 L934.3 683.4 L935.3 679.16 L936.3 668.86 L937.3 659.28 L938.3 663.11 L939.3 670.39 L940.3 678.28 L941.3 683.92 L942.3 689.49 L943.3 688.15 L944.3 678.51 L945.3 668.6 L946.3 666.45 L947.3 663.73 L948.3 659.41 L949.3 661.22 L950.3 662.46 L951.3 664.12 L952.3 659.92 L953.3 656.35 L954.3 651.89 L954.3 657.59 L953.3 663.11 L952.3 665.2 L951.3 667.96 L950.3 667.69 L949.3 665.25 L948.3 667.66 L947.3 668.28 L946.3 671.02 L945.3 674.19 L944.3 683.63 L943.3 692.67 L942.3 696.12 L941.3 690.48 L940.3 680.95 L939.3 672.7 L938.3 667.99 L937.3 664.9 L936.3 675.07 L935.3 684.28 L934.3 689.32 L933.3 697.02 L932.3 698.37 L931.3 692.08 L930.3 684.59 L929.3 678.21 L928.3 673.46 L927.3 671.04 L926.3 669.95 L925.3 667.97 L924.3 669.82 L923.3 674.19 L922.3 678.34 L921.3 681.19 L920.3 685.83 L919.3 689.16 L918.3 694.42 L917.3 687.37 L916.3 683.07 L915.3 679.96 L914.3 678.45 L913.3 676.82 L912.3 677.23 L911.3 671.28 L910.3 663.94 L909.3 655.59 L908.3 658.7 L907.3 663.78 L906.3 673.57 L905.3 683.13 L904.3 689.86 L903.3 682.17 L902.3 675.49 L901.3 672.85 L900.3 676.58 L899.3 681.42 L898.3 685.23 L897.3 681.08 L896.3 679.86 L895.3 678.86 L894.3 681.78 L893.3 683.81 L892.3 687.06 L891.3 690.13 L890.3 692.59 L889.3 697.49 L888.3 703.29 L887.3 709.93 L886.3 716.04 L885.3 720.59 L884.3 726.52 L883.3 732.98 L882.3 732.24 L881.3 721.88 L880.3 713.86 L879.3 705.25 L878.3 705.48 L877.3 708.68 L876.3 713.15 L875.3 710.94 L874.3 706.07 L873.3 702.87 L872.3 701.02 L871.3 693.65 L870.3 687.5 L869.3 678.19 L868.3 671.98 L867.3 665.38 L866.3 657.67 L865.3 659.58 L864.3 667.28 L863.3 671 L862.3 674.96 L861.3 677.97 L860.3 681.02 L859.3 685 L858.3 692.47 L857.3 695.81 L856.3 698.39 L855.3 701.67 L854.3 703.97 L853.3 708.98 L852.3 709.97 L851.3 712.3 L850.3 716.21 L849.3 722.25 L848.3 723.36 L847.3 731.8 L846.3 742.59 L845.3 752.65 L844.3 758.86 L843.3 761.12 L842.3 763.61 L841.3 751.76 L840.3 738.85 L839.3 728.37 L838.3 715.52 L837.3 704.64 L836.3 698.01 L835.3 687.47 L834.3 680.7 L833.3 677.01 L832.3 673.76 L831.3 669.18 L830.3 666.11 L829.3 668.73 L828.3 673.32 L827.3 676.42 L826.3 680.38 L825.3 687.95 L824.3 696.64 L823.3 707.18 L822.3 729.32 L821.3 748.9 L820.3 745.19 L819.3 741.22 L818.3 738.23 L817.3 735.27 L816.3 734.56 L815.3 734.84 L814.3 735.3 L813.3 736.82 L812.3 738.91 L811.3 732.94 L810.3 726.6 L809.3 719.05 L808.3 707.37 L807.3 691.92 L806.3 677.2 L805.3 678.24 L804.3 678.88 L803.3 682.82 L802.3 681.68 L801.3 679.51 L800.3 678.05 L799.3 676.62 L798.3 673.63 L797.3 671.05 L796.3 670.04 L795.3 668.66 L794.3 666.64 L793.3 662.36 L792.3 654.99 L791.3 646.59 L790.3 647.82 L789.3 657.49 L788.3 663.84 L787.3 669.83 L786.3 672.91 L785.3 676.64 L784.3 680.84 L783.3 682.53 L782.3 685.1 L781.3 691.29 L780.3 693.05 L779.3 696.8 L778.3 705.06 L777.3 714.97 L776.3 721.32 L775.3 729.27 L774.3 726.74 L773.3 722.68 L772.3 718.37 L771.3 715.18 L770.3 714.4 L769.3 711.77 L768.3 713.35 L767.3 709.28 L766.3 703.69 L765.3 700.77 L764.3 696.32 L763.3 692.45 L762.3 690.17 L761.3 686.01 L760.3 684.7 L759.3 685.71 L758.3 682.67 L757.3 682.82 L756.3 681.53 L755.3 679.5 L754.3 676.99 L753.3 674.59 L752.3 674.42 L751.3 672.25 L750.3 671.43 L749.3 672.14 L748.3 670.47 L747.3 671.1 L746.3 670.31 L745.3 667.58 L744.3 662.02 L743.3 657.09 L742.3 659.4 L741.3 663.74 L740.3 668.01 L739.3 678.84 L738.3 690.85 L737.3 703.77 L736.3 707.09 L735.3 706.45 L734.3 697.57 L733.3 685.29 L732.3 686.97 L731.3 690.77 L730.3 702.47 L729.3 716.69 L728.3 714.28 L727.3 706.41 L726.3 700.05 L725.3 688.59 L724.3 679.05 L723.3 674.85 L722.3 667.97 L721.3 671.94 L720.3 671.48 L719.3 673.15 L718.3 668.4 L717.3 666.16 L716.3 674.51 L715.3 684.38 L714.3 676.89 L713.3 669.85 L712.3 661.63 L711.3 650.99 L710.3 645.78 L709.3 651.34 L708.3 659.39 L707.3 671.72 L706.3 679.59 L705.3 669.49 L704.3 657.42 L703.3 662.26 L702.3 667.33 Z" fill="#00afbd" stroke="none"/>
<line x1="828" y1="534.3" x2="828" y2="770" stroke="#363636" stroke-width="1.8" stroke-dasharray="6.1 2.8" stroke-dashoffset="3.5"/>
</g>
<line x1="1047.1" y1="754.6" x2="1047.1" y2="781.5" stroke="#9513ee" stroke-width="3.6"/>
<line x1="695" y1="929.7" x2="695" y2="1187.6" stroke="#000" stroke-width="2.2"/>
<line x1="962.4" y1="951.2" x2="962.4" y2="1187.6" stroke="#000" stroke-width="2.2"/>
<line x1="693.9" y1="1186.5" x2="963.5" y2="1186.5" stroke="#000" stroke-width="2.2"/>
<line x1="681.5" y1="929.7" x2="695" y2="929.7" stroke="#1a1a1a" stroke-width="1.9"/>
<line x1="681.5" y1="992.6" x2="695" y2="992.6" stroke="#1a1a1a" stroke-width="1.9"/>
<line x1="681.5" y1="1056.5" x2="695" y2="1056.5" stroke="#1a1a1a" stroke-width="1.9"/>
<line x1="681.5" y1="1119.4" x2="695" y2="1119.4" stroke="#1a1a1a" stroke-width="1.9"/>
<line x1="962.4" y1="951.2" x2="974.4" y2="951.2" stroke="#1a1a1a" stroke-width="1.9"/>
<line x1="962.4" y1="1067.4" x2="974.4" y2="1067.4" stroke="#1a1a1a" stroke-width="1.9"/>
<line x1="962.4" y1="1183.6" x2="974.4" y2="1183.6" stroke="#1a1a1a" stroke-width="1.9"/>
<line x1="709" y1="1186.5" x2="709" y2="1199.5" stroke="#000" stroke-width="2"/>
<line x1="827.8" y1="1186.5" x2="827.8" y2="1199.5" stroke="#000" stroke-width="2"/>
<line x1="946.8" y1="1186.5" x2="946.8" y2="1199.5" stroke="#000" stroke-width="2"/>
<clipPath id="cp6"><rect x="696" y="900" width="265.4" height="285.4"/></clipPath><g clip-path="url(#cp6)">
<path d="M702 1100.3 C703.38 1101.07 707.98 1104.43 710.3 1104.9 C712.62 1105.37 713.73 1105.57 715.9 1103.1 C718.07 1100.63 720.98 1093.48 723.3 1090.1 C725.62 1086.72 727.8 1084.33 729.8 1082.8 C731.8 1081.27 733.62 1080.3 735.3 1080.9 C736.98 1081.5 738.2 1083.93 739.9 1086.4 C741.6 1088.87 743.95 1093.38 745.5 1095.7 C747.05 1098.02 747.05 1099.83 749.2 1100.3 C751.35 1100.77 755.93 1099.88 758.4 1098.5 C760.87 1097.12 762.15 1095.23 764 1092 C765.85 1088.77 767.35 1084.03 769.5 1079.1 C771.65 1074.17 774.73 1063.33 776.9 1062.4 C779.07 1061.47 780.65 1069.18 782.5 1073.5 C784.35 1077.82 786.15 1085.07 788 1088.3 C789.85 1091.53 791.43 1093.82 793.6 1092.9 C795.77 1091.98 798.85 1087.57 801 1082.8 C803.15 1078.03 804.65 1071.08 806.5 1064.3 C808.35 1057.52 810.25 1048.88 812.1 1042.1 C813.95 1035.32 816.22 1031 817.6 1023.6 C818.98 1016.2 819.53 1005.1 820.4 997.7 C821.27 990.3 821.95 979.2 822.8 979.2 C823.65 979.2 824.58 991.23 825.5 997.7 C826.42 1004.17 827.3 1013.07 828.3 1018 C829.3 1022.93 830.42 1030.38 831.5 1027.3 C832.58 1024.22 833.78 1007.52 834.8 999.5 C835.82 991.48 836.68 979.2 837.6 979.2 C838.52 979.2 839.38 991.48 840.3 999.5 C841.22 1007.52 841.55 1018.97 843.1 1027.3 C844.65 1035.63 847.6 1041.18 849.6 1049.5 C851.6 1057.82 853.25 1070.73 855.1 1077.2 C856.95 1083.67 858.85 1085.68 860.7 1088.3 C862.55 1090.92 864.05 1093.82 866.2 1092.9 C868.35 1091.98 871.58 1086.65 873.6 1082.8 C875.62 1078.95 876.75 1073.35 878.3 1069.8 C879.85 1066.25 880.9 1060.88 882.9 1061.5 C884.9 1062.12 887.83 1068.42 890.3 1073.5 C892.77 1078.58 895.55 1087.83 897.7 1092 C899.85 1096.17 901.05 1097.12 903.2 1098.5 C905.35 1099.88 908.43 1101.7 910.6 1100.3 C912.77 1098.9 914.03 1093.33 916.2 1090.1 C918.37 1086.87 921.13 1081.82 923.6 1080.9 C926.07 1079.98 928.85 1082.13 931 1084.6 C933.15 1087.07 934.35 1092.47 936.5 1095.7 C938.65 1098.93 941.73 1102.47 943.9 1104 C946.07 1105.53 947.65 1104.9 949.5 1104.9 C951.35 1104.9 954.08 1104.15 955 1104" fill="none" stroke="#9513ee" stroke-width="2.4" stroke-linejoin="round" stroke-linecap="round"/>
<path d="M702 1087.77 L703 1085.62 L704 1083.11 L705 1082.05 L706 1082.49 L707 1087.35 L708 1084.26 L709 1083.5 L710 1079.32 L711 1094.65 L712 1094.83 L713 1091.18 L714 1091.55 L715 1087.17 L716 1083.08 L717 1080.88 L718 1081.89 L719 1083.56 L720 1079.45 L721 1079.83 L722 1084.93 L723 1081.19 L724 1088.59 L725 1087.36 L726 1078.7 L727 1079.08 L728 1083.45 L729 1076.9 L730 1078.66 L731 1079.75 L732 1077.91 L733 1077.36 L734 1084.76 L735 1084.89 L736 1091.52 L737 1090.36 L738 1090.26 L739 1090.03 L740 1082.97 L741 1090.93 L742 1100.87 L743 1101.24 L744 1101.1 L745 1101.75 L746 1094.31 L747 1097.27 L748 1091.44 L749 1098.23 L750 1093.17 L751 1094.67 L752 1091.67 L753 1091.51 L754 1092.68 L755 1095.58 L756 1092.54 L757 1083.74 L758 1079.19 L759 1073.83 L760 1062.84 L761 1052.29 L762 1053.43 L763 1046.91 L764 1049.66 L765 1049.57 L766 1043.26 L767 1042.05 L768 1049.78 L769 1050.69 L770 1050.09 L771 1046.72 L772 1050.58 L773 1042.37 L774 1050.53 L775 1049.52 L776 1044.41 L777 1045.69 L778 1037.96 L779 1047.7 L780 1046.12 L781 1046.49 L782 1045.87 L783 1046.73 L784 1054.49 L785 1062.61 L786 1063.21 L787 1068.02 L788 1069.66 L789 1071.14 L790 1073.66 L791 1077.8 L792 1087.36 L793 1078.3 L794 1088.12 L795 1091.03 L796 1090.83 L797 1084.8 L798 1084.87 L799 1074.09 L800 1073.18 L801 1059.15 L802 1040.48 L803 1023.38 L804 1011.27 L805 1004.89 L806 1004.25 L807 997.51 L808 993.38 L809 992.17 L810 990.86 L811 978.51 L812 965.36 L813 964.01 L814 962.04 L815 967.21 L816 968.47 L817 963.24 L818 966.39 L819 963.79 L820 960.38 L821 959.37 L822 968.02 L823 984.45 L824 979.55 L825 1007.05 L826 990.27 L827 999.52 L828 995.18 L829 1001 L830 998.73 L831 991.77 L832 999.2 L833 1010.63 L834 1029.93 L835 1033.51 L836 1029.85 L837 988.02 L838 986.69 L839 979.43 L840 962.57 L841 932.52 L842 941.29 L843 953.71 L844 946.35 L845 950.22 L846 948.28 L847 951.89 L848 944.35 L849 938.94 L850 944.26 L851 965.65 L852 975.25 L853 988.47 L854 995.25 L855 996.65 L856 1007.84 L857 1006.55 L858 1017.85 L859 1027.88 L860 1032.18 L861 1035.96 L862 1046.6 L863 1054.77 L864 1059.47 L865 1064.98 L866 1074.64 L867 1080.23 L868 1080.94 L869 1077.49 L870 1078.55 L871 1076.34 L872 1072.45 L873 1068.59 L874 1062.14 L875 1059.19 L876 1051.7 L877 1051.67 L878 1043.04 L879 1042.73 L880 1040.58 L881 1041.58 L882 1040.87 L883 1039.85 L884 1041.49 L885 1042.78 L886 1041.64 L887 1048.69 L888 1038.39 L889 1039.64 L890 1044.98 L891 1032.19 L892 1046.92 L893 1045.89 L894 1046.27 L895 1041.69 L896 1052.46 L897 1057.28 L898 1059.44 L899 1062.82 L900 1071.95 L901 1073.82 L902 1081.3 L903 1076.84 L904 1072.41 L905 1078.94 L906 1073.13 L907 1078.52 L908 1081.12 L909 1081.21 L910 1086.32 L911 1090.18 L912 1093.01 L913 1094.58 L914 1093.52 L915 1093.86 L916 1088.72 L917 1088.35 L918 1081.33 L919 1081.34 L920 1082.44 L921 1089.69 L922 1082.6 L923 1073.16 L924 1076.47 L925 1076.37 L926 1075.35 L927 1071.4 L928 1072.06 L929 1072.91 L930 1074.41 L931 1072.49 L932 1073.11 L933 1073.48 L934 1073.15 L935 1062.02 L936 1073.01 L937 1072.99 L938 1073.25 L939 1075.05 L940 1068.84 L941 1078.08 L942 1087.56 L943 1082.79 L944 1088.27 L945 1087.04 L946 1077.39 L947 1080.31 L948 1087.79 L949 1085.43 L950 1083.89 L951 1084.77 L952 1077.72 L953 1081.15 L954 1082.12 L955 1087.87 L955 1118.13 L954 1114.36 L953 1117.11 L952 1116.15 L951 1111.55 L950 1113.83 L949 1104.79 L948 1099.19 L947 1107.04 L946 1100.5 L945 1108.62 L944 1116.16 L943 1104.54 L942 1110.79 L941 1107.49 L940 1114.22 L939 1106.58 L938 1107.6 L937 1102.81 L936 1094.01 L935 1094.01 L934 1094.01 L933 1099.63 L932 1098.01 L931 1101.63 L930 1095.61 L929 1097.02 L928 1094.84 L927 1100.75 L926 1105.23 L925 1107.46 L924 1113.78 L923 1113.64 L922 1104.9 L921 1111.51 L920 1111.66 L919 1111.51 L918 1110.76 L917 1113.5 L916 1116.62 L915 1115.49 L914 1116.35 L913 1117.52 L912 1125.68 L911 1124.86 L910 1119.5 L909 1120.56 L908 1113.86 L907 1105.81 L906 1101.04 L905 1100.94 L904 1109.4 L903 1108.93 L902 1115.82 L901 1110.34 L900 1109.35 L899 1108.97 L898 1103.88 L897 1105.29 L896 1098.99 L895 1095.09 L894 1087.77 L893 1076.69 L892 1078.17 L891 1066.67 L890 1070.07 L889 1063.4 L888 1064.15 L887 1061.79 L886 1068.31 L885 1067.32 L884 1068.77 L883 1064.51 L882 1073.01 L881 1073.66 L880 1080.83 L879 1084.94 L878 1091.64 L877 1091.72 L876 1089.31 L875 1092.01 L874 1098.67 L873 1100.24 L872 1101.89 L871 1107.22 L870 1107.5 L869 1111.33 L868 1113.28 L867 1114.52 L866 1111.29 L865 1115.86 L864 1115.5 L863 1112.88 L862 1112.08 L861 1100.37 L860 1095.11 L859 1080.61 L858 1074.19 L857 1067.16 L856 1063.35 L855 1059.8 L854 1048.59 L853 1041.93 L852 1035.35 L851 1036.41 L850 1027.47 L849 1025.91 L848 1015.44 L847 1007.28 L846 1010.22 L845 1000.6 L844 1017.43 L843 1034.03 L842 1060.59 L841 1059.17 L840 1069.36 L839 1074.77 L838 1079.22 L837 1087 L836 1091.41 L835 1087.04 L834 1100.51 L833 1100.63 L832 1104.18 L831 1104.42 L830 1087.29 L829 1078.21 L828 1075.64 L827 1084.14 L826 1093.51 L825 1080.99 L824 1088.73 L823 1093.29 L822 1091.3 L821 1086.65 L820 1064.22 L819 1054.87 L818 1027.53 L817 1016.11 L816 1002.75 L815 1003.2 L814 1012.11 L813 1015.1 L812 1028.76 L811 1019.23 L810 1027.66 L809 1037.29 L808 1055.06 L807 1074.39 L806 1093.74 L805 1092.01 L804 1097.63 L803 1098.64 L802 1103.08 L801 1109.38 L800 1114.13 L799 1121.78 L798 1120.29 L797 1118.97 L796 1126.92 L795 1125.55 L794 1121.16 L793 1119.43 L792 1122.81 L791 1121.65 L790 1124.82 L789 1115.84 L788 1106.51 L787 1102.72 L786 1097.69 L785 1094.65 L784 1094.4 L783 1090.85 L782 1089.84 L781 1088.16 L780 1079.94 L779 1076.19 L778 1071.89 L777 1072.86 L776 1072.34 L775 1072.48 L774 1077.15 L773 1073.89 L772 1074.23 L771 1079.7 L770 1065.63 L769 1071.12 L768 1063.32 L767 1070.71 L766 1073.47 L765 1083.91 L764 1089.01 L763 1096.69 L762 1113.54 L761 1111.69 L760 1112.36 L759 1105.99 L758 1112.57 L757 1109.6 L756 1115.05 L755 1112.75 L754 1110.97 L753 1118.07 L752 1112.39 L751 1112.93 L750 1115.65 L749 1119.74 L748 1114.7 L747 1114.96 L746 1119.22 L745 1114.7 L744 1116.03 L743 1115.78 L742 1115.2 L741 1118.63 L740 1115.42 L739 1118.74 L738 1114.38 L737 1112.37 L736 1116.9 L735 1109.46 L734 1108.49 L733 1102.96 L732 1102.84 L731 1105.21 L730 1098.77 L729 1101.08 L728 1105.37 L727 1107.6 L726 1106.93 L725 1112.51 L724 1111.35 L723 1109.36 L722 1109.7 L721 1116.77 L720 1112.18 L719 1107.51 L718 1113 L717 1117.9 L716 1113.88 L715 1112.02 L714 1116.74 L713 1121.64 L712 1119.2 L711 1121.47 L710 1123.12 L709 1114.9 L708 1118.16 L707 1115.18 L706 1118.39 L705 1110.2 L704 1105.94 L703 1111.16 L702 1107.1 Z" fill="#fe6060" fill-opacity="0.3" stroke="none"/>
<line x1="828" y1="911.8" x2="828" y2="1186" stroke="#6a6a6a" stroke-width="1.7" stroke-dasharray="6.2 2.7" stroke-dashoffset="0"/>
<path d="M702 1094.58 L703 1094.25 L704 1095.89 L705 1096.59 L706 1097.25 L707 1099.27 L708 1102.52 L709 1107.63 L710 1111.78 L711 1111.25 L712 1109.12 L713 1107.39 L714 1106.08 L715 1105.66 L716 1101.39 L717 1098.11 L718 1095.29 L719 1091.29 L720 1091.97 L721 1095.47 L722 1098.22 L723 1101.29 L724 1101.86 L725 1099.02 L726 1096.26 L727 1092.68 L728 1091.18 L729 1088.85 L730 1089.52 L731 1092.68 L732 1093.87 L733 1094.69 L734 1097.47 L735 1098.87 L736 1100.95 L737 1101.99 L738 1104.31 L739 1107.25 L740 1107.92 L741 1109.21 L742 1110.01 L743 1111.83 L744 1112.12 L745 1114.16 L746 1113.45 L747 1112.63 L748 1111.5 L749 1110.25 L750 1107.65 L751 1106.58 L752 1105.27 L753 1102.53 L754 1101.5 L755 1099.58 L756 1101.54 L757 1102.43 L758 1104.66 L759 1100.06 L760 1092.8 L761 1085.79 L762 1078.47 L763 1070.79 L764 1064.35 L765 1057.93 L766 1053.71 L767 1053.95 L768 1054.41 L769 1054.94 L770 1054.42 L771 1056.79 L772 1059.01 L773 1062.56 L774 1065.96 L775 1062.62 L776 1060.03 L777 1055.66 L778 1052.58 L779 1054.23 L780 1057.88 L781 1062.98 L782 1066.94 L783 1070.77 L784 1075.25 L785 1079.98 L786 1083.88 L787 1087.28 L788 1091.19 L789 1094.5 L790 1098.31 L791 1102.03 L792 1105.28 L793 1108.8 L794 1111.84 L795 1111.96 L796 1108.09 L797 1104.5 L798 1101.32 L799 1097.53 L800 1094.9 L801 1092.33 L802 1088.43 L803 1083.64 L804 1066.57 L805 1048.57 L806 1032.23 L807 1019.86 L808 1013.13 L809 1006.87 L810 1000.33 L811 997.14 L812 995.21 L813 994.49 L814 988.58 L815 982.58 L816 975.32 L817 973.81 L818 984.4 L819 992.87 L820 1003.62 L821 1016.52 L822 1028.58 L823 1048.62 L824 1070.7 L825 1060.99 L826 1048.73 L827 1036.22 L828 1025.59 L829 1018.81 L830 1031.84 L831 1043.98 L832 1056.88 L833 1069.53 L834 1079.84 L835 1072.78 L836 1066.44 L837 1060.24 L838 1052.33 L839 1040.63 L840 1023.21 L841 1004.97 L842 990.15 L843 978.09 L844 964.85 L845 967.84 L846 969.37 L847 973.27 L848 980.7 L849 988.81 L850 995.95 L851 1002.58 L852 1008.52 L853 1015.13 L854 1020.27 L855 1026.71 L856 1033.78 L857 1040.89 L858 1047.6 L859 1055.53 L860 1061.37 L861 1068.27 L862 1075 L863 1083.54 L864 1091.5 L865 1101 L866 1108.69 L867 1106.35 L868 1101.89 L869 1097.09 L870 1092.68 L871 1090.66 L872 1089.38 L873 1088.83 L874 1086.99 L875 1083.68 L876 1078.51 L877 1072.63 L878 1066.94 L879 1062.16 L880 1057.55 L881 1054.48 L882 1050.45 L883 1047.3 L884 1051.59 L885 1054.8 L886 1057.9 L887 1060.97 L888 1060.27 L889 1057.58 L890 1054.89 L891 1051.59 L892 1048.07 L893 1053.67 L894 1059.45 L895 1065.78 L896 1073.43 L897 1078 L898 1084.27 L899 1090.4 L900 1096.77 L901 1098.11 L902 1095.16 L903 1092.04 L904 1087.77 L905 1084.52 L906 1086.17 L907 1088.91 L908 1090.96 L909 1094.75 L910 1097.8 L911 1104.27 L912 1110.19 L913 1112.85 L914 1107.76 L915 1104.58 L916 1099.65 L917 1095.74 L918 1096.62 L919 1098.93 L920 1100.21 L921 1102.34 L922 1104.24 L923 1102.62 L924 1097.86 L925 1093.87 L926 1089.08 L927 1084.54 L928 1079.81 L929 1081.12 L930 1084.25 L931 1088.41 L932 1091.46 L933 1093.31 L934 1089.25 L935 1085.08 L936 1080.6 L937 1082.37 L938 1086.98 L939 1092.08 L940 1096.98 L941 1102.38 L942 1101.74 L943 1098.46 L944 1096.74 L945 1093.29 L946 1092.29 L947 1092.44 L948 1093.05 L949 1093.84 L950 1094.66 L951 1095.73 L952 1098.35 L953 1103.08 L954 1105.95 L955 1111.07" fill="none" stroke="#fe6060" stroke-width="2.9" stroke-linejoin="round" stroke-linecap="round"/>
<path d="M702 1092.8 L703 1092.2 L704 1094.2 L705 1092.33 L706 1094.26 L707 1097.03 L708 1101.27 L709 1106.1 L710 1109.15 L711 1110.2 L712 1107.83 L713 1107.05 L714 1105.47 L715 1102.49 L716 1098.27 L717 1096.54 L718 1093.24 L719 1089.63 L720 1090.51 L721 1092.28 L722 1096.32 L723 1099.04 L724 1098.8 L725 1093.81 L726 1093.52 L727 1090.13 L728 1088.64 L729 1085.65 L730 1088.15 L731 1089.6 L732 1089.81 L733 1091.84 L734 1093.91 L735 1096.87 L736 1097.1 L737 1100.16 L738 1101.53 L739 1104.24 L740 1104.81 L741 1106.58 L742 1108.08 L743 1110.04 L744 1109.15 L745 1110.81 L746 1111.68 L747 1109.41 L748 1107.49 L749 1106.93 L750 1106.99 L751 1105.16 L752 1101.9 L753 1100.83 L754 1097.97 L755 1098.37 L756 1099.51 L757 1100.83 L758 1102.09 L759 1099.06 L760 1090.12 L761 1081.9 L762 1075.31 L763 1068.6 L764 1061.64 L765 1055.68 L766 1050.76 L767 1051.82 L768 1050.69 L769 1048.78 L770 1052.41 L771 1055.8 L772 1058.8 L773 1061.8 L774 1063.64 L775 1062 L776 1058.05 L777 1053.39 L778 1050.16 L779 1052.78 L780 1056.79 L781 1060.28 L782 1065.08 L783 1070.49 L784 1072.86 L785 1075.89 L786 1078.83 L787 1085.14 L788 1088.18 L789 1090.02 L790 1095 L791 1099.52 L792 1102.38 L793 1104.68 L794 1108.61 L795 1109.23 L796 1106.48 L797 1102.31 L798 1099.34 L799 1096.69 L800 1093.41 L801 1089.37 L802 1086.7 L803 1080.41 L804 1063.69 L805 1045.86 L806 1030.44 L807 1018.25 L808 1012.83 L809 1005.6 L810 999.42 L811 995.79 L812 993.47 L813 990.14 L814 985.46 L815 979.39 L816 973.96 L817 972.05 L818 981.6 L819 990.25 L820 1000.12 L821 1012.65 L822 1025.07 L823 1045.75 L824 1068.3 L825 1060.13 L826 1045.23 L827 1034.46 L828 1025.32 L829 1017.81 L830 1027.86 L831 1040.89 L832 1054.65 L833 1066.92 L834 1077.13 L835 1070.93 L836 1063.63 L837 1057.47 L838 1049.62 L839 1039.57 L840 1020.68 L841 1001.37 L842 987.46 L843 974.81 L844 962.73 L845 965.97 L846 968.69 L847 971.8 L848 976.92 L849 986.41 L850 991.88 L851 1000.6 L852 1006.73 L853 1010.84 L854 1017.13 L855 1022.54 L856 1033.21 L857 1039.65 L858 1045.49 L859 1053.14 L860 1058.52 L861 1065.52 L862 1072.5 L863 1080.7 L864 1087.18 L865 1097.34 L866 1107.18 L867 1104 L868 1098.97 L869 1094.39 L870 1089.26 L871 1088.95 L872 1086.96 L873 1085.74 L874 1083.85 L875 1081.72 L876 1075.55 L877 1070.13 L878 1066.33 L879 1060.38 L880 1056.79 L881 1053.28 L882 1048.28 L883 1046.56 L884 1050.02 L885 1053.36 L886 1056.57 L887 1059.6 L888 1057.53 L889 1056.57 L890 1052.13 L891 1049.39 L892 1046.45 L893 1051.65 L894 1056.98 L895 1064.94 L896 1071.32 L897 1077.45 L898 1082.7 L899 1089.45 L900 1093.9 L901 1095.57 L902 1091.09 L903 1087.32 L904 1085.38 L905 1082.65 L906 1082.69 L907 1085.2 L908 1089.63 L909 1092.35 L910 1094.75 L911 1102.02 L912 1108.78 L913 1108.07 L914 1105.68 L915 1100.82 L916 1098.41 L917 1093.65 L918 1094.19 L919 1093.76 L920 1096.49 L921 1100.24 L922 1101.3 L923 1100.55 L924 1093.88 L925 1091.24 L926 1087.29 L927 1082.01 L928 1075.61 L929 1078.89 L930 1082.46 L931 1084.51 L932 1088.56 L933 1090.43 L934 1087.1 L935 1083.5 L936 1079.19 L937 1079.06 L938 1084.02 L939 1089.93 L940 1095.32 L941 1101.05 L942 1099.94 L943 1095.46 L944 1092.14 L945 1089.48 L946 1087.45 L947 1090.37 L948 1090.94 L949 1091.9 L950 1092.78 L951 1093.67 L952 1097.5 L953 1100.56 L954 1104.35 L955 1109.5 L955 1114.41 L954 1108.56 L953 1105.56 L952 1100.04 L951 1097.6 L950 1097.64 L949 1096.98 L948 1097.39 L947 1095.13 L946 1094.41 L945 1095.47 L944 1098.48 L943 1101.27 L942 1104.83 L941 1104.77 L940 1099.3 L939 1095.77 L938 1088.39 L937 1083.69 L936 1084.67 L935 1088.16 L934 1091.27 L933 1096.6 L932 1095.18 L931 1093.28 L930 1088.7 L929 1083.82 L928 1082.57 L927 1085.76 L926 1090.91 L925 1096.66 L924 1102.02 L923 1104.88 L922 1107.15 L921 1106.21 L920 1103.5 L919 1103.09 L918 1100.35 L917 1098.8 L916 1103.33 L915 1107.3 L914 1110.59 L913 1113.45 L912 1113.91 L911 1107.11 L910 1098.84 L909 1096.2 L908 1093.92 L907 1092.75 L906 1089.43 L905 1087.54 L904 1092.59 L903 1094.17 L902 1097.52 L901 1101.33 L900 1098.42 L899 1091.84 L898 1085.88 L897 1079.93 L896 1075.73 L895 1069.87 L894 1063 L893 1056.34 L892 1049.9 L891 1052.52 L890 1057.42 L889 1061.67 L888 1064.42 L887 1063.74 L886 1060.45 L885 1058.94 L884 1055.21 L883 1049.58 L882 1053.09 L881 1058.45 L880 1060.4 L879 1064.61 L878 1069.05 L877 1076.52 L876 1081.3 L875 1085.47 L874 1088.11 L873 1089.31 L872 1092.84 L871 1092.87 L870 1093.59 L869 1097.5 L868 1102.5 L867 1107.5 L866 1110.05 L865 1102.84 L864 1094.46 L863 1085.74 L862 1076.07 L861 1069.47 L860 1062.97 L859 1056.71 L858 1050.02 L857 1044.33 L856 1036.78 L855 1030.66 L854 1022.93 L853 1019.1 L852 1011.41 L851 1005.19 L850 997.65 L849 991.36 L848 984.35 L847 976.27 L846 973.97 L845 970.69 L844 968.1 L843 981.02 L842 992.89 L841 1007.83 L840 1026.4 L839 1042.25 L838 1054.9 L837 1062.14 L836 1068.18 L835 1076.63 L834 1081.75 L833 1072.61 L832 1060.3 L831 1047.17 L830 1034.04 L829 1021.57 L828 1028.08 L827 1037.42 L826 1051.71 L825 1065.51 L824 1073.75 L823 1050.71 L822 1030.33 L821 1018.04 L820 1005.27 L819 994.47 L818 985.81 L817 975.57 L816 977 L815 984.15 L814 989.43 L813 996.94 L812 998.86 L811 999.46 L810 1003.19 L809 1011.55 L808 1017.3 L807 1022 L806 1035.35 L805 1052.01 L804 1068.79 L803 1085.36 L802 1094.43 L801 1092.8 L800 1096.22 L799 1099.96 L798 1105.2 L797 1108.55 L796 1111.67 L795 1115.14 L794 1116.5 L793 1111.73 L792 1107.73 L791 1104.36 L790 1101.02 L789 1098.68 L788 1092.86 L787 1088.89 L786 1086.87 L785 1083.86 L784 1078.91 L783 1075.05 L782 1070.74 L781 1065.63 L780 1062.09 L779 1056.54 L778 1054.23 L777 1057.37 L776 1061.54 L775 1066.29 L774 1070.22 L773 1066.99 L772 1062.24 L771 1059.24 L770 1057.73 L769 1056.62 L768 1056.04 L767 1056.33 L766 1055.32 L765 1061.69 L764 1067.24 L763 1073.6 L762 1079.52 L761 1086.74 L760 1094.95 L759 1103.07 L758 1108.62 L757 1107.47 L756 1104.93 L755 1102.21 L754 1102.69 L753 1104.1 L752 1106.9 L751 1109.33 L750 1110.37 L749 1111.34 L748 1113.18 L747 1115.68 L746 1116.7 L745 1116.12 L744 1115.36 L743 1113.63 L742 1112.14 L741 1111.59 L740 1111.38 L739 1111.64 L738 1108.47 L737 1105.79 L736 1103.25 L735 1101.41 L734 1098.68 L733 1097.11 L732 1095.87 L731 1093.52 L730 1093.82 L729 1090.78 L728 1092.23 L727 1095.06 L726 1097.63 L725 1100.21 L724 1103.46 L723 1103.9 L722 1100.71 L721 1097.05 L720 1095.59 L719 1094.82 L718 1097.91 L717 1102.19 L716 1103.13 L715 1107.47 L714 1109.25 L713 1111.15 L712 1112.77 L711 1112.2 L710 1113.92 L709 1108.1 L708 1105.25 L707 1100.1 L706 1098.49 L705 1097.57 L704 1096.41 L703 1095.88 L702 1095.48 Z" fill="#fe6060" stroke="none"/>
</g>
<line x1="1047.2" y1="1182" x2="1047.2" y2="1210.2" stroke="#9513ee" stroke-width="3.6"/>
<text x="0.32" y="27" font-size="32" font-weight="bold" stroke="#000" stroke-width="1.1" fill="#000" textLength="18.21" lengthAdjust="spacingAndGlyphs">a</text>
<text x="119.3" y="33.7" font-size="24.4" fill="#000" textLength="138.45" lengthAdjust="spacingAndGlyphs">Accessibility</text>
<text x="119.3" y="68.7" font-size="24.4" fill="#000" textLength="145.38" lengthAdjust="spacingAndGlyphs">All mutations</text>
<text x="85.63" y="102.9" font-size="25.2" fill="#000" textLength="35.03" lengthAdjust="spacingAndGlyphs">0.4</text>
<text x="85.88" y="180.5" font-size="25.2" fill="#000" textLength="35.03" lengthAdjust="spacingAndGlyphs">0.3</text>
<text x="86.13" y="254" font-size="25.2" fill="#000" textLength="35.03" lengthAdjust="spacingAndGlyphs">0.2</text>
<text x="86.13" y="331.5" font-size="25.2" fill="#000" textLength="35.03" lengthAdjust="spacingAndGlyphs">0.1</text>
<text x="429.12" y="102.7" font-size="24.6" fill="#000" textLength="27.36" lengthAdjust="spacingAndGlyphs">32</text>
<text x="428.87" y="178.9" font-size="24.6" fill="#000" textLength="27.36" lengthAdjust="spacingAndGlyphs">28</text>
<text x="428.87" y="254" font-size="24.6" fill="#000" textLength="27.36" lengthAdjust="spacingAndGlyphs">24</text>
<text x="428.87" y="329.9" font-size="24.6" fill="#000" textLength="27.36" lengthAdjust="spacingAndGlyphs">20</text>
<text x="127.35" y="370.6" font-size="25.5" fill="#000" textLength="49.25" lengthAdjust="spacingAndGlyphs">−0.5</text>
<text x="267.66" y="370.6" font-size="25.5" fill="#000" textLength="14.18" lengthAdjust="spacingAndGlyphs">0</text>
<text x="372.46" y="370.6" font-size="25.5" fill="#000" textLength="36.19" lengthAdjust="spacingAndGlyphs">0.5</text>
<text x="201.47" y="402.3" font-size="24.4" fill="#000" textLength="156.67" lengthAdjust="spacingAndGlyphs">Distance from</text>
<text x="165.94" y="431.8" font-size="24.4" fill="#000" textLength="247.83" lengthAdjust="spacingAndGlyphs">nucleosome dyad (kb)</text>
<text transform="translate(30.1,0) rotate(-90)" x="-303.61" y="0" font-size="24.4" fill="#000" textLength="196.52" lengthAdjust="spacingAndGlyphs">Excess mutations</text>
<text transform="translate(60,0) rotate(-90)" x="-239" y="0" font-size="24.4" fill="#000" textLength="42.95" lengthAdjust="spacingAndGlyphs">(Mb</text>
<text transform="translate(50.7,0) rotate(-90)" x="-196.66" y="0" font-size="17.5" fill="#000" textLength="17.32" lengthAdjust="spacingAndGlyphs">−1</text>
<text transform="translate(60,0) rotate(-90)" x="-178.19" y="0" font-size="24.4" fill="#000" textLength="6.4" lengthAdjust="spacingAndGlyphs">)</text>
<text transform="translate(495.6,0) rotate(-90)" x="-326.4" y="0" font-size="24.4" fill="#000" textLength="233.43" lengthAdjust="spacingAndGlyphs">Accessibility (tags kb</text>
<text transform="translate(487.9,0) rotate(-90)" x="-93.44" y="0" font-size="17.5" fill="#000" textLength="16.88" lengthAdjust="spacingAndGlyphs">−1</text>
<text transform="translate(495.6,0) rotate(-90)" x="-74.1" y="0" font-size="24.4" fill="#000" textLength="6.79" lengthAdjust="spacingAndGlyphs">)</text>
<text x="-0.26" y="470.4" font-size="30.7" font-weight="bold" stroke="#000" stroke-width="1.1" fill="#000" textLength="21.87" lengthAdjust="spacingAndGlyphs">b</text>
<text x="117.95" y="498.9" font-size="24.4" fill="#000" textLength="169.15" lengthAdjust="spacingAndGlyphs">Multiallelic rate</text>
<text x="69.86" y="588.9" font-size="24.6" fill="#000" textLength="47.88" lengthAdjust="spacingAndGlyphs">0.01</text>
<text x="107.01" y="718.5" font-size="24.6" fill="#000" textLength="13.68" lengthAdjust="spacingAndGlyphs">0</text>
<text x="429.12" y="512.4" font-size="24.6" fill="#000" textLength="27.36" lengthAdjust="spacingAndGlyphs">32</text>
<text x="428.87" y="588.2" font-size="24.6" fill="#000" textLength="27.36" lengthAdjust="spacingAndGlyphs">28</text>
<text x="428.87" y="664" font-size="24.6" fill="#000" textLength="27.36" lengthAdjust="spacingAndGlyphs">24</text>
<text x="428.87" y="739.3" font-size="24.6" fill="#000" textLength="27.36" lengthAdjust="spacingAndGlyphs">20</text>
<text x="127.35" y="810.3" font-size="25.5" fill="#000" textLength="49.25" lengthAdjust="spacingAndGlyphs">−0.5</text>
<text x="267.66" y="810.3" font-size="25.5" fill="#000" textLength="14.18" lengthAdjust="spacingAndGlyphs">0</text>
<text x="372.46" y="810.3" font-size="25.5" fill="#000" textLength="36.19" lengthAdjust="spacingAndGlyphs">0.5</text>
<text x="201.47" y="838" font-size="24.4" fill="#000" textLength="156.67" lengthAdjust="spacingAndGlyphs">Distance from</text>
<text x="165.94" y="867.5" font-size="24.4" fill="#000" textLength="247.83" lengthAdjust="spacingAndGlyphs">nucleosome dyad (kb)</text>
<text transform="translate(30.2,0) rotate(-90)" x="-737.36" y="0" font-size="24.4" fill="#000" textLength="224.24" lengthAdjust="spacingAndGlyphs">Multiallelic mutation</text>
<text transform="translate(60.3,0) rotate(-90)" x="-729.18" y="0" font-size="24.4" fill="#000" textLength="199.82" lengthAdjust="spacingAndGlyphs">relative difference</text>
<text transform="translate(495.3,0) rotate(-90)" x="-741.2" y="0" font-size="24.4" fill="#000" textLength="233.43" lengthAdjust="spacingAndGlyphs">Accessibility (tags kb</text>
<text transform="translate(487.6,0) rotate(-90)" x="-508.24" y="0" font-size="17.5" fill="#000" textLength="16.88" lengthAdjust="spacingAndGlyphs">−1</text>
<text transform="translate(495.3,0) rotate(-90)" x="-488.9" y="0" font-size="24.4" fill="#000" textLength="6.79" lengthAdjust="spacingAndGlyphs">)</text>
<text x="0.23" y="897.8" font-size="31.8" font-weight="bold" stroke="#000" stroke-width="1.1" fill="#000" textLength="19.75" lengthAdjust="spacingAndGlyphs">c</text>
<text x="119" y="916.4" font-size="24.4" fill="#000" textLength="16.67" lengthAdjust="spacingAndGlyphs">A</text>
<text x="176.66" y="916.4" font-size="24.4" fill="#000" textLength="136.15" lengthAdjust="spacingAndGlyphs">N mutations</text>
<text x="72.17" y="941.9" font-size="24.6" fill="#000" textLength="47.88" lengthAdjust="spacingAndGlyphs">0.04</text>
<text x="72.66" y="1030" font-size="24.6" fill="#000" textLength="47.88" lengthAdjust="spacingAndGlyphs">0.02</text>
<text x="106.61" y="1116.7" font-size="24.6" fill="#000" textLength="13.68" lengthAdjust="spacingAndGlyphs">0</text>
<text x="429.32" y="945.5" font-size="24.6" fill="#000" textLength="27.36" lengthAdjust="spacingAndGlyphs">32</text>
<text x="429.07" y="1017.3" font-size="24.6" fill="#000" textLength="27.36" lengthAdjust="spacingAndGlyphs">28</text>
<text x="429.07" y="1089" font-size="24.6" fill="#000" textLength="27.36" lengthAdjust="spacingAndGlyphs">24</text>
<text x="429.07" y="1160" font-size="24.6" fill="#000" textLength="27.36" lengthAdjust="spacingAndGlyphs">20</text>
<text x="127.35" y="1230.5" font-size="25.5" fill="#000" textLength="49.25" lengthAdjust="spacingAndGlyphs">−0.5</text>
<text x="267.66" y="1230.5" font-size="25.5" fill="#000" textLength="14.18" lengthAdjust="spacingAndGlyphs">0</text>
<text x="372.46" y="1230.5" font-size="25.5" fill="#000" textLength="36.19" lengthAdjust="spacingAndGlyphs">0.5</text>
<text x="201.47" y="1262.7" font-size="24.4" fill="#000" textLength="156.67" lengthAdjust="spacingAndGlyphs">Distance from</text>
<text x="165.94" y="1291.7" font-size="24.4" fill="#000" textLength="247.83" lengthAdjust="spacingAndGlyphs">nucleosome dyad (kb)</text>
<text transform="translate(30.5,0) rotate(-90)" x="-1160.82" y="0" font-size="24.4" fill="#000" textLength="197.74" lengthAdjust="spacingAndGlyphs">Excess mutations</text>
<text transform="translate(59.6,0) rotate(-90)" x="-1095.4" y="0" font-size="24.4" fill="#000" textLength="42.95" lengthAdjust="spacingAndGlyphs">(Mb</text>
<text transform="translate(50.3,0) rotate(-90)" x="-1053.06" y="0" font-size="17.5" fill="#000" textLength="17.32" lengthAdjust="spacingAndGlyphs">−1</text>
<text transform="translate(59.6,0) rotate(-90)" x="-1034.59" y="0" font-size="24.4" fill="#000" textLength="6.4" lengthAdjust="spacingAndGlyphs">)</text>
<text transform="translate(495.3,0) rotate(-90)" x="-1175.3" y="0" font-size="24.4" fill="#000" textLength="233.43" lengthAdjust="spacingAndGlyphs">Accessibility (tags kb</text>
<text transform="translate(487.6,0) rotate(-90)" x="-942.34" y="0" font-size="17.5" fill="#000" textLength="16.88" lengthAdjust="spacingAndGlyphs">−1</text>
<text transform="translate(495.3,0) rotate(-90)" x="-923" y="0" font-size="24.4" fill="#000" textLength="6.79" lengthAdjust="spacingAndGlyphs">)</text>
<text x="541.15" y="35.3" font-size="31" font-weight="bold" stroke="#000" stroke-width="1.1" fill="#000" textLength="21.44" lengthAdjust="spacingAndGlyphs">d</text>
<text x="630.8" y="45.2" font-size="24.4" fill="#000" textLength="326.63" lengthAdjust="spacingAndGlyphs">All mutations, 1 bp resolution</text>
<text x="649.8" y="147.5" font-size="24.3" fill="#000" textLength="27.03" lengthAdjust="spacingAndGlyphs">10</text>
<text x="663.16" y="237.5" font-size="24.3" fill="#000" textLength="13.51" lengthAdjust="spacingAndGlyphs">0</text>
<text x="635.46" y="330.2" font-size="24.3" fill="#000" textLength="41.22" lengthAdjust="spacingAndGlyphs">−10</text>
<text x="982.53" y="94" font-size="24.3" fill="#000" textLength="27.03" lengthAdjust="spacingAndGlyphs">80</text>
<text x="983.01" y="212.3" font-size="24.3" fill="#000" textLength="27.03" lengthAdjust="spacingAndGlyphs">40</text>
<text x="982.53" y="331.4" font-size="24.3" fill="#000" textLength="13.51" lengthAdjust="spacingAndGlyphs">0</text>
<text x="683.75" y="375.3" font-size="25.5" fill="#000" textLength="49.25" lengthAdjust="spacingAndGlyphs">−0.5</text>
<text x="819.96" y="375.3" font-size="25.5" fill="#000" textLength="14.18" lengthAdjust="spacingAndGlyphs">0</text>
<text x="933.01" y="375.3" font-size="25.5" fill="#000" textLength="34.38" lengthAdjust="spacingAndGlyphs">0.5</text>
<text x="755.26" y="401.9" font-size="24.4" fill="#000" textLength="157.29" lengthAdjust="spacingAndGlyphs">Distance from</text>
<text x="720.44" y="430.7" font-size="24.4" fill="#000" textLength="235.06" lengthAdjust="spacingAndGlyphs">CTCF motif start (kb)</text>
<text transform="translate(573.6,0) rotate(-90)" x="-303.84" y="0" font-size="24.4" fill="#000" textLength="199.77" lengthAdjust="spacingAndGlyphs">Excess mutations</text>
<text transform="translate(604,0) rotate(-90)" x="-239" y="0" font-size="24.4" fill="#000" textLength="42.95" lengthAdjust="spacingAndGlyphs">(Mb</text>
<text transform="translate(594.7,0) rotate(-90)" x="-196.66" y="0" font-size="17.5" fill="#000" textLength="17.32" lengthAdjust="spacingAndGlyphs">−1</text>
<text transform="translate(604,0) rotate(-90)" x="-178.19" y="0" font-size="24.4" fill="#000" textLength="6.4" lengthAdjust="spacingAndGlyphs">)</text>
<text transform="translate(1055.5,0) rotate(-90)" x="-325.2" y="0" font-size="24.4" fill="#000" textLength="233.43" lengthAdjust="spacingAndGlyphs">Accessibility (tags kb</text>
<text transform="translate(1047.8,0) rotate(-90)" x="-92.24" y="0" font-size="17.5" fill="#000" textLength="16.88" lengthAdjust="spacingAndGlyphs">−1</text>
<text transform="translate(1055.5,0) rotate(-90)" x="-72.9" y="0" font-size="24.4" fill="#000" textLength="6.79" lengthAdjust="spacingAndGlyphs">)</text>
<text x="541.94" y="470.6" font-size="31.5" font-weight="bold" stroke="#000" stroke-width="1.1" fill="#000" textLength="20.97" lengthAdjust="spacingAndGlyphs">e</text>
<text x="642.08" y="533" font-size="23.6" fill="#000" textLength="32.81" lengthAdjust="spacingAndGlyphs">0.2</text>
<text x="642.08" y="597.8" font-size="23.6" fill="#000" textLength="32.81" lengthAdjust="spacingAndGlyphs">0.1</text>
<text x="641.84" y="663.9" font-size="23.6" fill="#000" textLength="32.81" lengthAdjust="spacingAndGlyphs">0.0</text>
<text x="628.15" y="729.6" font-size="23.6" fill="#000" textLength="46.59" lengthAdjust="spacingAndGlyphs">−0.1</text>
<text x="979.66" y="522.3" font-size="23.6" fill="#000" textLength="26.25" lengthAdjust="spacingAndGlyphs">80</text>
<text x="980.13" y="643.1" font-size="23.6" fill="#000" textLength="26.25" lengthAdjust="spacingAndGlyphs">40</text>
<text x="979.66" y="763.5" font-size="23.6" fill="#000" textLength="13.13" lengthAdjust="spacingAndGlyphs">0</text>
<text x="683.75" y="813.5" font-size="25.5" fill="#000" textLength="49.25" lengthAdjust="spacingAndGlyphs">−0.5</text>
<text x="820.36" y="813.5" font-size="25.5" fill="#000" textLength="14.18" lengthAdjust="spacingAndGlyphs">0</text>
<text x="933.01" y="813.5" font-size="25.5" fill="#000" textLength="34.38" lengthAdjust="spacingAndGlyphs">0.5</text>
<text x="755.26" y="836.8" font-size="24.4" fill="#000" textLength="157.29" lengthAdjust="spacingAndGlyphs">Distance from</text>
<text x="720.44" y="865.8" font-size="24.4" fill="#000" textLength="235.06" lengthAdjust="spacingAndGlyphs">CTCF motif start (kb)</text>
<text transform="translate(574.4,0) rotate(-90)" x="-731.55" y="0" font-size="24.4" fill="#000" textLength="223.83" lengthAdjust="spacingAndGlyphs">Multiallelic mutation</text>
<text transform="translate(604.6,0) rotate(-90)" x="-724.8" y="0" font-size="24.4" fill="#000" textLength="202.15" lengthAdjust="spacingAndGlyphs">relative difference</text>
<text transform="translate(1052.6,0) rotate(-90)" x="-743.6" y="0" font-size="24.4" fill="#000" textLength="233.43" lengthAdjust="spacingAndGlyphs">Accessibility (tags kb</text>
<text transform="translate(1044.9,0) rotate(-90)" x="-510.64" y="0" font-size="17.5" fill="#000" textLength="16.88" lengthAdjust="spacingAndGlyphs">−1</text>
<text transform="translate(1052.6,0) rotate(-90)" x="-491.3" y="0" font-size="24.4" fill="#000" textLength="6.79" lengthAdjust="spacingAndGlyphs">)</text>
<text x="545.02" y="897.25" font-size="31" font-weight="bold" stroke="#000" stroke-width="1.1" fill="#000" textLength="12.18" lengthAdjust="spacingAndGlyphs">f</text>
<text x="644.37" y="935.7" font-size="24.8" fill="#000" textLength="34.48" lengthAdjust="spacingAndGlyphs">1.2</text>
<text x="644.12" y="996.6" font-size="24.8" fill="#000" textLength="34.48" lengthAdjust="spacingAndGlyphs">0.8</text>
<text x="643.87" y="1057.6" font-size="24.8" fill="#000" textLength="34.48" lengthAdjust="spacingAndGlyphs">0.4</text>
<text x="644.12" y="1126.6" font-size="24.8" fill="#000" textLength="34.48" lengthAdjust="spacingAndGlyphs">0.0</text>
<text x="983.63" y="961.6" font-size="24.3" fill="#000" textLength="27.03" lengthAdjust="spacingAndGlyphs">80</text>
<text x="984.11" y="1077.8" font-size="24.3" fill="#000" textLength="27.03" lengthAdjust="spacingAndGlyphs">40</text>
<text x="983.63" y="1190" font-size="24.3" fill="#000" textLength="13.51" lengthAdjust="spacingAndGlyphs">0</text>
<text x="683.75" y="1230.5" font-size="25.5" fill="#000" textLength="49.25" lengthAdjust="spacingAndGlyphs">−0.5</text>
<text x="820.66" y="1230.5" font-size="25.5" fill="#000" textLength="14.18" lengthAdjust="spacingAndGlyphs">0</text>
<text x="933.01" y="1230.5" font-size="25.5" fill="#000" textLength="34.38" lengthAdjust="spacingAndGlyphs">0.5</text>
<text x="755.26" y="1260.5" font-size="24.4" fill="#000" textLength="157.29" lengthAdjust="spacingAndGlyphs">Distance from</text>
<text x="720.44" y="1290.3" font-size="24.4" fill="#000" textLength="235.06" lengthAdjust="spacingAndGlyphs">CTCF motif start (kb)</text>
<text transform="translate(573.6,0) rotate(-90)" x="-1156.32" y="0" font-size="24.4" fill="#000" textLength="198.25" lengthAdjust="spacingAndGlyphs">Excess mutations</text>
<text transform="translate(604,0) rotate(-90)" x="-1091.5" y="0" font-size="24.4" fill="#000" textLength="42.95" lengthAdjust="spacingAndGlyphs">(Mb</text>
<text transform="translate(594.7,0) rotate(-90)" x="-1049.16" y="0" font-size="17.5" fill="#000" textLength="17.32" lengthAdjust="spacingAndGlyphs">−1</text>
<text transform="translate(604,0) rotate(-90)" x="-1030.69" y="0" font-size="24.4" fill="#000" textLength="6.4" lengthAdjust="spacingAndGlyphs">)</text>
<text transform="translate(1056,0) rotate(-90)" x="-1172.6" y="0" font-size="24.4" fill="#000" textLength="233.43" lengthAdjust="spacingAndGlyphs">Accessibility (tags kb</text>
<text transform="translate(1048.3,0) rotate(-90)" x="-939.64" y="0" font-size="17.5" fill="#000" textLength="16.88" lengthAdjust="spacingAndGlyphs">−1</text>
<text transform="translate(1056,0) rotate(-90)" x="-920.3" y="0" font-size="24.4" fill="#000" textLength="6.79" lengthAdjust="spacingAndGlyphs">)</text>
</svg></body></html>
